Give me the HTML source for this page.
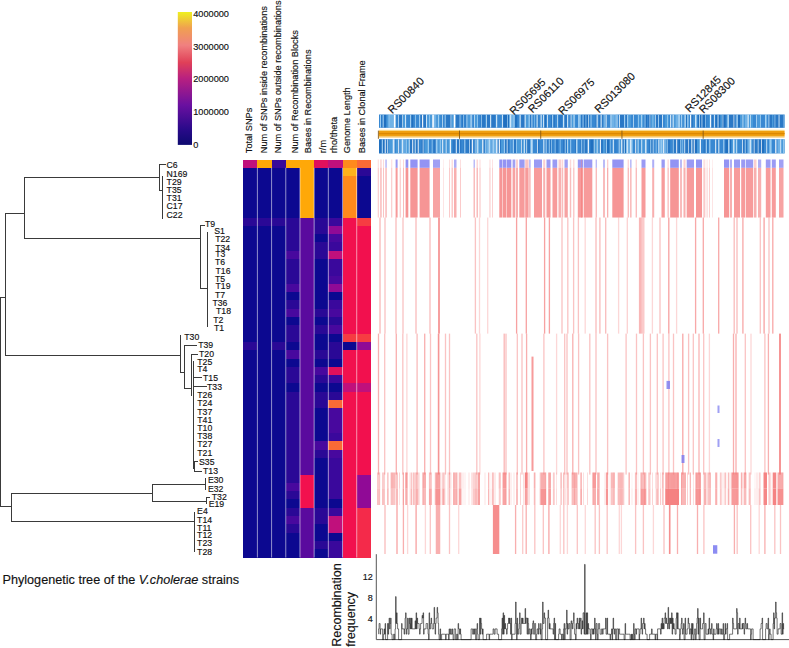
<!DOCTYPE html>
<html><head><meta charset="utf-8"><style>
html,body{margin:0;padding:0;background:#fff;width:789px;height:648px;overflow:hidden}
svg text{font-family:"Liberation Sans",sans-serif;stroke:#111;stroke-width:0.15px}
</style></head><body>
<svg width="789" height="648" viewBox="0 0 789 648" style="position:absolute;left:0;top:0">
<rect x="0" y="0" width="789" height="648" fill="#fff"/>
<g shape-rendering="crispEdges">
<rect x="243.20" y="159.50" width="14.49" height="8.59" fill="#c0107c"/>
<rect x="257.39" y="159.50" width="14.49" height="8.59" fill="#ffa808"/>
<rect x="271.58" y="159.50" width="14.49" height="8.59" fill="#380a9a"/>
<rect x="285.77" y="159.50" width="14.49" height="8.59" fill="#ffa808"/>
<rect x="299.96" y="159.50" width="14.49" height="8.59" fill="#ffa808"/>
<rect x="314.14" y="159.50" width="14.49" height="8.59" fill="#e0105c"/>
<rect x="328.33" y="159.50" width="14.49" height="8.59" fill="#c0107c"/>
<rect x="342.52" y="159.50" width="14.49" height="8.59" fill="#ff8a1c"/>
<rect x="356.71" y="159.50" width="14.49" height="8.59" fill="#fa6a36"/>
<rect x="243.20" y="167.79" width="14.49" height="8.59" fill="#0c0890"/>
<rect x="257.39" y="167.79" width="14.49" height="8.59" fill="#0c0890"/>
<rect x="271.58" y="167.79" width="14.49" height="8.59" fill="#0c0890"/>
<rect x="285.77" y="167.79" width="14.49" height="8.59" fill="#0c0890"/>
<rect x="299.96" y="167.79" width="14.49" height="8.59" fill="#ffa808"/>
<rect x="314.14" y="167.79" width="14.49" height="8.59" fill="#0c0890"/>
<rect x="328.33" y="167.79" width="14.49" height="8.59" fill="#0c0890"/>
<rect x="342.52" y="167.79" width="14.49" height="8.59" fill="#ffb21c"/>
<rect x="356.71" y="167.79" width="14.49" height="8.59" fill="#2a0896"/>
<rect x="243.20" y="176.08" width="14.49" height="8.59" fill="#0c0890"/>
<rect x="257.39" y="176.08" width="14.49" height="8.59" fill="#0c0890"/>
<rect x="271.58" y="176.08" width="14.49" height="8.59" fill="#0c0890"/>
<rect x="285.77" y="176.08" width="14.49" height="8.59" fill="#0c0890"/>
<rect x="299.96" y="176.08" width="14.49" height="8.59" fill="#ffa808"/>
<rect x="314.14" y="176.08" width="14.49" height="8.59" fill="#0c0890"/>
<rect x="328.33" y="176.08" width="14.49" height="8.59" fill="#0c0890"/>
<rect x="342.52" y="176.08" width="14.49" height="8.59" fill="#ff8a1c"/>
<rect x="356.71" y="176.08" width="14.49" height="8.59" fill="#0c0890"/>
<rect x="243.20" y="184.38" width="14.49" height="8.59" fill="#0c0890"/>
<rect x="257.39" y="184.38" width="14.49" height="8.59" fill="#0c0890"/>
<rect x="271.58" y="184.38" width="14.49" height="8.59" fill="#0c0890"/>
<rect x="285.77" y="184.38" width="14.49" height="8.59" fill="#0c0890"/>
<rect x="299.96" y="184.38" width="14.49" height="8.59" fill="#ffa808"/>
<rect x="314.14" y="184.38" width="14.49" height="8.59" fill="#0c0890"/>
<rect x="328.33" y="184.38" width="14.49" height="8.59" fill="#0c0890"/>
<rect x="342.52" y="184.38" width="14.49" height="8.59" fill="#ff8a1c"/>
<rect x="356.71" y="184.38" width="14.49" height="8.59" fill="#0c0890"/>
<rect x="243.20" y="192.67" width="14.49" height="8.59" fill="#0c0890"/>
<rect x="257.39" y="192.67" width="14.49" height="8.59" fill="#0c0890"/>
<rect x="271.58" y="192.67" width="14.49" height="8.59" fill="#0c0890"/>
<rect x="285.77" y="192.67" width="14.49" height="8.59" fill="#0c0890"/>
<rect x="299.96" y="192.67" width="14.49" height="8.59" fill="#ffa808"/>
<rect x="314.14" y="192.67" width="14.49" height="8.59" fill="#0c0890"/>
<rect x="328.33" y="192.67" width="14.49" height="8.59" fill="#0c0890"/>
<rect x="342.52" y="192.67" width="14.49" height="8.59" fill="#ff8a1c"/>
<rect x="356.71" y="192.67" width="14.49" height="8.59" fill="#0c0890"/>
<rect x="243.20" y="200.96" width="14.49" height="8.59" fill="#0c0890"/>
<rect x="257.39" y="200.96" width="14.49" height="8.59" fill="#0c0890"/>
<rect x="271.58" y="200.96" width="14.49" height="8.59" fill="#0c0890"/>
<rect x="285.77" y="200.96" width="14.49" height="8.59" fill="#0c0890"/>
<rect x="299.96" y="200.96" width="14.49" height="8.59" fill="#ffa808"/>
<rect x="314.14" y="200.96" width="14.49" height="8.59" fill="#0c0890"/>
<rect x="328.33" y="200.96" width="14.49" height="8.59" fill="#0c0890"/>
<rect x="342.52" y="200.96" width="14.49" height="8.59" fill="#ff8a1c"/>
<rect x="356.71" y="200.96" width="14.49" height="8.59" fill="#0c0890"/>
<rect x="243.20" y="209.25" width="14.49" height="8.59" fill="#0c0890"/>
<rect x="257.39" y="209.25" width="14.49" height="8.59" fill="#0c0890"/>
<rect x="271.58" y="209.25" width="14.49" height="8.59" fill="#0c0890"/>
<rect x="285.77" y="209.25" width="14.49" height="8.59" fill="#0c0890"/>
<rect x="299.96" y="209.25" width="14.49" height="8.59" fill="#ffa808"/>
<rect x="314.14" y="209.25" width="14.49" height="8.59" fill="#0c0890"/>
<rect x="328.33" y="209.25" width="14.49" height="8.59" fill="#0c0890"/>
<rect x="342.52" y="209.25" width="14.49" height="8.59" fill="#ff8a1c"/>
<rect x="356.71" y="209.25" width="14.49" height="8.59" fill="#0c0890"/>
<rect x="243.20" y="217.54" width="14.49" height="8.59" fill="#2a0896"/>
<rect x="257.39" y="217.54" width="14.49" height="8.59" fill="#2a0896"/>
<rect x="271.58" y="217.54" width="14.49" height="8.59" fill="#2a0896"/>
<rect x="285.77" y="217.54" width="14.49" height="8.59" fill="#2a0896"/>
<rect x="299.96" y="217.54" width="14.49" height="8.59" fill="#5a0a9e"/>
<rect x="314.14" y="217.54" width="14.49" height="8.59" fill="#2a0896"/>
<rect x="328.33" y="217.54" width="14.49" height="8.59" fill="#3a089c"/>
<rect x="342.52" y="217.54" width="14.49" height="8.59" fill="#f2104e"/>
<rect x="356.71" y="217.54" width="14.49" height="8.59" fill="#f63c42"/>
<rect x="243.20" y="225.83" width="14.49" height="8.59" fill="#0c0890"/>
<rect x="257.39" y="225.83" width="14.49" height="8.59" fill="#0c0890"/>
<rect x="271.58" y="225.83" width="14.49" height="8.59" fill="#0c0890"/>
<rect x="285.77" y="225.83" width="14.49" height="8.59" fill="#2a0896"/>
<rect x="299.96" y="225.83" width="14.49" height="8.59" fill="#5a0a9e"/>
<rect x="314.14" y="225.83" width="14.49" height="8.59" fill="#2a0896"/>
<rect x="328.33" y="225.83" width="14.49" height="8.59" fill="#900a96"/>
<rect x="342.52" y="225.83" width="14.49" height="8.59" fill="#f2104e"/>
<rect x="356.71" y="225.83" width="14.49" height="8.59" fill="#f2104e"/>
<rect x="243.20" y="234.12" width="14.49" height="8.59" fill="#0c0890"/>
<rect x="257.39" y="234.12" width="14.49" height="8.59" fill="#0c0890"/>
<rect x="271.58" y="234.12" width="14.49" height="8.59" fill="#0c0890"/>
<rect x="285.77" y="234.12" width="14.49" height="8.59" fill="#2a0896"/>
<rect x="299.96" y="234.12" width="14.49" height="8.59" fill="#5a0a9e"/>
<rect x="314.14" y="234.12" width="14.49" height="8.59" fill="#0c0890"/>
<rect x="328.33" y="234.12" width="14.49" height="8.59" fill="#48089e"/>
<rect x="342.52" y="234.12" width="14.49" height="8.59" fill="#f2104e"/>
<rect x="356.71" y="234.12" width="14.49" height="8.59" fill="#f2104e"/>
<rect x="243.20" y="242.42" width="14.49" height="8.59" fill="#0c0890"/>
<rect x="257.39" y="242.42" width="14.49" height="8.59" fill="#0c0890"/>
<rect x="271.58" y="242.42" width="14.49" height="8.59" fill="#0c0890"/>
<rect x="285.77" y="242.42" width="14.49" height="8.59" fill="#2a0896"/>
<rect x="299.96" y="242.42" width="14.49" height="8.59" fill="#5a0a9e"/>
<rect x="314.14" y="242.42" width="14.49" height="8.59" fill="#2a0896"/>
<rect x="328.33" y="242.42" width="14.49" height="8.59" fill="#3a089c"/>
<rect x="342.52" y="242.42" width="14.49" height="8.59" fill="#f2104e"/>
<rect x="356.71" y="242.42" width="14.49" height="8.59" fill="#f2104e"/>
<rect x="243.20" y="250.71" width="14.49" height="8.59" fill="#0c0890"/>
<rect x="257.39" y="250.71" width="14.49" height="8.59" fill="#0c0890"/>
<rect x="271.58" y="250.71" width="14.49" height="8.59" fill="#0c0890"/>
<rect x="285.77" y="250.71" width="14.49" height="8.59" fill="#48089e"/>
<rect x="299.96" y="250.71" width="14.49" height="8.59" fill="#5a0a9e"/>
<rect x="314.14" y="250.71" width="14.49" height="8.59" fill="#2a0896"/>
<rect x="328.33" y="250.71" width="14.49" height="8.59" fill="#c0107c"/>
<rect x="342.52" y="250.71" width="14.49" height="8.59" fill="#f2104e"/>
<rect x="356.71" y="250.71" width="14.49" height="8.59" fill="#f2104e"/>
<rect x="243.20" y="259.00" width="14.49" height="8.59" fill="#0c0890"/>
<rect x="257.39" y="259.00" width="14.49" height="8.59" fill="#0c0890"/>
<rect x="271.58" y="259.00" width="14.49" height="8.59" fill="#0c0890"/>
<rect x="285.77" y="259.00" width="14.49" height="8.59" fill="#2a0896"/>
<rect x="299.96" y="259.00" width="14.49" height="8.59" fill="#5a0a9e"/>
<rect x="314.14" y="259.00" width="14.49" height="8.59" fill="#0c0890"/>
<rect x="328.33" y="259.00" width="14.49" height="8.59" fill="#3a089c"/>
<rect x="342.52" y="259.00" width="14.49" height="8.59" fill="#f2104e"/>
<rect x="356.71" y="259.00" width="14.49" height="8.59" fill="#f2104e"/>
<rect x="243.20" y="267.29" width="14.49" height="8.59" fill="#0c0890"/>
<rect x="257.39" y="267.29" width="14.49" height="8.59" fill="#0c0890"/>
<rect x="271.58" y="267.29" width="14.49" height="8.59" fill="#0c0890"/>
<rect x="285.77" y="267.29" width="14.49" height="8.59" fill="#2a0896"/>
<rect x="299.96" y="267.29" width="14.49" height="8.59" fill="#5a0a9e"/>
<rect x="314.14" y="267.29" width="14.49" height="8.59" fill="#0c0890"/>
<rect x="328.33" y="267.29" width="14.49" height="8.59" fill="#3a089c"/>
<rect x="342.52" y="267.29" width="14.49" height="8.59" fill="#f2104e"/>
<rect x="356.71" y="267.29" width="14.49" height="8.59" fill="#f2104e"/>
<rect x="243.20" y="275.58" width="14.49" height="8.59" fill="#0c0890"/>
<rect x="257.39" y="275.58" width="14.49" height="8.59" fill="#0c0890"/>
<rect x="271.58" y="275.58" width="14.49" height="8.59" fill="#0c0890"/>
<rect x="285.77" y="275.58" width="14.49" height="8.59" fill="#2a0896"/>
<rect x="299.96" y="275.58" width="14.49" height="8.59" fill="#5a0a9e"/>
<rect x="314.14" y="275.58" width="14.49" height="8.59" fill="#0c0890"/>
<rect x="328.33" y="275.58" width="14.49" height="8.59" fill="#48089e"/>
<rect x="342.52" y="275.58" width="14.49" height="8.59" fill="#f2104e"/>
<rect x="356.71" y="275.58" width="14.49" height="8.59" fill="#f2104e"/>
<rect x="243.20" y="283.88" width="14.49" height="8.59" fill="#0c0890"/>
<rect x="257.39" y="283.88" width="14.49" height="8.59" fill="#0c0890"/>
<rect x="271.58" y="283.88" width="14.49" height="8.59" fill="#0c0890"/>
<rect x="285.77" y="283.88" width="14.49" height="8.59" fill="#48089e"/>
<rect x="299.96" y="283.88" width="14.49" height="8.59" fill="#5a0a9e"/>
<rect x="314.14" y="283.88" width="14.49" height="8.59" fill="#0c0890"/>
<rect x="328.33" y="283.88" width="14.49" height="8.59" fill="#900a96"/>
<rect x="342.52" y="283.88" width="14.49" height="8.59" fill="#f2104e"/>
<rect x="356.71" y="283.88" width="14.49" height="8.59" fill="#f2104e"/>
<rect x="243.20" y="292.17" width="14.49" height="8.59" fill="#0c0890"/>
<rect x="257.39" y="292.17" width="14.49" height="8.59" fill="#0c0890"/>
<rect x="271.58" y="292.17" width="14.49" height="8.59" fill="#0c0890"/>
<rect x="285.77" y="292.17" width="14.49" height="8.59" fill="#0c0890"/>
<rect x="299.96" y="292.17" width="14.49" height="8.59" fill="#5a0a9e"/>
<rect x="314.14" y="292.17" width="14.49" height="8.59" fill="#0c0890"/>
<rect x="328.33" y="292.17" width="14.49" height="8.59" fill="#0c0890"/>
<rect x="342.52" y="292.17" width="14.49" height="8.59" fill="#f2104e"/>
<rect x="356.71" y="292.17" width="14.49" height="8.59" fill="#f2104e"/>
<rect x="243.20" y="300.46" width="14.49" height="8.59" fill="#0c0890"/>
<rect x="257.39" y="300.46" width="14.49" height="8.59" fill="#0c0890"/>
<rect x="271.58" y="300.46" width="14.49" height="8.59" fill="#0c0890"/>
<rect x="285.77" y="300.46" width="14.49" height="8.59" fill="#2a0896"/>
<rect x="299.96" y="300.46" width="14.49" height="8.59" fill="#5a0a9e"/>
<rect x="314.14" y="300.46" width="14.49" height="8.59" fill="#0c0890"/>
<rect x="328.33" y="300.46" width="14.49" height="8.59" fill="#3a089c"/>
<rect x="342.52" y="300.46" width="14.49" height="8.59" fill="#f2104e"/>
<rect x="356.71" y="300.46" width="14.49" height="8.59" fill="#f2104e"/>
<rect x="243.20" y="308.75" width="14.49" height="8.59" fill="#0c0890"/>
<rect x="257.39" y="308.75" width="14.49" height="8.59" fill="#0c0890"/>
<rect x="271.58" y="308.75" width="14.49" height="8.59" fill="#0c0890"/>
<rect x="285.77" y="308.75" width="14.49" height="8.59" fill="#48089e"/>
<rect x="299.96" y="308.75" width="14.49" height="8.59" fill="#5a0a9e"/>
<rect x="314.14" y="308.75" width="14.49" height="8.59" fill="#2a0896"/>
<rect x="328.33" y="308.75" width="14.49" height="8.59" fill="#48089e"/>
<rect x="342.52" y="308.75" width="14.49" height="8.59" fill="#f2104e"/>
<rect x="356.71" y="308.75" width="14.49" height="8.59" fill="#f2104e"/>
<rect x="243.20" y="317.04" width="14.49" height="8.59" fill="#0c0890"/>
<rect x="257.39" y="317.04" width="14.49" height="8.59" fill="#0c0890"/>
<rect x="271.58" y="317.04" width="14.49" height="8.59" fill="#0c0890"/>
<rect x="285.77" y="317.04" width="14.49" height="8.59" fill="#0c0890"/>
<rect x="299.96" y="317.04" width="14.49" height="8.59" fill="#5a0a9e"/>
<rect x="314.14" y="317.04" width="14.49" height="8.59" fill="#0c0890"/>
<rect x="328.33" y="317.04" width="14.49" height="8.59" fill="#2a0896"/>
<rect x="342.52" y="317.04" width="14.49" height="8.59" fill="#f2104e"/>
<rect x="356.71" y="317.04" width="14.49" height="8.59" fill="#f2104e"/>
<rect x="243.20" y="325.33" width="14.49" height="8.59" fill="#0c0890"/>
<rect x="257.39" y="325.33" width="14.49" height="8.59" fill="#0c0890"/>
<rect x="271.58" y="325.33" width="14.49" height="8.59" fill="#0c0890"/>
<rect x="285.77" y="325.33" width="14.49" height="8.59" fill="#2a0896"/>
<rect x="299.96" y="325.33" width="14.49" height="8.59" fill="#5a0a9e"/>
<rect x="314.14" y="325.33" width="14.49" height="8.59" fill="#2a0896"/>
<rect x="328.33" y="325.33" width="14.49" height="8.59" fill="#48089e"/>
<rect x="342.52" y="325.33" width="14.49" height="8.59" fill="#f2104e"/>
<rect x="356.71" y="325.33" width="14.49" height="8.59" fill="#f2104e"/>
<rect x="243.20" y="333.62" width="14.49" height="8.59" fill="#0c0890"/>
<rect x="257.39" y="333.62" width="14.49" height="8.59" fill="#0c0890"/>
<rect x="271.58" y="333.62" width="14.49" height="8.59" fill="#0c0890"/>
<rect x="285.77" y="333.62" width="14.49" height="8.59" fill="#2a0896"/>
<rect x="299.96" y="333.62" width="14.49" height="8.59" fill="#5a0a9e"/>
<rect x="314.14" y="333.62" width="14.49" height="8.59" fill="#0c0890"/>
<rect x="328.33" y="333.62" width="14.49" height="8.59" fill="#0c0890"/>
<rect x="342.52" y="333.62" width="14.49" height="8.59" fill="#f63c42"/>
<rect x="356.71" y="333.62" width="14.49" height="8.59" fill="#f63c42"/>
<rect x="243.20" y="341.92" width="14.49" height="8.59" fill="#2a0896"/>
<rect x="257.39" y="341.92" width="14.49" height="8.59" fill="#0c0890"/>
<rect x="271.58" y="341.92" width="14.49" height="8.59" fill="#2a0896"/>
<rect x="285.77" y="341.92" width="14.49" height="8.59" fill="#0c0890"/>
<rect x="299.96" y="341.92" width="14.49" height="8.59" fill="#5a0a9e"/>
<rect x="314.14" y="341.92" width="14.49" height="8.59" fill="#0c0890"/>
<rect x="328.33" y="341.92" width="14.49" height="8.59" fill="#2a0896"/>
<rect x="342.52" y="341.92" width="14.49" height="8.59" fill="#0c0890"/>
<rect x="356.71" y="341.92" width="14.49" height="8.59" fill="#900a96"/>
<rect x="243.20" y="350.21" width="14.49" height="8.59" fill="#0c0890"/>
<rect x="257.39" y="350.21" width="14.49" height="8.59" fill="#0c0890"/>
<rect x="271.58" y="350.21" width="14.49" height="8.59" fill="#0c0890"/>
<rect x="285.77" y="350.21" width="14.49" height="8.59" fill="#48089e"/>
<rect x="299.96" y="350.21" width="14.49" height="8.59" fill="#5a0a9e"/>
<rect x="314.14" y="350.21" width="14.49" height="8.59" fill="#2a0896"/>
<rect x="328.33" y="350.21" width="14.49" height="8.59" fill="#2a0896"/>
<rect x="342.52" y="350.21" width="14.49" height="8.59" fill="#f2104e"/>
<rect x="356.71" y="350.21" width="14.49" height="8.59" fill="#f2104e"/>
<rect x="243.20" y="358.50" width="14.49" height="8.59" fill="#0c0890"/>
<rect x="257.39" y="358.50" width="14.49" height="8.59" fill="#0c0890"/>
<rect x="271.58" y="358.50" width="14.49" height="8.59" fill="#0c0890"/>
<rect x="285.77" y="358.50" width="14.49" height="8.59" fill="#0c0890"/>
<rect x="299.96" y="358.50" width="14.49" height="8.59" fill="#5a0a9e"/>
<rect x="314.14" y="358.50" width="14.49" height="8.59" fill="#0c0890"/>
<rect x="328.33" y="358.50" width="14.49" height="8.59" fill="#0c0890"/>
<rect x="342.52" y="358.50" width="14.49" height="8.59" fill="#f2104e"/>
<rect x="356.71" y="358.50" width="14.49" height="8.59" fill="#f2104e"/>
<rect x="243.20" y="366.79" width="14.49" height="8.59" fill="#0c0890"/>
<rect x="257.39" y="366.79" width="14.49" height="8.59" fill="#0c0890"/>
<rect x="271.58" y="366.79" width="14.49" height="8.59" fill="#0c0890"/>
<rect x="285.77" y="366.79" width="14.49" height="8.59" fill="#2a0896"/>
<rect x="299.96" y="366.79" width="14.49" height="8.59" fill="#5a0a9e"/>
<rect x="314.14" y="366.79" width="14.49" height="8.59" fill="#48089e"/>
<rect x="328.33" y="366.79" width="14.49" height="8.59" fill="#e0105c"/>
<rect x="342.52" y="366.79" width="14.49" height="8.59" fill="#f2104e"/>
<rect x="356.71" y="366.79" width="14.49" height="8.59" fill="#f2104e"/>
<rect x="243.20" y="375.08" width="14.49" height="8.59" fill="#0c0890"/>
<rect x="257.39" y="375.08" width="14.49" height="8.59" fill="#0c0890"/>
<rect x="271.58" y="375.08" width="14.49" height="8.59" fill="#0c0890"/>
<rect x="285.77" y="375.08" width="14.49" height="8.59" fill="#2a0896"/>
<rect x="299.96" y="375.08" width="14.49" height="8.59" fill="#5a0a9e"/>
<rect x="314.14" y="375.08" width="14.49" height="8.59" fill="#2a0896"/>
<rect x="328.33" y="375.08" width="14.49" height="8.59" fill="#3a089c"/>
<rect x="342.52" y="375.08" width="14.49" height="8.59" fill="#f2104e"/>
<rect x="356.71" y="375.08" width="14.49" height="8.59" fill="#f2104e"/>
<rect x="243.20" y="383.38" width="14.49" height="8.59" fill="#0c0890"/>
<rect x="257.39" y="383.38" width="14.49" height="8.59" fill="#0c0890"/>
<rect x="271.58" y="383.38" width="14.49" height="8.59" fill="#0c0890"/>
<rect x="285.77" y="383.38" width="14.49" height="8.59" fill="#0c0890"/>
<rect x="299.96" y="383.38" width="14.49" height="8.59" fill="#5a0a9e"/>
<rect x="314.14" y="383.38" width="14.49" height="8.59" fill="#0c0890"/>
<rect x="328.33" y="383.38" width="14.49" height="8.59" fill="#0c0890"/>
<rect x="342.52" y="383.38" width="14.49" height="8.59" fill="#c0107c"/>
<rect x="356.71" y="383.38" width="14.49" height="8.59" fill="#c0107c"/>
<rect x="243.20" y="391.67" width="14.49" height="8.59" fill="#0c0890"/>
<rect x="257.39" y="391.67" width="14.49" height="8.59" fill="#0c0890"/>
<rect x="271.58" y="391.67" width="14.49" height="8.59" fill="#0c0890"/>
<rect x="285.77" y="391.67" width="14.49" height="8.59" fill="#2a0896"/>
<rect x="299.96" y="391.67" width="14.49" height="8.59" fill="#5a0a9e"/>
<rect x="314.14" y="391.67" width="14.49" height="8.59" fill="#2a0896"/>
<rect x="328.33" y="391.67" width="14.49" height="8.59" fill="#2a0896"/>
<rect x="342.52" y="391.67" width="14.49" height="8.59" fill="#f2104e"/>
<rect x="356.71" y="391.67" width="14.49" height="8.59" fill="#f2104e"/>
<rect x="243.20" y="399.96" width="14.49" height="8.59" fill="#0c0890"/>
<rect x="257.39" y="399.96" width="14.49" height="8.59" fill="#0c0890"/>
<rect x="271.58" y="399.96" width="14.49" height="8.59" fill="#0c0890"/>
<rect x="285.77" y="399.96" width="14.49" height="8.59" fill="#2a0896"/>
<rect x="299.96" y="399.96" width="14.49" height="8.59" fill="#5a0a9e"/>
<rect x="314.14" y="399.96" width="14.49" height="8.59" fill="#2a0896"/>
<rect x="328.33" y="399.96" width="14.49" height="8.59" fill="#fa6a36"/>
<rect x="342.52" y="399.96" width="14.49" height="8.59" fill="#f2104e"/>
<rect x="356.71" y="399.96" width="14.49" height="8.59" fill="#f2104e"/>
<rect x="243.20" y="408.25" width="14.49" height="8.59" fill="#0c0890"/>
<rect x="257.39" y="408.25" width="14.49" height="8.59" fill="#0c0890"/>
<rect x="271.58" y="408.25" width="14.49" height="8.59" fill="#0c0890"/>
<rect x="285.77" y="408.25" width="14.49" height="8.59" fill="#2a0896"/>
<rect x="299.96" y="408.25" width="14.49" height="8.59" fill="#5a0a9e"/>
<rect x="314.14" y="408.25" width="14.49" height="8.59" fill="#0c0890"/>
<rect x="328.33" y="408.25" width="14.49" height="8.59" fill="#48089e"/>
<rect x="342.52" y="408.25" width="14.49" height="8.59" fill="#f2104e"/>
<rect x="356.71" y="408.25" width="14.49" height="8.59" fill="#f2104e"/>
<rect x="243.20" y="416.54" width="14.49" height="8.59" fill="#0c0890"/>
<rect x="257.39" y="416.54" width="14.49" height="8.59" fill="#0c0890"/>
<rect x="271.58" y="416.54" width="14.49" height="8.59" fill="#0c0890"/>
<rect x="285.77" y="416.54" width="14.49" height="8.59" fill="#2a0896"/>
<rect x="299.96" y="416.54" width="14.49" height="8.59" fill="#5a0a9e"/>
<rect x="314.14" y="416.54" width="14.49" height="8.59" fill="#0c0890"/>
<rect x="328.33" y="416.54" width="14.49" height="8.59" fill="#48089e"/>
<rect x="342.52" y="416.54" width="14.49" height="8.59" fill="#f2104e"/>
<rect x="356.71" y="416.54" width="14.49" height="8.59" fill="#f2104e"/>
<rect x="243.20" y="424.83" width="14.49" height="8.59" fill="#0c0890"/>
<rect x="257.39" y="424.83" width="14.49" height="8.59" fill="#0c0890"/>
<rect x="271.58" y="424.83" width="14.49" height="8.59" fill="#0c0890"/>
<rect x="285.77" y="424.83" width="14.49" height="8.59" fill="#2a0896"/>
<rect x="299.96" y="424.83" width="14.49" height="8.59" fill="#5a0a9e"/>
<rect x="314.14" y="424.83" width="14.49" height="8.59" fill="#0c0890"/>
<rect x="328.33" y="424.83" width="14.49" height="8.59" fill="#48089e"/>
<rect x="342.52" y="424.83" width="14.49" height="8.59" fill="#f2104e"/>
<rect x="356.71" y="424.83" width="14.49" height="8.59" fill="#f2104e"/>
<rect x="243.20" y="433.12" width="14.49" height="8.59" fill="#0c0890"/>
<rect x="257.39" y="433.12" width="14.49" height="8.59" fill="#0c0890"/>
<rect x="271.58" y="433.12" width="14.49" height="8.59" fill="#0c0890"/>
<rect x="285.77" y="433.12" width="14.49" height="8.59" fill="#2a0896"/>
<rect x="299.96" y="433.12" width="14.49" height="8.59" fill="#5a0a9e"/>
<rect x="314.14" y="433.12" width="14.49" height="8.59" fill="#0c0890"/>
<rect x="328.33" y="433.12" width="14.49" height="8.59" fill="#3a089c"/>
<rect x="342.52" y="433.12" width="14.49" height="8.59" fill="#f2104e"/>
<rect x="356.71" y="433.12" width="14.49" height="8.59" fill="#f2104e"/>
<rect x="243.20" y="441.42" width="14.49" height="8.59" fill="#0c0890"/>
<rect x="257.39" y="441.42" width="14.49" height="8.59" fill="#0c0890"/>
<rect x="271.58" y="441.42" width="14.49" height="8.59" fill="#0c0890"/>
<rect x="285.77" y="441.42" width="14.49" height="8.59" fill="#2a0896"/>
<rect x="299.96" y="441.42" width="14.49" height="8.59" fill="#5a0a9e"/>
<rect x="314.14" y="441.42" width="14.49" height="8.59" fill="#48089e"/>
<rect x="328.33" y="441.42" width="14.49" height="8.59" fill="#fa6a36"/>
<rect x="342.52" y="441.42" width="14.49" height="8.59" fill="#f2104e"/>
<rect x="356.71" y="441.42" width="14.49" height="8.59" fill="#f2104e"/>
<rect x="243.20" y="449.71" width="14.49" height="8.59" fill="#0c0890"/>
<rect x="257.39" y="449.71" width="14.49" height="8.59" fill="#0c0890"/>
<rect x="271.58" y="449.71" width="14.49" height="8.59" fill="#0c0890"/>
<rect x="285.77" y="449.71" width="14.49" height="8.59" fill="#2a0896"/>
<rect x="299.96" y="449.71" width="14.49" height="8.59" fill="#5a0a9e"/>
<rect x="314.14" y="449.71" width="14.49" height="8.59" fill="#2a0896"/>
<rect x="328.33" y="449.71" width="14.49" height="8.59" fill="#48089e"/>
<rect x="342.52" y="449.71" width="14.49" height="8.59" fill="#f2104e"/>
<rect x="356.71" y="449.71" width="14.49" height="8.59" fill="#f2104e"/>
<rect x="243.20" y="458.00" width="14.49" height="8.59" fill="#0c0890"/>
<rect x="257.39" y="458.00" width="14.49" height="8.59" fill="#0c0890"/>
<rect x="271.58" y="458.00" width="14.49" height="8.59" fill="#0c0890"/>
<rect x="285.77" y="458.00" width="14.49" height="8.59" fill="#2a0896"/>
<rect x="299.96" y="458.00" width="14.49" height="8.59" fill="#5a0a9e"/>
<rect x="314.14" y="458.00" width="14.49" height="8.59" fill="#0c0890"/>
<rect x="328.33" y="458.00" width="14.49" height="8.59" fill="#3a089c"/>
<rect x="342.52" y="458.00" width="14.49" height="8.59" fill="#f2104e"/>
<rect x="356.71" y="458.00" width="14.49" height="8.59" fill="#f2104e"/>
<rect x="243.20" y="466.29" width="14.49" height="8.59" fill="#0c0890"/>
<rect x="257.39" y="466.29" width="14.49" height="8.59" fill="#0c0890"/>
<rect x="271.58" y="466.29" width="14.49" height="8.59" fill="#0c0890"/>
<rect x="285.77" y="466.29" width="14.49" height="8.59" fill="#2a0896"/>
<rect x="299.96" y="466.29" width="14.49" height="8.59" fill="#5a0a9e"/>
<rect x="314.14" y="466.29" width="14.49" height="8.59" fill="#0c0890"/>
<rect x="328.33" y="466.29" width="14.49" height="8.59" fill="#3a089c"/>
<rect x="342.52" y="466.29" width="14.49" height="8.59" fill="#f2104e"/>
<rect x="356.71" y="466.29" width="14.49" height="8.59" fill="#f2104e"/>
<rect x="243.20" y="474.58" width="14.49" height="8.59" fill="#0c0890"/>
<rect x="257.39" y="474.58" width="14.49" height="8.59" fill="#0c0890"/>
<rect x="271.58" y="474.58" width="14.49" height="8.59" fill="#0c0890"/>
<rect x="285.77" y="474.58" width="14.49" height="8.59" fill="#2a0896"/>
<rect x="299.96" y="474.58" width="14.49" height="8.59" fill="#f2104e"/>
<rect x="314.14" y="474.58" width="14.49" height="8.59" fill="#0c0890"/>
<rect x="328.33" y="474.58" width="14.49" height="8.59" fill="#3a089c"/>
<rect x="342.52" y="474.58" width="14.49" height="8.59" fill="#f2104e"/>
<rect x="356.71" y="474.58" width="14.49" height="8.59" fill="#900a96"/>
<rect x="243.20" y="482.88" width="14.49" height="8.59" fill="#0c0890"/>
<rect x="257.39" y="482.88" width="14.49" height="8.59" fill="#0c0890"/>
<rect x="271.58" y="482.88" width="14.49" height="8.59" fill="#0c0890"/>
<rect x="285.77" y="482.88" width="14.49" height="8.59" fill="#48089e"/>
<rect x="299.96" y="482.88" width="14.49" height="8.59" fill="#f2104e"/>
<rect x="314.14" y="482.88" width="14.49" height="8.59" fill="#0c0890"/>
<rect x="328.33" y="482.88" width="14.49" height="8.59" fill="#3a089c"/>
<rect x="342.52" y="482.88" width="14.49" height="8.59" fill="#f2104e"/>
<rect x="356.71" y="482.88" width="14.49" height="8.59" fill="#900a96"/>
<rect x="243.20" y="491.17" width="14.49" height="8.59" fill="#0c0890"/>
<rect x="257.39" y="491.17" width="14.49" height="8.59" fill="#0c0890"/>
<rect x="271.58" y="491.17" width="14.49" height="8.59" fill="#0c0890"/>
<rect x="285.77" y="491.17" width="14.49" height="8.59" fill="#2a0896"/>
<rect x="299.96" y="491.17" width="14.49" height="8.59" fill="#f2104e"/>
<rect x="314.14" y="491.17" width="14.49" height="8.59" fill="#0c0890"/>
<rect x="328.33" y="491.17" width="14.49" height="8.59" fill="#3a089c"/>
<rect x="342.52" y="491.17" width="14.49" height="8.59" fill="#f2104e"/>
<rect x="356.71" y="491.17" width="14.49" height="8.59" fill="#900a96"/>
<rect x="243.20" y="499.46" width="14.49" height="8.59" fill="#0c0890"/>
<rect x="257.39" y="499.46" width="14.49" height="8.59" fill="#0c0890"/>
<rect x="271.58" y="499.46" width="14.49" height="8.59" fill="#0c0890"/>
<rect x="285.77" y="499.46" width="14.49" height="8.59" fill="#0c0890"/>
<rect x="299.96" y="499.46" width="14.49" height="8.59" fill="#f2104e"/>
<rect x="314.14" y="499.46" width="14.49" height="8.59" fill="#0c0890"/>
<rect x="328.33" y="499.46" width="14.49" height="8.59" fill="#0c0890"/>
<rect x="342.52" y="499.46" width="14.49" height="8.59" fill="#f2104e"/>
<rect x="356.71" y="499.46" width="14.49" height="8.59" fill="#900a96"/>
<rect x="243.20" y="507.75" width="14.49" height="8.59" fill="#0c0890"/>
<rect x="257.39" y="507.75" width="14.49" height="8.59" fill="#0c0890"/>
<rect x="271.58" y="507.75" width="14.49" height="8.59" fill="#0c0890"/>
<rect x="285.77" y="507.75" width="14.49" height="8.59" fill="#2a0896"/>
<rect x="299.96" y="507.75" width="14.49" height="8.59" fill="#5a0a9e"/>
<rect x="314.14" y="507.75" width="14.49" height="8.59" fill="#2a0896"/>
<rect x="328.33" y="507.75" width="14.49" height="8.59" fill="#3a089c"/>
<rect x="342.52" y="507.75" width="14.49" height="8.59" fill="#f2104e"/>
<rect x="356.71" y="507.75" width="14.49" height="8.59" fill="#f42a4a"/>
<rect x="243.20" y="516.04" width="14.49" height="8.59" fill="#0c0890"/>
<rect x="257.39" y="516.04" width="14.49" height="8.59" fill="#0c0890"/>
<rect x="271.58" y="516.04" width="14.49" height="8.59" fill="#0c0890"/>
<rect x="285.77" y="516.04" width="14.49" height="8.59" fill="#48089e"/>
<rect x="299.96" y="516.04" width="14.49" height="8.59" fill="#5a0a9e"/>
<rect x="314.14" y="516.04" width="14.49" height="8.59" fill="#2a0896"/>
<rect x="328.33" y="516.04" width="14.49" height="8.59" fill="#c0107c"/>
<rect x="342.52" y="516.04" width="14.49" height="8.59" fill="#f2104e"/>
<rect x="356.71" y="516.04" width="14.49" height="8.59" fill="#f42a4a"/>
<rect x="243.20" y="524.33" width="14.49" height="8.59" fill="#0c0890"/>
<rect x="257.39" y="524.33" width="14.49" height="8.59" fill="#0c0890"/>
<rect x="271.58" y="524.33" width="14.49" height="8.59" fill="#0c0890"/>
<rect x="285.77" y="524.33" width="14.49" height="8.59" fill="#2a0896"/>
<rect x="299.96" y="524.33" width="14.49" height="8.59" fill="#5a0a9e"/>
<rect x="314.14" y="524.33" width="14.49" height="8.59" fill="#0c0890"/>
<rect x="328.33" y="524.33" width="14.49" height="8.59" fill="#c0107c"/>
<rect x="342.52" y="524.33" width="14.49" height="8.59" fill="#f2104e"/>
<rect x="356.71" y="524.33" width="14.49" height="8.59" fill="#f42a4a"/>
<rect x="243.20" y="532.62" width="14.49" height="8.59" fill="#0c0890"/>
<rect x="257.39" y="532.62" width="14.49" height="8.59" fill="#0c0890"/>
<rect x="271.58" y="532.62" width="14.49" height="8.59" fill="#0c0890"/>
<rect x="285.77" y="532.62" width="14.49" height="8.59" fill="#0c0890"/>
<rect x="299.96" y="532.62" width="14.49" height="8.59" fill="#5a0a9e"/>
<rect x="314.14" y="532.62" width="14.49" height="8.59" fill="#0c0890"/>
<rect x="328.33" y="532.62" width="14.49" height="8.59" fill="#0c0890"/>
<rect x="342.52" y="532.62" width="14.49" height="8.59" fill="#f2104e"/>
<rect x="356.71" y="532.62" width="14.49" height="8.59" fill="#f42a4a"/>
<rect x="243.20" y="540.92" width="14.49" height="8.59" fill="#0c0890"/>
<rect x="257.39" y="540.92" width="14.49" height="8.59" fill="#0c0890"/>
<rect x="271.58" y="540.92" width="14.49" height="8.59" fill="#0c0890"/>
<rect x="285.77" y="540.92" width="14.49" height="8.59" fill="#0c0890"/>
<rect x="299.96" y="540.92" width="14.49" height="8.59" fill="#5a0a9e"/>
<rect x="314.14" y="540.92" width="14.49" height="8.59" fill="#2a0896"/>
<rect x="328.33" y="540.92" width="14.49" height="8.59" fill="#3a089c"/>
<rect x="342.52" y="540.92" width="14.49" height="8.59" fill="#f2104e"/>
<rect x="356.71" y="540.92" width="14.49" height="8.59" fill="#f42a4a"/>
<rect x="243.20" y="549.21" width="14.49" height="8.59" fill="#0c0890"/>
<rect x="257.39" y="549.21" width="14.49" height="8.59" fill="#0c0890"/>
<rect x="271.58" y="549.21" width="14.49" height="8.59" fill="#0c0890"/>
<rect x="285.77" y="549.21" width="14.49" height="8.59" fill="#0c0890"/>
<rect x="299.96" y="549.21" width="14.49" height="8.59" fill="#5a0a9e"/>
<rect x="314.14" y="549.21" width="14.49" height="8.59" fill="#0c0890"/>
<rect x="328.33" y="549.21" width="14.49" height="8.59" fill="#3a089c"/>
<rect x="342.52" y="549.21" width="14.49" height="8.59" fill="#f2104e"/>
<rect x="356.71" y="549.21" width="14.49" height="8.59" fill="#f42a4a"/>
</g>
<rect x="256.89" y="167.79" width="1" height="389.71" fill="#fff" opacity="0.55"/>
<rect x="271.08" y="167.79" width="1" height="389.71" fill="#fff" opacity="0.55"/>
<rect x="285.27" y="167.79" width="1" height="389.71" fill="#fff" opacity="0.55"/>
<rect x="299.46" y="167.79" width="1" height="389.71" fill="#fff" opacity="0.55"/>
<rect x="313.64" y="167.79" width="1" height="389.71" fill="#fff" opacity="0.55"/>
<rect x="327.83" y="167.79" width="1" height="389.71" fill="#fff" opacity="0.55"/>
<rect x="342.02" y="167.79" width="1" height="389.71" fill="#fff" opacity="0.55"/>
<rect x="356.21" y="167.79" width="1" height="389.71" fill="#fff" opacity="0.55"/>
<defs><linearGradient id="cb" x1="0" y1="1" x2="0" y2="0"><stop offset="0" stop-color="#0d0a70"/><stop offset="0.12" stop-color="#2a0a8a"/><stop offset="0.3" stop-color="#6a10a0"/><stop offset="0.5" stop-color="#b82080"/><stop offset="0.62" stop-color="#e04058"/><stop offset="0.75" stop-color="#f08080"/><stop offset="0.88" stop-color="#f0a050"/><stop offset="1" stop-color="#eef020"/></linearGradient></defs>
<rect x="177.8" y="12" width="14.2" height="132.9" fill="url(#cb)"/>
<text x="193.2" y="16.5" font-size="9.2" fill="#111">4000000</text>
<text x="193.2" y="49.5" font-size="9.2" fill="#111">3000000</text>
<text x="193.2" y="82.4" font-size="9.2" fill="#111">2000000</text>
<text x="193.2" y="115.4" font-size="9.2" fill="#111">1000000</text>
<text x="193.2" y="148.4" font-size="9.2" fill="#111">0</text>
<text transform="translate(251.80,153.2) rotate(-90)" font-size="9.2" fill="#111">Total SNPs</text>
<text transform="translate(266.80,153.2) rotate(-90)" font-size="9.2" fill="#111">Num of SNPs inside recombinations</text>
<text transform="translate(280.80,153.2) rotate(-90)" font-size="9.2" fill="#111">Num of SNPs outside recombinations</text>
<text transform="translate(297.50,153.2) rotate(-90)" font-size="9.2" fill="#111">Num of Recombination Blocks</text>
<text transform="translate(311.20,153.2) rotate(-90)" font-size="9.2" fill="#111">Bases in Recombinations</text>
<text transform="translate(325.50,153.2) rotate(-90)" font-size="9.2" fill="#111">r/m</text>
<text transform="translate(337.30,153.2) rotate(-90)" font-size="9.2" fill="#111">rho/theta</text>
<text transform="translate(350.30,153.2) rotate(-90)" font-size="9.2" fill="#111">Genome Length</text>
<text transform="translate(364.90,153.2) rotate(-90)" font-size="9.2" fill="#111">Bases in Clonal Frame</text>
<line x1="0.5" y1="297.0" x2="0.5" y2="507.0" stroke="#3a3a3a" stroke-width="1" fill="none"/>
<line x1="0.0" y1="297.5" x2="6.0" y2="297.5" stroke="#3a3a3a" stroke-width="1" fill="none"/>
<line x1="0.0" y1="506.5" x2="12.0" y2="506.5" stroke="#3a3a3a" stroke-width="1" fill="none"/>
<line x1="5.5" y1="213.0" x2="5.5" y2="356.0" stroke="#3a3a3a" stroke-width="1" fill="none"/>
<line x1="5.0" y1="213.5" x2="25.0" y2="213.5" stroke="#3a3a3a" stroke-width="1" fill="none"/>
<line x1="5.0" y1="355.5" x2="181.0" y2="355.5" stroke="#3a3a3a" stroke-width="1" fill="none"/>
<line x1="24.5" y1="177.0" x2="24.5" y2="239.0" stroke="#3a3a3a" stroke-width="1" fill="none"/>
<line x1="24.0" y1="177.5" x2="160.0" y2="177.5" stroke="#3a3a3a" stroke-width="1" fill="none"/>
<line x1="24.0" y1="238.5" x2="201.0" y2="238.5" stroke="#3a3a3a" stroke-width="1" fill="none"/>
<line x1="159.5" y1="164.0" x2="159.5" y2="191.0" stroke="#3a3a3a" stroke-width="1" fill="none"/>
<line x1="159.0" y1="164.5" x2="166.0" y2="164.5" stroke="#3a3a3a" stroke-width="1" fill="none"/>
<line x1="159.0" y1="190.5" x2="163.0" y2="190.5" stroke="#3a3a3a" stroke-width="1" fill="none"/>
<line x1="162.5" y1="176.0" x2="162.5" y2="219.0" stroke="#3a3a3a" stroke-width="1" fill="none"/>
<line x1="200.5" y1="225.0" x2="200.5" y2="289.0" stroke="#3a3a3a" stroke-width="1" fill="none"/>
<line x1="200.0" y1="225.5" x2="205.0" y2="225.5" stroke="#3a3a3a" stroke-width="1" fill="none"/>
<line x1="200.0" y1="288.5" x2="208.0" y2="288.5" stroke="#3a3a3a" stroke-width="1" fill="none"/>
<line x1="207.5" y1="232.0" x2="207.5" y2="327.0" stroke="#3a3a3a" stroke-width="1" fill="none"/>
<line x1="180.5" y1="335.0" x2="180.5" y2="373.0" stroke="#3a3a3a" stroke-width="1" fill="none"/>
<line x1="180.0" y1="372.5" x2="185.0" y2="372.5" stroke="#3a3a3a" stroke-width="1" fill="none"/>
<line x1="184.5" y1="345.0" x2="184.5" y2="389.0" stroke="#3a3a3a" stroke-width="1" fill="none"/>
<line x1="184.0" y1="345.5" x2="197.0" y2="345.5" stroke="#3a3a3a" stroke-width="1" fill="none"/>
<line x1="184.0" y1="388.5" x2="192.0" y2="388.5" stroke="#3a3a3a" stroke-width="1" fill="none"/>
<line x1="191.5" y1="354.0" x2="191.5" y2="396.0" stroke="#3a3a3a" stroke-width="1" fill="none"/>
<line x1="191.0" y1="354.5" x2="198.0" y2="354.5" stroke="#3a3a3a" stroke-width="1" fill="none"/>
<line x1="193.5" y1="361.0" x2="193.5" y2="469.0" stroke="#3a3a3a" stroke-width="1" fill="none"/>
<line x1="193.0" y1="377.5" x2="202.0" y2="377.5" stroke="#3a3a3a" stroke-width="1" fill="none"/>
<line x1="193.0" y1="386.5" x2="207.0" y2="386.5" stroke="#3a3a3a" stroke-width="1" fill="none"/>
<line x1="194.5" y1="461.0" x2="194.5" y2="472.0" stroke="#3a3a3a" stroke-width="1" fill="none"/>
<line x1="194.0" y1="461.5" x2="198.0" y2="461.5" stroke="#3a3a3a" stroke-width="1" fill="none"/>
<line x1="194.0" y1="471.5" x2="202.0" y2="471.5" stroke="#3a3a3a" stroke-width="1" fill="none"/>
<line x1="11.5" y1="493.0" x2="11.5" y2="522.0" stroke="#3a3a3a" stroke-width="1" fill="none"/>
<line x1="11.0" y1="493.5" x2="153.0" y2="493.5" stroke="#3a3a3a" stroke-width="1" fill="none"/>
<line x1="11.0" y1="521.5" x2="195.0" y2="521.5" stroke="#3a3a3a" stroke-width="1" fill="none"/>
<line x1="152.5" y1="484.0" x2="152.5" y2="502.0" stroke="#3a3a3a" stroke-width="1" fill="none"/>
<line x1="152.0" y1="484.5" x2="206.0" y2="484.5" stroke="#3a3a3a" stroke-width="1" fill="none"/>
<line x1="152.0" y1="501.5" x2="207.0" y2="501.5" stroke="#3a3a3a" stroke-width="1" fill="none"/>
<line x1="205.5" y1="478.0" x2="205.5" y2="490.0" stroke="#3a3a3a" stroke-width="1" fill="none"/>
<line x1="206.5" y1="497.0" x2="206.5" y2="504.0" stroke="#3a3a3a" stroke-width="1" fill="none"/>
<line x1="206.0" y1="497.5" x2="210.0" y2="497.5" stroke="#3a3a3a" stroke-width="1" fill="none"/>
<line x1="194.5" y1="512.0" x2="194.5" y2="552.0" stroke="#3a3a3a" stroke-width="1" fill="none"/>
<text x="166.6" y="167.7" font-size="8.7" fill="#111">C6</text>
<text x="166.6" y="176.5" font-size="8.7" fill="#111">N169</text>
<text x="166.6" y="184.7" font-size="8.7" fill="#111">T29</text>
<text x="166.6" y="192.6" font-size="8.7" fill="#111">T35</text>
<text x="166.6" y="200.6" font-size="8.7" fill="#111">T31</text>
<text x="166.6" y="208.8" font-size="8.7" fill="#111">C17</text>
<text x="166.6" y="217.5" font-size="8.7" fill="#111">C22</text>
<text x="205" y="227.4" font-size="8.7" fill="#111">T9</text>
<text x="214.3" y="234.4" font-size="8.7" fill="#111">S1</text>
<text x="215.2" y="242.1" font-size="8.7" fill="#111">T22</text>
<text x="215.2" y="250.5" font-size="8.7" fill="#111">T34</text>
<text x="215.2" y="257.4" font-size="8.7" fill="#111">T3</text>
<text x="215" y="265.3" font-size="8.7" fill="#111">T6</text>
<text x="215.5" y="273.6" font-size="8.7" fill="#111">T16</text>
<text x="215" y="282.0" font-size="8.7" fill="#111">T5</text>
<text x="215.5" y="289.4" font-size="8.7" fill="#111">T19</text>
<text x="215" y="298.1" font-size="8.7" fill="#111">T7</text>
<text x="212.4" y="306.1" font-size="8.7" fill="#111">T36</text>
<text x="216" y="313.5" font-size="8.7" fill="#111">T18</text>
<text x="213.3" y="322.7" font-size="8.7" fill="#111">T2</text>
<text x="214.0" y="330.7" font-size="8.7" fill="#111">T1</text>
<text x="184.3" y="339.7" font-size="8.7" fill="#111">T30</text>
<text x="198.2" y="348.4" font-size="8.7" fill="#111">T39</text>
<text x="199" y="356.7" font-size="8.7" fill="#111">T20</text>
<text x="197.3" y="364.7" font-size="8.7" fill="#111">T25</text>
<text x="197.3" y="372.1" font-size="8.7" fill="#111">T4</text>
<text x="203" y="381.1" font-size="8.7" fill="#111">T15</text>
<text x="207" y="389.6" font-size="8.7" fill="#111">T33</text>
<text x="197.3" y="397.6" font-size="8.7" fill="#111">T26</text>
<text x="197.3" y="405.9" font-size="8.7" fill="#111">T24</text>
<text x="197.3" y="414.7" font-size="8.7" fill="#111">T37</text>
<text x="197.3" y="422.7" font-size="8.7" fill="#111">T41</text>
<text x="197.3" y="430.5" font-size="8.7" fill="#111">T10</text>
<text x="197.3" y="438.6" font-size="8.7" fill="#111">T38</text>
<text x="197.3" y="446.9" font-size="8.7" fill="#111">T27</text>
<text x="197.3" y="455.5" font-size="8.7" fill="#111">T21</text>
<text x="199" y="465.1" font-size="8.7" fill="#111">S35</text>
<text x="203" y="474.3" font-size="8.7" fill="#111">T13</text>
<text x="207.9" y="482.8" font-size="8.7" fill="#111">E30</text>
<text x="207.9" y="491.6" font-size="8.7" fill="#111">E32</text>
<text x="211.8" y="499.7" font-size="8.7" fill="#111">T32</text>
<text x="208.7" y="506.7" font-size="8.7" fill="#111">E19</text>
<text x="197.1" y="514.4" font-size="8.7" fill="#111">E4</text>
<text x="197.1" y="522.9" font-size="8.7" fill="#111">T14</text>
<text x="197.1" y="530.6" font-size="8.7" fill="#111">T11</text>
<text x="197.1" y="538.3" font-size="8.7" fill="#111">T12</text>
<text x="197.1" y="546.1" font-size="8.7" fill="#111">T23</text>
<text x="197.1" y="554.5" font-size="8.7" fill="#111">T28</text>
<text x="2.5" y="583.7" font-size="12.65" fill="#111">Phylogenetic tree of the <tspan font-style="italic">V.cholerae</tspan> strains</text>
<rect x="379.0" y="114.7" width="405.6" height="12.899999999999991" fill="#3888d2"/>
<rect x="379.00" y="114.7" width="2.50" height="12.899999999999991" fill="#3888d2"/>
<rect x="381.50" y="114.7" width="5.00" height="12.899999999999991" fill="#2070c0"/>
<rect x="386.50" y="114.7" width="2.50" height="12.899999999999991" fill="#4a9ada"/>
<rect x="389.00" y="114.7" width="5.00" height="12.899999999999991" fill="#70b2e6"/>
<rect x="394.00" y="114.7" width="1.50" height="12.899999999999991" fill="#3888d2"/>
<rect x="395.50" y="114.7" width="2.50" height="12.899999999999991" fill="#3888d2"/>
<rect x="398.00" y="114.7" width="5.00" height="12.899999999999991" fill="#2a78c6"/>
<rect x="403.00" y="114.7" width="2.50" height="12.899999999999991" fill="#4a9ada"/>
<rect x="405.50" y="114.7" width="1.00" height="12.899999999999991" fill="#70b2e6"/>
<rect x="406.50" y="114.7" width="4.00" height="12.899999999999991" fill="#3888d2"/>
<rect x="410.50" y="114.7" width="3.00" height="12.899999999999991" fill="#2070c0"/>
<rect x="413.50" y="114.7" width="2.50" height="12.899999999999991" fill="#3888d2"/>
<rect x="416.00" y="114.7" width="3.00" height="12.899999999999991" fill="#3888d2"/>
<rect x="419.00" y="114.7" width="3.00" height="12.899999999999991" fill="#2a78c6"/>
<rect x="422.00" y="114.7" width="3.00" height="12.899999999999991" fill="#2a78c6"/>
<rect x="425.00" y="114.7" width="1.00" height="12.899999999999991" fill="#2a78c6"/>
<rect x="426.00" y="114.7" width="1.50" height="12.899999999999991" fill="#70b2e6"/>
<rect x="427.50" y="114.7" width="5.00" height="12.899999999999991" fill="#4a9ada"/>
<rect x="432.50" y="114.7" width="2.50" height="12.899999999999991" fill="#70b2e6"/>
<rect x="435.00" y="114.7" width="1.50" height="12.899999999999991" fill="#70b2e6"/>
<rect x="436.50" y="114.7" width="4.00" height="12.899999999999991" fill="#4a9ada"/>
<rect x="440.50" y="114.7" width="1.00" height="12.899999999999991" fill="#3888d2"/>
<rect x="441.50" y="114.7" width="2.50" height="12.899999999999991" fill="#3888d2"/>
<rect x="444.00" y="114.7" width="2.50" height="12.899999999999991" fill="#2070c0"/>
<rect x="446.50" y="114.7" width="5.00" height="12.899999999999991" fill="#2a78c6"/>
<rect x="451.50" y="114.7" width="2.00" height="12.899999999999991" fill="#4a9ada"/>
<rect x="453.50" y="114.7" width="1.50" height="12.899999999999991" fill="#70b2e6"/>
<rect x="455.00" y="114.7" width="1.00" height="12.899999999999991" fill="#2a78c6"/>
<rect x="456.00" y="114.7" width="5.00" height="12.899999999999991" fill="#2a78c6"/>
<rect x="461.00" y="114.7" width="1.00" height="12.899999999999991" fill="#3888d2"/>
<rect x="462.00" y="114.7" width="2.50" height="12.899999999999991" fill="#2a78c6"/>
<rect x="464.50" y="114.7" width="1.00" height="12.899999999999991" fill="#3888d2"/>
<rect x="465.50" y="114.7" width="1.00" height="12.899999999999991" fill="#2a78c6"/>
<rect x="466.50" y="114.7" width="1.00" height="12.899999999999991" fill="#4a9ada"/>
<rect x="467.50" y="114.7" width="4.00" height="12.899999999999991" fill="#4a9ada"/>
<rect x="471.50" y="114.7" width="1.00" height="12.899999999999991" fill="#70b2e6"/>
<rect x="472.50" y="114.7" width="1.50" height="12.899999999999991" fill="#3888d2"/>
<rect x="474.00" y="114.7" width="2.00" height="12.899999999999991" fill="#4a9ada"/>
<rect x="476.00" y="114.7" width="2.00" height="12.899999999999991" fill="#4a9ada"/>
<rect x="478.00" y="114.7" width="2.50" height="12.899999999999991" fill="#3888d2"/>
<rect x="480.50" y="114.7" width="1.00" height="12.899999999999991" fill="#2a78c6"/>
<rect x="481.50" y="114.7" width="4.00" height="12.899999999999991" fill="#2a78c6"/>
<rect x="485.50" y="114.7" width="1.00" height="12.899999999999991" fill="#4a9ada"/>
<rect x="486.50" y="114.7" width="2.50" height="12.899999999999991" fill="#2a78c6"/>
<rect x="489.00" y="114.7" width="3.00" height="12.899999999999991" fill="#2a78c6"/>
<rect x="492.00" y="114.7" width="3.00" height="12.899999999999991" fill="#2a78c6"/>
<rect x="495.00" y="114.7" width="4.00" height="12.899999999999991" fill="#3888d2"/>
<rect x="499.00" y="114.7" width="2.50" height="12.899999999999991" fill="#3888d2"/>
<rect x="501.50" y="114.7" width="1.00" height="12.899999999999991" fill="#4a9ada"/>
<rect x="502.50" y="114.7" width="1.50" height="12.899999999999991" fill="#2a78c6"/>
<rect x="504.00" y="114.7" width="5.00" height="12.899999999999991" fill="#2070c0"/>
<rect x="509.00" y="114.7" width="5.00" height="12.899999999999991" fill="#70b2e6"/>
<rect x="514.00" y="114.7" width="1.00" height="12.899999999999991" fill="#2a78c6"/>
<rect x="515.00" y="114.7" width="2.50" height="12.899999999999991" fill="#2070c0"/>
<rect x="517.50" y="114.7" width="3.00" height="12.899999999999991" fill="#3888d2"/>
<rect x="520.50" y="114.7" width="1.00" height="12.899999999999991" fill="#2a78c6"/>
<rect x="521.50" y="114.7" width="1.50" height="12.899999999999991" fill="#2a78c6"/>
<rect x="523.00" y="114.7" width="2.00" height="12.899999999999991" fill="#2a78c6"/>
<rect x="525.00" y="114.7" width="3.00" height="12.899999999999991" fill="#4a9ada"/>
<rect x="528.00" y="114.7" width="2.00" height="12.899999999999991" fill="#4a9ada"/>
<rect x="530.00" y="114.7" width="1.00" height="12.899999999999991" fill="#2a78c6"/>
<rect x="531.00" y="114.7" width="3.00" height="12.899999999999991" fill="#3888d2"/>
<rect x="534.00" y="114.7" width="1.00" height="12.899999999999991" fill="#70b2e6"/>
<rect x="535.00" y="114.7" width="2.00" height="12.899999999999991" fill="#3888d2"/>
<rect x="537.00" y="114.7" width="1.50" height="12.899999999999991" fill="#2070c0"/>
<rect x="538.50" y="114.7" width="2.50" height="12.899999999999991" fill="#3888d2"/>
<rect x="541.00" y="114.7" width="1.50" height="12.899999999999991" fill="#3888d2"/>
<rect x="542.50" y="114.7" width="1.50" height="12.899999999999991" fill="#3888d2"/>
<rect x="544.00" y="114.7" width="2.00" height="12.899999999999991" fill="#2070c0"/>
<rect x="546.00" y="114.7" width="5.00" height="12.899999999999991" fill="#3888d2"/>
<rect x="551.00" y="114.7" width="4.00" height="12.899999999999991" fill="#2a78c6"/>
<rect x="555.00" y="114.7" width="4.00" height="12.899999999999991" fill="#3888d2"/>
<rect x="559.00" y="114.7" width="3.00" height="12.899999999999991" fill="#2a78c6"/>
<rect x="562.00" y="114.7" width="2.50" height="12.899999999999991" fill="#3888d2"/>
<rect x="564.50" y="114.7" width="3.00" height="12.899999999999991" fill="#2a78c6"/>
<rect x="567.50" y="114.7" width="1.00" height="12.899999999999991" fill="#2a78c6"/>
<rect x="568.50" y="114.7" width="1.00" height="12.899999999999991" fill="#70b2e6"/>
<rect x="569.50" y="114.7" width="2.00" height="12.899999999999991" fill="#2a78c6"/>
<rect x="571.50" y="114.7" width="4.00" height="12.899999999999991" fill="#4a9ada"/>
<rect x="575.50" y="114.7" width="2.50" height="12.899999999999991" fill="#3888d2"/>
<rect x="578.00" y="114.7" width="3.00" height="12.899999999999991" fill="#70b2e6"/>
<rect x="581.00" y="114.7" width="3.00" height="12.899999999999991" fill="#2a78c6"/>
<rect x="584.00" y="114.7" width="4.00" height="12.899999999999991" fill="#2070c0"/>
<rect x="588.00" y="114.7" width="1.50" height="12.899999999999991" fill="#2a78c6"/>
<rect x="589.50" y="114.7" width="3.00" height="12.899999999999991" fill="#3888d2"/>
<rect x="592.50" y="114.7" width="3.00" height="12.899999999999991" fill="#3888d2"/>
<rect x="595.50" y="114.7" width="2.00" height="12.899999999999991" fill="#2a78c6"/>
<rect x="597.50" y="114.7" width="1.50" height="12.899999999999991" fill="#3888d2"/>
<rect x="599.00" y="114.7" width="1.00" height="12.899999999999991" fill="#2a78c6"/>
<rect x="600.00" y="114.7" width="2.50" height="12.899999999999991" fill="#2a78c6"/>
<rect x="602.50" y="114.7" width="1.00" height="12.899999999999991" fill="#2a78c6"/>
<rect x="603.50" y="114.7" width="2.00" height="12.899999999999991" fill="#70b2e6"/>
<rect x="605.50" y="114.7" width="1.50" height="12.899999999999991" fill="#2a78c6"/>
<rect x="607.00" y="114.7" width="1.50" height="12.899999999999991" fill="#3888d2"/>
<rect x="608.50" y="114.7" width="2.00" height="12.899999999999991" fill="#3888d2"/>
<rect x="610.50" y="114.7" width="4.00" height="12.899999999999991" fill="#70b2e6"/>
<rect x="614.50" y="114.7" width="1.50" height="12.899999999999991" fill="#70b2e6"/>
<rect x="616.00" y="114.7" width="1.00" height="12.899999999999991" fill="#4a9ada"/>
<rect x="617.00" y="114.7" width="2.00" height="12.899999999999991" fill="#3888d2"/>
<rect x="619.00" y="114.7" width="1.00" height="12.899999999999991" fill="#2a78c6"/>
<rect x="620.00" y="114.7" width="4.00" height="12.899999999999991" fill="#2a78c6"/>
<rect x="624.00" y="114.7" width="1.00" height="12.899999999999991" fill="#3888d2"/>
<rect x="625.00" y="114.7" width="2.00" height="12.899999999999991" fill="#2a78c6"/>
<rect x="627.00" y="114.7" width="1.00" height="12.899999999999991" fill="#2a78c6"/>
<rect x="628.00" y="114.7" width="3.00" height="12.899999999999991" fill="#4a9ada"/>
<rect x="631.00" y="114.7" width="1.00" height="12.899999999999991" fill="#3888d2"/>
<rect x="632.00" y="114.7" width="4.00" height="12.899999999999991" fill="#3888d2"/>
<rect x="636.00" y="114.7" width="1.50" height="12.899999999999991" fill="#3888d2"/>
<rect x="637.50" y="114.7" width="2.00" height="12.899999999999991" fill="#4a9ada"/>
<rect x="639.50" y="114.7" width="4.00" height="12.899999999999991" fill="#4a9ada"/>
<rect x="643.50" y="114.7" width="1.00" height="12.899999999999991" fill="#3888d2"/>
<rect x="644.50" y="114.7" width="2.50" height="12.899999999999991" fill="#2070c0"/>
<rect x="647.00" y="114.7" width="1.00" height="12.899999999999991" fill="#3888d2"/>
<rect x="648.00" y="114.7" width="3.00" height="12.899999999999991" fill="#2a78c6"/>
<rect x="651.00" y="114.7" width="4.00" height="12.899999999999991" fill="#4a9ada"/>
<rect x="655.00" y="114.7" width="3.00" height="12.899999999999991" fill="#2a78c6"/>
<rect x="658.00" y="114.7" width="1.00" height="12.899999999999991" fill="#2a78c6"/>
<rect x="659.00" y="114.7" width="4.00" height="12.899999999999991" fill="#2a78c6"/>
<rect x="663.00" y="114.7" width="2.00" height="12.899999999999991" fill="#3888d2"/>
<rect x="665.00" y="114.7" width="4.00" height="12.899999999999991" fill="#4a9ada"/>
<rect x="669.00" y="114.7" width="4.00" height="12.899999999999991" fill="#3888d2"/>
<rect x="673.00" y="114.7" width="2.50" height="12.899999999999991" fill="#4a9ada"/>
<rect x="675.50" y="114.7" width="5.00" height="12.899999999999991" fill="#70b2e6"/>
<rect x="680.50" y="114.7" width="3.00" height="12.899999999999991" fill="#3888d2"/>
<rect x="683.50" y="114.7" width="1.00" height="12.899999999999991" fill="#4a9ada"/>
<rect x="684.50" y="114.7" width="1.00" height="12.899999999999991" fill="#4a9ada"/>
<rect x="685.50" y="114.7" width="1.50" height="12.899999999999991" fill="#2070c0"/>
<rect x="687.00" y="114.7" width="1.00" height="12.899999999999991" fill="#70b2e6"/>
<rect x="688.00" y="114.7" width="3.00" height="12.899999999999991" fill="#3888d2"/>
<rect x="691.00" y="114.7" width="2.50" height="12.899999999999991" fill="#2a78c6"/>
<rect x="693.50" y="114.7" width="1.00" height="12.899999999999991" fill="#4a9ada"/>
<rect x="694.50" y="114.7" width="1.50" height="12.899999999999991" fill="#3888d2"/>
<rect x="696.00" y="114.7" width="1.50" height="12.899999999999991" fill="#70b2e6"/>
<rect x="697.50" y="114.7" width="5.00" height="12.899999999999991" fill="#2070c0"/>
<rect x="702.50" y="114.7" width="4.00" height="12.899999999999991" fill="#2070c0"/>
<rect x="706.50" y="114.7" width="2.50" height="12.899999999999991" fill="#3888d2"/>
<rect x="709.00" y="114.7" width="2.00" height="12.899999999999991" fill="#4a9ada"/>
<rect x="711.00" y="114.7" width="2.00" height="12.899999999999991" fill="#2a78c6"/>
<rect x="713.00" y="114.7" width="2.50" height="12.899999999999991" fill="#3888d2"/>
<rect x="715.50" y="114.7" width="5.00" height="12.899999999999991" fill="#2070c0"/>
<rect x="720.50" y="114.7" width="1.50" height="12.899999999999991" fill="#4a9ada"/>
<rect x="722.00" y="114.7" width="3.00" height="12.899999999999991" fill="#2070c0"/>
<rect x="725.00" y="114.7" width="1.50" height="12.899999999999991" fill="#2a78c6"/>
<rect x="726.50" y="114.7" width="2.50" height="12.899999999999991" fill="#4a9ada"/>
<rect x="729.00" y="114.7" width="5.00" height="12.899999999999991" fill="#2a78c6"/>
<rect x="734.00" y="114.7" width="1.00" height="12.899999999999991" fill="#2070c0"/>
<rect x="735.00" y="114.7" width="2.00" height="12.899999999999991" fill="#3888d2"/>
<rect x="737.00" y="114.7" width="1.00" height="12.899999999999991" fill="#4a9ada"/>
<rect x="738.00" y="114.7" width="2.00" height="12.899999999999991" fill="#2070c0"/>
<rect x="740.00" y="114.7" width="5.00" height="12.899999999999991" fill="#4a9ada"/>
<rect x="745.00" y="114.7" width="4.00" height="12.899999999999991" fill="#70b2e6"/>
<rect x="749.00" y="114.7" width="4.00" height="12.899999999999991" fill="#4a9ada"/>
<rect x="753.00" y="114.7" width="5.00" height="12.899999999999991" fill="#3888d2"/>
<rect x="758.00" y="114.7" width="3.00" height="12.899999999999991" fill="#4a9ada"/>
<rect x="761.00" y="114.7" width="1.00" height="12.899999999999991" fill="#3888d2"/>
<rect x="762.00" y="114.7" width="2.00" height="12.899999999999991" fill="#3888d2"/>
<rect x="764.00" y="114.7" width="1.00" height="12.899999999999991" fill="#3888d2"/>
<rect x="765.00" y="114.7" width="2.00" height="12.899999999999991" fill="#70b2e6"/>
<rect x="767.00" y="114.7" width="2.00" height="12.899999999999991" fill="#3888d2"/>
<rect x="769.00" y="114.7" width="3.00" height="12.899999999999991" fill="#2a78c6"/>
<rect x="772.00" y="114.7" width="1.50" height="12.899999999999991" fill="#4a9ada"/>
<rect x="773.50" y="114.7" width="1.50" height="12.899999999999991" fill="#2a78c6"/>
<rect x="775.00" y="114.7" width="5.00" height="12.899999999999991" fill="#2a78c6"/>
<rect x="780.00" y="114.7" width="4.60" height="12.899999999999991" fill="#2a78c6"/>
<rect x="380.09" y="114.7" width="0.9" height="12.899999999999991" fill="#a8d4f4"/>
<rect x="382.59" y="114.7" width="1.1" height="12.899999999999991" fill="#a8d4f4"/>
<rect x="388.59" y="114.7" width="0.7" height="12.899999999999991" fill="#a8d4f4"/>
<rect x="394.59" y="114.7" width="0.9" height="12.899999999999991" fill="#d8ecfa"/>
<rect x="398.09" y="114.7" width="0.7" height="12.899999999999991" fill="#d8ecfa"/>
<rect x="402.09" y="114.7" width="0.7" height="12.899999999999991" fill="#d8ecfa"/>
<rect x="405.09" y="114.7" width="0.9" height="12.899999999999991" fill="#d8ecfa"/>
<rect x="410.09" y="114.7" width="1.1" height="12.899999999999991" fill="#a8d4f4"/>
<rect x="415.09" y="114.7" width="0.7" height="12.899999999999991" fill="#a8d4f4"/>
<rect x="419.09" y="114.7" width="1.1" height="12.899999999999991" fill="#a8d4f4"/>
<rect x="422.09" y="114.7" width="1.1" height="12.899999999999991" fill="#ffffff"/>
<rect x="426.09" y="114.7" width="0.9" height="12.899999999999991" fill="#d8ecfa"/>
<rect x="429.09" y="114.7" width="0.7" height="12.899999999999991" fill="#a8d4f4"/>
<rect x="433.09" y="114.7" width="1.1" height="12.899999999999991" fill="#a8d4f4"/>
<rect x="438.09" y="114.7" width="0.9" height="12.899999999999991" fill="#a8d4f4"/>
<rect x="442.09" y="114.7" width="0.7" height="12.899999999999991" fill="#d8ecfa"/>
<rect x="444.59" y="114.7" width="1.1" height="12.899999999999991" fill="#a8d4f4"/>
<rect x="450.59" y="114.7" width="0.7" height="12.899999999999991" fill="#d8ecfa"/>
<rect x="454.59" y="114.7" width="0.9" height="12.899999999999991" fill="#a8d4f4"/>
<rect x="459.59" y="114.7" width="0.9" height="12.899999999999991" fill="#a8d4f4"/>
<rect x="463.09" y="114.7" width="0.7" height="12.899999999999991" fill="#a8d4f4"/>
<rect x="466.59" y="114.7" width="0.7" height="12.899999999999991" fill="#d8ecfa"/>
<rect x="470.59" y="114.7" width="0.9" height="12.899999999999991" fill="#d8ecfa"/>
<rect x="474.09" y="114.7" width="0.7" height="12.899999999999991" fill="#d8ecfa"/>
<rect x="477.09" y="114.7" width="0.7" height="12.899999999999991" fill="#a8d4f4"/>
<rect x="481.09" y="114.7" width="0.7" height="12.899999999999991" fill="#a8d4f4"/>
<rect x="486.09" y="114.7" width="0.7" height="12.899999999999991" fill="#d8ecfa"/>
<rect x="490.09" y="114.7" width="1.1" height="12.899999999999991" fill="#d8ecfa"/>
<rect x="496.09" y="114.7" width="1.1" height="12.899999999999991" fill="#d8ecfa"/>
<rect x="502.09" y="114.7" width="0.9" height="12.899999999999991" fill="#d8ecfa"/>
<rect x="507.09" y="114.7" width="0.7" height="12.899999999999991" fill="#a8d4f4"/>
<rect x="510.09" y="114.7" width="1.1" height="12.899999999999991" fill="#d8ecfa"/>
<rect x="513.59" y="114.7" width="1.1" height="12.899999999999991" fill="#a8d4f4"/>
<rect x="519.59" y="114.7" width="1.1" height="12.899999999999991" fill="#d8ecfa"/>
<rect x="524.59" y="114.7" width="1.1" height="12.899999999999991" fill="#d8ecfa"/>
<rect x="528.59" y="114.7" width="1.1" height="12.899999999999991" fill="#a8d4f4"/>
<rect x="531.59" y="114.7" width="0.7" height="12.899999999999991" fill="#d8ecfa"/>
<rect x="536.59" y="114.7" width="1.1" height="12.899999999999991" fill="#d8ecfa"/>
<rect x="540.59" y="114.7" width="1.1" height="12.899999999999991" fill="#d8ecfa"/>
<rect x="543.09" y="114.7" width="1.1" height="12.899999999999991" fill="#d8ecfa"/>
<rect x="547.09" y="114.7" width="0.7" height="12.899999999999991" fill="#ffffff"/>
<rect x="552.09" y="114.7" width="1.1" height="12.899999999999991" fill="#a8d4f4"/>
<rect x="557.09" y="114.7" width="0.7" height="12.899999999999991" fill="#d8ecfa"/>
<rect x="563.09" y="114.7" width="1.1" height="12.899999999999991" fill="#d8ecfa"/>
<rect x="567.09" y="114.7" width="0.9" height="12.899999999999991" fill="#d8ecfa"/>
<rect x="570.59" y="114.7" width="0.9" height="12.899999999999991" fill="#d8ecfa"/>
<rect x="573.59" y="114.7" width="0.9" height="12.899999999999991" fill="#d8ecfa"/>
<rect x="578.59" y="114.7" width="0.7" height="12.899999999999991" fill="#d8ecfa"/>
<rect x="582.59" y="114.7" width="0.9" height="12.899999999999991" fill="#a8d4f4"/>
<rect x="585.59" y="114.7" width="0.7" height="12.899999999999991" fill="#a8d4f4"/>
<rect x="588.09" y="114.7" width="0.7" height="12.899999999999991" fill="#d8ecfa"/>
<rect x="590.59" y="114.7" width="0.9" height="12.899999999999991" fill="#a8d4f4"/>
<rect x="596.59" y="114.7" width="1.1" height="12.899999999999991" fill="#d8ecfa"/>
<rect x="600.59" y="114.7" width="1.1" height="12.899999999999991" fill="#d8ecfa"/>
<rect x="605.59" y="114.7" width="1.1" height="12.899999999999991" fill="#d8ecfa"/>
<rect x="610.59" y="114.7" width="0.7" height="12.899999999999991" fill="#d8ecfa"/>
<rect x="616.59" y="114.7" width="0.9" height="12.899999999999991" fill="#d8ecfa"/>
<rect x="619.09" y="114.7" width="0.9" height="12.899999999999991" fill="#d8ecfa"/>
<rect x="624.09" y="114.7" width="1.1" height="12.899999999999991" fill="#a8d4f4"/>
<rect x="627.09" y="114.7" width="1.1" height="12.899999999999991" fill="#a8d4f4"/>
<rect x="633.09" y="114.7" width="0.7" height="12.899999999999991" fill="#d8ecfa"/>
<rect x="638.09" y="114.7" width="0.7" height="12.899999999999991" fill="#a8d4f4"/>
<rect x="641.09" y="114.7" width="1.1" height="12.899999999999991" fill="#a8d4f4"/>
<rect x="644.59" y="114.7" width="0.9" height="12.899999999999991" fill="#a8d4f4"/>
<rect x="649.59" y="114.7" width="0.7" height="12.899999999999991" fill="#d8ecfa"/>
<rect x="652.59" y="114.7" width="0.7" height="12.899999999999991" fill="#a8d4f4"/>
<rect x="655.09" y="114.7" width="0.7" height="12.899999999999991" fill="#d8ecfa"/>
<rect x="658.09" y="114.7" width="0.9" height="12.899999999999991" fill="#a8d4f4"/>
<rect x="662.09" y="114.7" width="0.9" height="12.899999999999991" fill="#d8ecfa"/>
<rect x="667.09" y="114.7" width="0.7" height="12.899999999999991" fill="#a8d4f4"/>
<rect x="670.09" y="114.7" width="1.1" height="12.899999999999991" fill="#d8ecfa"/>
<rect x="672.59" y="114.7" width="1.1" height="12.899999999999991" fill="#d8ecfa"/>
<rect x="678.59" y="114.7" width="0.9" height="12.899999999999991" fill="#d8ecfa"/>
<rect x="681.09" y="114.7" width="1.1" height="12.899999999999991" fill="#a8d4f4"/>
<rect x="684.59" y="114.7" width="1.1" height="12.899999999999991" fill="#d8ecfa"/>
<rect x="687.59" y="114.7" width="0.9" height="12.899999999999991" fill="#a8d4f4"/>
<rect x="690.09" y="114.7" width="1.1" height="12.899999999999991" fill="#ffffff"/>
<rect x="695.09" y="114.7" width="1.1" height="12.899999999999991" fill="#d8ecfa"/>
<rect x="699.09" y="114.7" width="0.7" height="12.899999999999991" fill="#d8ecfa"/>
<rect x="701.59" y="114.7" width="0.7" height="12.899999999999991" fill="#d8ecfa"/>
<rect x="705.09" y="114.7" width="0.7" height="12.899999999999991" fill="#a8d4f4"/>
<rect x="710.09" y="114.7" width="1.1" height="12.899999999999991" fill="#ffffff"/>
<rect x="714.09" y="114.7" width="0.7" height="12.899999999999991" fill="#ffffff"/>
<rect x="717.59" y="114.7" width="0.9" height="12.899999999999991" fill="#d8ecfa"/>
<rect x="722.59" y="114.7" width="0.7" height="12.899999999999991" fill="#d8ecfa"/>
<rect x="727.59" y="114.7" width="1.1" height="12.899999999999991" fill="#d8ecfa"/>
<rect x="733.59" y="114.7" width="0.7" height="12.899999999999991" fill="#ffffff"/>
<rect x="736.59" y="114.7" width="0.9" height="12.899999999999991" fill="#d8ecfa"/>
<rect x="742.59" y="114.7" width="0.7" height="12.899999999999991" fill="#d8ecfa"/>
<rect x="747.59" y="114.7" width="1.1" height="12.899999999999991" fill="#d8ecfa"/>
<rect x="750.09" y="114.7" width="0.7" height="12.899999999999991" fill="#d8ecfa"/>
<rect x="756.09" y="114.7" width="1.1" height="12.899999999999991" fill="#a8d4f4"/>
<rect x="760.09" y="114.7" width="0.7" height="12.899999999999991" fill="#a8d4f4"/>
<rect x="765.09" y="114.7" width="0.9" height="12.899999999999991" fill="#a8d4f4"/>
<rect x="768.59" y="114.7" width="0.7" height="12.899999999999991" fill="#d8ecfa"/>
<rect x="774.59" y="114.7" width="0.7" height="12.899999999999991" fill="#a8d4f4"/>
<rect x="778.59" y="114.7" width="0.9" height="12.899999999999991" fill="#d8ecfa"/>
<rect x="783.59" y="114.7" width="0.9" height="12.899999999999991" fill="#a8d4f4"/>
<rect x="393.90" y="114.7" width="1.4" height="12.899999999999991" fill="#fff"/>
<rect x="432.30" y="114.7" width="1.4" height="12.899999999999991" fill="#fff"/>
<rect x="453.80" y="114.7" width="1.4" height="12.899999999999991" fill="#fff"/>
<rect x="379.0" y="139.4" width="405.6" height="13.900000000000006" fill="#3888d2"/>
<rect x="379.00" y="139.4" width="5.00" height="13.900000000000006" fill="#2070c0"/>
<rect x="384.00" y="139.4" width="5.00" height="13.900000000000006" fill="#2a78c6"/>
<rect x="389.00" y="139.4" width="3.00" height="13.900000000000006" fill="#4a9ada"/>
<rect x="392.00" y="139.4" width="2.50" height="13.900000000000006" fill="#70b2e6"/>
<rect x="394.50" y="139.4" width="1.50" height="13.900000000000006" fill="#3888d2"/>
<rect x="396.00" y="139.4" width="2.00" height="13.900000000000006" fill="#4a9ada"/>
<rect x="398.00" y="139.4" width="1.50" height="13.900000000000006" fill="#3888d2"/>
<rect x="399.50" y="139.4" width="1.00" height="13.900000000000006" fill="#2a78c6"/>
<rect x="400.50" y="139.4" width="4.00" height="13.900000000000006" fill="#70b2e6"/>
<rect x="404.50" y="139.4" width="1.00" height="13.900000000000006" fill="#70b2e6"/>
<rect x="405.50" y="139.4" width="4.00" height="13.900000000000006" fill="#4a9ada"/>
<rect x="409.50" y="139.4" width="5.00" height="13.900000000000006" fill="#2a78c6"/>
<rect x="414.50" y="139.4" width="5.00" height="13.900000000000006" fill="#2a78c6"/>
<rect x="419.50" y="139.4" width="2.00" height="13.900000000000006" fill="#3888d2"/>
<rect x="421.50" y="139.4" width="3.00" height="13.900000000000006" fill="#2a78c6"/>
<rect x="424.50" y="139.4" width="4.00" height="13.900000000000006" fill="#4a9ada"/>
<rect x="428.50" y="139.4" width="5.00" height="13.900000000000006" fill="#3888d2"/>
<rect x="433.50" y="139.4" width="3.00" height="13.900000000000006" fill="#2a78c6"/>
<rect x="436.50" y="139.4" width="2.00" height="13.900000000000006" fill="#70b2e6"/>
<rect x="438.50" y="139.4" width="5.00" height="13.900000000000006" fill="#4a9ada"/>
<rect x="443.50" y="139.4" width="4.00" height="13.900000000000006" fill="#4a9ada"/>
<rect x="447.50" y="139.4" width="5.00" height="13.900000000000006" fill="#4a9ada"/>
<rect x="452.50" y="139.4" width="4.00" height="13.900000000000006" fill="#2a78c6"/>
<rect x="456.50" y="139.4" width="5.00" height="13.900000000000006" fill="#2a78c6"/>
<rect x="461.50" y="139.4" width="2.00" height="13.900000000000006" fill="#3888d2"/>
<rect x="463.50" y="139.4" width="3.00" height="13.900000000000006" fill="#2a78c6"/>
<rect x="466.50" y="139.4" width="1.00" height="13.900000000000006" fill="#2a78c6"/>
<rect x="467.50" y="139.4" width="2.50" height="13.900000000000006" fill="#2a78c6"/>
<rect x="470.00" y="139.4" width="2.00" height="13.900000000000006" fill="#2070c0"/>
<rect x="472.00" y="139.4" width="2.00" height="13.900000000000006" fill="#3888d2"/>
<rect x="474.00" y="139.4" width="2.00" height="13.900000000000006" fill="#2a78c6"/>
<rect x="476.00" y="139.4" width="2.00" height="13.900000000000006" fill="#70b2e6"/>
<rect x="478.00" y="139.4" width="5.00" height="13.900000000000006" fill="#4a9ada"/>
<rect x="483.00" y="139.4" width="1.50" height="13.900000000000006" fill="#2a78c6"/>
<rect x="484.50" y="139.4" width="1.00" height="13.900000000000006" fill="#3888d2"/>
<rect x="485.50" y="139.4" width="1.00" height="13.900000000000006" fill="#3888d2"/>
<rect x="486.50" y="139.4" width="5.00" height="13.900000000000006" fill="#70b2e6"/>
<rect x="491.50" y="139.4" width="2.00" height="13.900000000000006" fill="#70b2e6"/>
<rect x="493.50" y="139.4" width="4.00" height="13.900000000000006" fill="#70b2e6"/>
<rect x="497.50" y="139.4" width="2.50" height="13.900000000000006" fill="#2a78c6"/>
<rect x="500.00" y="139.4" width="1.00" height="13.900000000000006" fill="#2a78c6"/>
<rect x="501.00" y="139.4" width="2.50" height="13.900000000000006" fill="#4a9ada"/>
<rect x="503.50" y="139.4" width="1.50" height="13.900000000000006" fill="#3888d2"/>
<rect x="505.00" y="139.4" width="4.00" height="13.900000000000006" fill="#2a78c6"/>
<rect x="509.00" y="139.4" width="1.50" height="13.900000000000006" fill="#3888d2"/>
<rect x="510.50" y="139.4" width="1.00" height="13.900000000000006" fill="#70b2e6"/>
<rect x="511.50" y="139.4" width="2.50" height="13.900000000000006" fill="#3888d2"/>
<rect x="514.00" y="139.4" width="2.00" height="13.900000000000006" fill="#2a78c6"/>
<rect x="516.00" y="139.4" width="5.00" height="13.900000000000006" fill="#4a9ada"/>
<rect x="521.00" y="139.4" width="1.50" height="13.900000000000006" fill="#2a78c6"/>
<rect x="522.50" y="139.4" width="2.00" height="13.900000000000006" fill="#4a9ada"/>
<rect x="524.50" y="139.4" width="1.50" height="13.900000000000006" fill="#3888d2"/>
<rect x="526.00" y="139.4" width="2.50" height="13.900000000000006" fill="#2070c0"/>
<rect x="528.50" y="139.4" width="1.50" height="13.900000000000006" fill="#2a78c6"/>
<rect x="530.00" y="139.4" width="3.00" height="13.900000000000006" fill="#70b2e6"/>
<rect x="533.00" y="139.4" width="1.50" height="13.900000000000006" fill="#3888d2"/>
<rect x="534.50" y="139.4" width="3.00" height="13.900000000000006" fill="#3888d2"/>
<rect x="537.50" y="139.4" width="2.00" height="13.900000000000006" fill="#2a78c6"/>
<rect x="539.50" y="139.4" width="1.50" height="13.900000000000006" fill="#3888d2"/>
<rect x="541.00" y="139.4" width="2.50" height="13.900000000000006" fill="#3888d2"/>
<rect x="543.50" y="139.4" width="4.00" height="13.900000000000006" fill="#3888d2"/>
<rect x="547.50" y="139.4" width="5.00" height="13.900000000000006" fill="#2a78c6"/>
<rect x="552.50" y="139.4" width="3.00" height="13.900000000000006" fill="#3888d2"/>
<rect x="555.50" y="139.4" width="2.50" height="13.900000000000006" fill="#2a78c6"/>
<rect x="558.00" y="139.4" width="5.00" height="13.900000000000006" fill="#3888d2"/>
<rect x="563.00" y="139.4" width="4.00" height="13.900000000000006" fill="#2a78c6"/>
<rect x="567.00" y="139.4" width="2.00" height="13.900000000000006" fill="#4a9ada"/>
<rect x="569.00" y="139.4" width="2.00" height="13.900000000000006" fill="#3888d2"/>
<rect x="571.00" y="139.4" width="3.00" height="13.900000000000006" fill="#3888d2"/>
<rect x="574.00" y="139.4" width="1.00" height="13.900000000000006" fill="#3888d2"/>
<rect x="575.00" y="139.4" width="1.00" height="13.900000000000006" fill="#2a78c6"/>
<rect x="576.00" y="139.4" width="1.50" height="13.900000000000006" fill="#4a9ada"/>
<rect x="577.50" y="139.4" width="3.00" height="13.900000000000006" fill="#3888d2"/>
<rect x="580.50" y="139.4" width="2.50" height="13.900000000000006" fill="#2a78c6"/>
<rect x="583.00" y="139.4" width="4.00" height="13.900000000000006" fill="#2a78c6"/>
<rect x="587.00" y="139.4" width="3.00" height="13.900000000000006" fill="#3888d2"/>
<rect x="590.00" y="139.4" width="1.00" height="13.900000000000006" fill="#2a78c6"/>
<rect x="591.00" y="139.4" width="3.00" height="13.900000000000006" fill="#2070c0"/>
<rect x="594.00" y="139.4" width="5.00" height="13.900000000000006" fill="#4a9ada"/>
<rect x="599.00" y="139.4" width="4.00" height="13.900000000000006" fill="#2a78c6"/>
<rect x="603.00" y="139.4" width="2.00" height="13.900000000000006" fill="#4a9ada"/>
<rect x="605.00" y="139.4" width="5.00" height="13.900000000000006" fill="#2070c0"/>
<rect x="610.00" y="139.4" width="4.00" height="13.900000000000006" fill="#3888d2"/>
<rect x="614.00" y="139.4" width="1.50" height="13.900000000000006" fill="#3888d2"/>
<rect x="615.50" y="139.4" width="1.00" height="13.900000000000006" fill="#2a78c6"/>
<rect x="616.50" y="139.4" width="2.50" height="13.900000000000006" fill="#3888d2"/>
<rect x="619.00" y="139.4" width="1.00" height="13.900000000000006" fill="#4a9ada"/>
<rect x="620.00" y="139.4" width="2.00" height="13.900000000000006" fill="#4a9ada"/>
<rect x="622.00" y="139.4" width="4.00" height="13.900000000000006" fill="#2070c0"/>
<rect x="626.00" y="139.4" width="4.00" height="13.900000000000006" fill="#70b2e6"/>
<rect x="630.00" y="139.4" width="3.00" height="13.900000000000006" fill="#70b2e6"/>
<rect x="633.00" y="139.4" width="2.00" height="13.900000000000006" fill="#3888d2"/>
<rect x="635.00" y="139.4" width="1.00" height="13.900000000000006" fill="#2a78c6"/>
<rect x="636.00" y="139.4" width="1.00" height="13.900000000000006" fill="#3888d2"/>
<rect x="637.00" y="139.4" width="2.50" height="13.900000000000006" fill="#4a9ada"/>
<rect x="639.50" y="139.4" width="1.00" height="13.900000000000006" fill="#3888d2"/>
<rect x="640.50" y="139.4" width="3.00" height="13.900000000000006" fill="#4a9ada"/>
<rect x="643.50" y="139.4" width="4.00" height="13.900000000000006" fill="#4a9ada"/>
<rect x="647.50" y="139.4" width="2.00" height="13.900000000000006" fill="#3888d2"/>
<rect x="649.50" y="139.4" width="2.00" height="13.900000000000006" fill="#2070c0"/>
<rect x="651.50" y="139.4" width="2.00" height="13.900000000000006" fill="#2a78c6"/>
<rect x="653.50" y="139.4" width="1.00" height="13.900000000000006" fill="#4a9ada"/>
<rect x="654.50" y="139.4" width="5.00" height="13.900000000000006" fill="#3888d2"/>
<rect x="659.50" y="139.4" width="5.00" height="13.900000000000006" fill="#70b2e6"/>
<rect x="664.50" y="139.4" width="2.00" height="13.900000000000006" fill="#70b2e6"/>
<rect x="666.50" y="139.4" width="4.00" height="13.900000000000006" fill="#2a78c6"/>
<rect x="670.50" y="139.4" width="1.50" height="13.900000000000006" fill="#3888d2"/>
<rect x="672.00" y="139.4" width="5.00" height="13.900000000000006" fill="#2a78c6"/>
<rect x="677.00" y="139.4" width="2.00" height="13.900000000000006" fill="#2a78c6"/>
<rect x="679.00" y="139.4" width="2.50" height="13.900000000000006" fill="#2070c0"/>
<rect x="681.50" y="139.4" width="2.00" height="13.900000000000006" fill="#70b2e6"/>
<rect x="683.50" y="139.4" width="2.50" height="13.900000000000006" fill="#2a78c6"/>
<rect x="686.00" y="139.4" width="1.00" height="13.900000000000006" fill="#2a78c6"/>
<rect x="687.00" y="139.4" width="5.00" height="13.900000000000006" fill="#2a78c6"/>
<rect x="692.00" y="139.4" width="5.00" height="13.900000000000006" fill="#2070c0"/>
<rect x="697.00" y="139.4" width="4.00" height="13.900000000000006" fill="#4a9ada"/>
<rect x="701.00" y="139.4" width="2.50" height="13.900000000000006" fill="#3888d2"/>
<rect x="703.50" y="139.4" width="2.00" height="13.900000000000006" fill="#2a78c6"/>
<rect x="705.50" y="139.4" width="3.00" height="13.900000000000006" fill="#2a78c6"/>
<rect x="708.50" y="139.4" width="5.00" height="13.900000000000006" fill="#3888d2"/>
<rect x="713.50" y="139.4" width="1.50" height="13.900000000000006" fill="#3888d2"/>
<rect x="715.00" y="139.4" width="2.50" height="13.900000000000006" fill="#3888d2"/>
<rect x="717.50" y="139.4" width="2.00" height="13.900000000000006" fill="#2a78c6"/>
<rect x="719.50" y="139.4" width="1.00" height="13.900000000000006" fill="#3888d2"/>
<rect x="720.50" y="139.4" width="4.00" height="13.900000000000006" fill="#3888d2"/>
<rect x="724.50" y="139.4" width="1.50" height="13.900000000000006" fill="#2a78c6"/>
<rect x="726.00" y="139.4" width="1.00" height="13.900000000000006" fill="#2070c0"/>
<rect x="727.00" y="139.4" width="1.50" height="13.900000000000006" fill="#2070c0"/>
<rect x="728.50" y="139.4" width="1.50" height="13.900000000000006" fill="#3888d2"/>
<rect x="730.00" y="139.4" width="1.50" height="13.900000000000006" fill="#2070c0"/>
<rect x="731.50" y="139.4" width="2.00" height="13.900000000000006" fill="#4a9ada"/>
<rect x="733.50" y="139.4" width="4.00" height="13.900000000000006" fill="#4a9ada"/>
<rect x="737.50" y="139.4" width="5.00" height="13.900000000000006" fill="#3888d2"/>
<rect x="742.50" y="139.4" width="5.00" height="13.900000000000006" fill="#2a78c6"/>
<rect x="747.50" y="139.4" width="5.00" height="13.900000000000006" fill="#70b2e6"/>
<rect x="752.50" y="139.4" width="2.00" height="13.900000000000006" fill="#2a78c6"/>
<rect x="754.50" y="139.4" width="2.00" height="13.900000000000006" fill="#2a78c6"/>
<rect x="756.50" y="139.4" width="5.00" height="13.900000000000006" fill="#2a78c6"/>
<rect x="761.50" y="139.4" width="2.50" height="13.900000000000006" fill="#2070c0"/>
<rect x="764.00" y="139.4" width="5.00" height="13.900000000000006" fill="#3888d2"/>
<rect x="769.00" y="139.4" width="3.00" height="13.900000000000006" fill="#70b2e6"/>
<rect x="772.00" y="139.4" width="2.50" height="13.900000000000006" fill="#3888d2"/>
<rect x="774.50" y="139.4" width="3.00" height="13.900000000000006" fill="#3888d2"/>
<rect x="777.50" y="139.4" width="4.00" height="13.900000000000006" fill="#70b2e6"/>
<rect x="781.50" y="139.4" width="3.10" height="13.900000000000006" fill="#4a9ada"/>
<rect x="381.77" y="139.4" width="1.1" height="13.900000000000006" fill="#a8d4f4"/>
<rect x="384.77" y="139.4" width="0.9" height="13.900000000000006" fill="#ffffff"/>
<rect x="387.27" y="139.4" width="0.9" height="13.900000000000006" fill="#d8ecfa"/>
<rect x="393.27" y="139.4" width="1.1" height="13.900000000000006" fill="#ffffff"/>
<rect x="398.27" y="139.4" width="0.9" height="13.900000000000006" fill="#ffffff"/>
<rect x="402.27" y="139.4" width="0.7" height="13.900000000000006" fill="#ffffff"/>
<rect x="405.77" y="139.4" width="0.9" height="13.900000000000006" fill="#a8d4f4"/>
<rect x="408.77" y="139.4" width="0.9" height="13.900000000000006" fill="#d8ecfa"/>
<rect x="412.27" y="139.4" width="0.9" height="13.900000000000006" fill="#ffffff"/>
<rect x="414.77" y="139.4" width="0.9" height="13.900000000000006" fill="#d8ecfa"/>
<rect x="417.77" y="139.4" width="0.9" height="13.900000000000006" fill="#ffffff"/>
<rect x="422.77" y="139.4" width="0.7" height="13.900000000000006" fill="#d8ecfa"/>
<rect x="427.77" y="139.4" width="1.1" height="13.900000000000006" fill="#a8d4f4"/>
<rect x="431.77" y="139.4" width="0.7" height="13.900000000000006" fill="#a8d4f4"/>
<rect x="435.77" y="139.4" width="1.1" height="13.900000000000006" fill="#a8d4f4"/>
<rect x="439.77" y="139.4" width="0.9" height="13.900000000000006" fill="#a8d4f4"/>
<rect x="442.27" y="139.4" width="0.9" height="13.900000000000006" fill="#ffffff"/>
<rect x="445.77" y="139.4" width="0.7" height="13.900000000000006" fill="#ffffff"/>
<rect x="449.77" y="139.4" width="1.1" height="13.900000000000006" fill="#ffffff"/>
<rect x="455.77" y="139.4" width="1.1" height="13.900000000000006" fill="#d8ecfa"/>
<rect x="459.27" y="139.4" width="0.7" height="13.900000000000006" fill="#d8ecfa"/>
<rect x="464.27" y="139.4" width="1.1" height="13.900000000000006" fill="#a8d4f4"/>
<rect x="469.27" y="139.4" width="0.7" height="13.900000000000006" fill="#d8ecfa"/>
<rect x="471.77" y="139.4" width="1.1" height="13.900000000000006" fill="#ffffff"/>
<rect x="474.77" y="139.4" width="0.9" height="13.900000000000006" fill="#a8d4f4"/>
<rect x="477.27" y="139.4" width="1.1" height="13.900000000000006" fill="#d8ecfa"/>
<rect x="482.27" y="139.4" width="1.1" height="13.900000000000006" fill="#ffffff"/>
<rect x="485.27" y="139.4" width="0.9" height="13.900000000000006" fill="#a8d4f4"/>
<rect x="488.77" y="139.4" width="0.9" height="13.900000000000006" fill="#d8ecfa"/>
<rect x="492.77" y="139.4" width="1.1" height="13.900000000000006" fill="#a8d4f4"/>
<rect x="496.27" y="139.4" width="1.1" height="13.900000000000006" fill="#ffffff"/>
<rect x="498.77" y="139.4" width="1.1" height="13.900000000000006" fill="#ffffff"/>
<rect x="503.77" y="139.4" width="1.1" height="13.900000000000006" fill="#a8d4f4"/>
<rect x="506.77" y="139.4" width="0.7" height="13.900000000000006" fill="#ffffff"/>
<rect x="512.77" y="139.4" width="1.1" height="13.900000000000006" fill="#a8d4f4"/>
<rect x="516.27" y="139.4" width="0.7" height="13.900000000000006" fill="#a8d4f4"/>
<rect x="521.27" y="139.4" width="0.7" height="13.900000000000006" fill="#ffffff"/>
<rect x="523.77" y="139.4" width="1.1" height="13.900000000000006" fill="#d8ecfa"/>
<rect x="526.27" y="139.4" width="0.9" height="13.900000000000006" fill="#d8ecfa"/>
<rect x="531.27" y="139.4" width="1.1" height="13.900000000000006" fill="#d8ecfa"/>
<rect x="537.27" y="139.4" width="0.7" height="13.900000000000006" fill="#ffffff"/>
<rect x="543.27" y="139.4" width="1.1" height="13.900000000000006" fill="#d8ecfa"/>
<rect x="545.77" y="139.4" width="0.7" height="13.900000000000006" fill="#d8ecfa"/>
<rect x="548.77" y="139.4" width="0.9" height="13.900000000000006" fill="#a8d4f4"/>
<rect x="551.27" y="139.4" width="0.7" height="13.900000000000006" fill="#a8d4f4"/>
<rect x="554.77" y="139.4" width="0.7" height="13.900000000000006" fill="#a8d4f4"/>
<rect x="559.77" y="139.4" width="0.7" height="13.900000000000006" fill="#a8d4f4"/>
<rect x="564.77" y="139.4" width="0.9" height="13.900000000000006" fill="#a8d4f4"/>
<rect x="567.27" y="139.4" width="0.7" height="13.900000000000006" fill="#d8ecfa"/>
<rect x="570.27" y="139.4" width="0.9" height="13.900000000000006" fill="#a8d4f4"/>
<rect x="576.27" y="139.4" width="1.1" height="13.900000000000006" fill="#d8ecfa"/>
<rect x="581.27" y="139.4" width="0.9" height="13.900000000000006" fill="#a8d4f4"/>
<rect x="583.77" y="139.4" width="0.7" height="13.900000000000006" fill="#a8d4f4"/>
<rect x="587.77" y="139.4" width="1.1" height="13.900000000000006" fill="#ffffff"/>
<rect x="593.77" y="139.4" width="0.7" height="13.900000000000006" fill="#d8ecfa"/>
<rect x="596.77" y="139.4" width="0.7" height="13.900000000000006" fill="#ffffff"/>
<rect x="599.77" y="139.4" width="1.1" height="13.900000000000006" fill="#ffffff"/>
<rect x="605.77" y="139.4" width="1.1" height="13.900000000000006" fill="#a8d4f4"/>
<rect x="609.77" y="139.4" width="0.7" height="13.900000000000006" fill="#a8d4f4"/>
<rect x="612.77" y="139.4" width="1.1" height="13.900000000000006" fill="#d8ecfa"/>
<rect x="618.77" y="139.4" width="0.7" height="13.900000000000006" fill="#d8ecfa"/>
<rect x="621.27" y="139.4" width="1.1" height="13.900000000000006" fill="#ffffff"/>
<rect x="623.77" y="139.4" width="1.1" height="13.900000000000006" fill="#a8d4f4"/>
<rect x="626.77" y="139.4" width="0.9" height="13.900000000000006" fill="#ffffff"/>
<rect x="630.27" y="139.4" width="1.1" height="13.900000000000006" fill="#ffffff"/>
<rect x="635.27" y="139.4" width="0.9" height="13.900000000000006" fill="#ffffff"/>
<rect x="637.77" y="139.4" width="0.7" height="13.900000000000006" fill="#d8ecfa"/>
<rect x="641.27" y="139.4" width="0.9" height="13.900000000000006" fill="#d8ecfa"/>
<rect x="645.27" y="139.4" width="1.1" height="13.900000000000006" fill="#ffffff"/>
<rect x="650.27" y="139.4" width="0.9" height="13.900000000000006" fill="#a8d4f4"/>
<rect x="652.77" y="139.4" width="0.7" height="13.900000000000006" fill="#d8ecfa"/>
<rect x="655.77" y="139.4" width="0.7" height="13.900000000000006" fill="#a8d4f4"/>
<rect x="658.27" y="139.4" width="1.1" height="13.900000000000006" fill="#d8ecfa"/>
<rect x="660.77" y="139.4" width="0.9" height="13.900000000000006" fill="#a8d4f4"/>
<rect x="663.27" y="139.4" width="0.9" height="13.900000000000006" fill="#ffffff"/>
<rect x="666.77" y="139.4" width="0.9" height="13.900000000000006" fill="#a8d4f4"/>
<rect x="672.77" y="139.4" width="0.9" height="13.900000000000006" fill="#a8d4f4"/>
<rect x="676.27" y="139.4" width="0.9" height="13.900000000000006" fill="#ffffff"/>
<rect x="680.27" y="139.4" width="0.7" height="13.900000000000006" fill="#a8d4f4"/>
<rect x="684.27" y="139.4" width="0.9" height="13.900000000000006" fill="#d8ecfa"/>
<rect x="688.27" y="139.4" width="0.7" height="13.900000000000006" fill="#d8ecfa"/>
<rect x="691.27" y="139.4" width="1.1" height="13.900000000000006" fill="#d8ecfa"/>
<rect x="693.77" y="139.4" width="0.9" height="13.900000000000006" fill="#ffffff"/>
<rect x="699.77" y="139.4" width="1.1" height="13.900000000000006" fill="#ffffff"/>
<rect x="705.77" y="139.4" width="1.1" height="13.900000000000006" fill="#a8d4f4"/>
<rect x="709.27" y="139.4" width="1.1" height="13.900000000000006" fill="#a8d4f4"/>
<rect x="715.27" y="139.4" width="0.9" height="13.900000000000006" fill="#ffffff"/>
<rect x="718.27" y="139.4" width="1.1" height="13.900000000000006" fill="#d8ecfa"/>
<rect x="723.27" y="139.4" width="1.1" height="13.900000000000006" fill="#a8d4f4"/>
<rect x="728.27" y="139.4" width="1.1" height="13.900000000000006" fill="#d8ecfa"/>
<rect x="733.27" y="139.4" width="1.1" height="13.900000000000006" fill="#ffffff"/>
<rect x="736.27" y="139.4" width="0.9" height="13.900000000000006" fill="#d8ecfa"/>
<rect x="742.27" y="139.4" width="0.7" height="13.900000000000006" fill="#ffffff"/>
<rect x="744.77" y="139.4" width="0.9" height="13.900000000000006" fill="#a8d4f4"/>
<rect x="749.77" y="139.4" width="0.9" height="13.900000000000006" fill="#ffffff"/>
<rect x="753.77" y="139.4" width="0.7" height="13.900000000000006" fill="#ffffff"/>
<rect x="757.77" y="139.4" width="0.7" height="13.900000000000006" fill="#d8ecfa"/>
<rect x="761.27" y="139.4" width="0.7" height="13.900000000000006" fill="#ffffff"/>
<rect x="766.27" y="139.4" width="0.9" height="13.900000000000006" fill="#d8ecfa"/>
<rect x="770.27" y="139.4" width="0.7" height="13.900000000000006" fill="#a8d4f4"/>
<rect x="775.27" y="139.4" width="1.1" height="13.900000000000006" fill="#ffffff"/>
<rect x="780.27" y="139.4" width="0.9" height="13.900000000000006" fill="#d8ecfa"/>
<rect x="783.27" y="139.4" width="1.1" height="13.900000000000006" fill="#a8d4f4"/>
<rect x="379.0" y="129.8" width="405.6" height="1.2" fill="#f8d888"/>
<rect x="379.0" y="131.0" width="405.6" height="5.6" fill="#f0a010"/>
<rect x="379.0" y="132.9" width="405.6" height="1.4" fill="#dc8800"/>
<rect x="379.0" y="136.6" width="405.6" height="1.0" fill="#f8c868"/>
<rect x="377.9" y="130.6" width="0.9" height="8.2" fill="#8a5a10"/>
<rect x="459.1" y="130.6" width="0.9" height="8.2" fill="#8a5a10"/>
<rect x="540.3" y="130.6" width="0.9" height="8.2" fill="#8a5a10"/>
<rect x="621.5" y="130.6" width="0.9" height="8.2" fill="#8a5a10"/>
<rect x="702.7" y="130.6" width="0.9" height="8.2" fill="#8a5a10"/>
<text transform="translate(392.3,114.2) rotate(-45)" font-size="11" fill="#111">RS00840</text>
<text transform="translate(514.0,115.4) rotate(-45)" font-size="11" fill="#111">RS05695</text>
<text transform="translate(532.5999999999999,113.6) rotate(-45)" font-size="11" fill="#111">RS06110</text>
<text transform="translate(562.8,115.4) rotate(-45)" font-size="11" fill="#111">RS06975</text>
<text transform="translate(599.0999999999999,113.6) rotate(-45)" font-size="11" fill="#111">RS013080</text>
<text transform="translate(689.5,112.9) rotate(-45)" font-size="11" fill="#111">RS12845</text>
<text transform="translate(703.4,114.0) rotate(-45)" font-size="11" fill="#111">RS08300</text>
<rect x="377.70" y="167.79" width="1.30" height="49.75" fill="#f47a7a" opacity="0.35"/>
<rect x="377.70" y="159.50" width="1.30" height="8.29" fill="#f47a7a" opacity="0.21"/>
<rect x="380.30" y="167.79" width="1.30" height="49.75" fill="#f47a7a" opacity="0.6"/>
<rect x="380.30" y="159.50" width="1.30" height="8.29" fill="#f47a7a" opacity="0.36"/>
<rect x="383.00" y="167.79" width="1.00" height="49.75" fill="#f47a7a" opacity="0.45"/>
<rect x="383.00" y="159.50" width="1.00" height="8.29" fill="#f47a7a" opacity="0.27"/>
<rect x="385.40" y="167.79" width="1.30" height="49.75" fill="#f47a7a" opacity="0.6"/>
<rect x="385.40" y="159.50" width="1.30" height="8.29" fill="#7878f0" opacity="0.6"/>
<rect x="391.00" y="167.79" width="1.30" height="49.75" fill="#f47a7a" opacity="0.35"/>
<rect x="391.00" y="159.50" width="1.30" height="8.29" fill="#f47a7a" opacity="0.21"/>
<rect x="395.60" y="167.79" width="2.00" height="49.75" fill="#f47a7a" opacity="0.75"/>
<rect x="395.60" y="159.50" width="2.00" height="8.29" fill="#7878f0" opacity="0.75"/>
<rect x="399.60" y="167.79" width="1.40" height="49.75" fill="#f47a7a" opacity="0.35"/>
<rect x="399.60" y="159.50" width="1.40" height="8.29" fill="#f47a7a" opacity="0.21"/>
<rect x="403.00" y="167.79" width="1.00" height="49.75" fill="#f47a7a" opacity="0.5"/>
<rect x="403.00" y="159.50" width="1.00" height="8.29" fill="#f47a7a" opacity="0.3"/>
<rect x="405.60" y="167.79" width="2.70" height="49.75" fill="#f47a7a" opacity="0.8"/>
<rect x="405.60" y="159.50" width="2.70" height="8.29" fill="#7878f0" opacity="0.8"/>
<rect x="410.30" y="167.79" width="7.30" height="49.75" fill="#f47a7a" opacity="0.8"/>
<rect x="410.30" y="159.50" width="7.30" height="8.29" fill="#7878f0" opacity="0.8"/>
<rect x="419.60" y="167.79" width="10.00" height="49.75" fill="#f47a7a" opacity="0.8"/>
<rect x="419.60" y="159.50" width="10.00" height="8.29" fill="#7878f0" opacity="0.8"/>
<rect x="433.00" y="167.79" width="7.00" height="49.75" fill="#f47a7a" opacity="0.7"/>
<rect x="433.00" y="159.50" width="7.00" height="8.29" fill="#7878f0" opacity="0.7"/>
<rect x="443.00" y="167.79" width="1.00" height="49.75" fill="#f47a7a" opacity="0.2"/>
<rect x="443.00" y="159.50" width="1.00" height="8.29" fill="#f47a7a" opacity="0.12"/>
<rect x="449.00" y="167.79" width="1.00" height="49.75" fill="#f47a7a" opacity="0.4"/>
<rect x="449.00" y="159.50" width="1.00" height="8.29" fill="#f47a7a" opacity="0.24"/>
<rect x="451.50" y="167.79" width="1.50" height="49.75" fill="#f47a7a" opacity="0.4"/>
<rect x="451.50" y="159.50" width="1.50" height="8.29" fill="#f47a7a" opacity="0.24"/>
<rect x="454.00" y="167.79" width="2.50" height="49.75" fill="#f47a7a" opacity="0.6"/>
<rect x="454.00" y="159.50" width="2.50" height="8.29" fill="#7878f0" opacity="0.6"/>
<rect x="460.00" y="167.79" width="1.00" height="49.75" fill="#f47a7a" opacity="0.4"/>
<rect x="460.00" y="159.50" width="1.00" height="8.29" fill="#f47a7a" opacity="0.24"/>
<rect x="473.50" y="167.79" width="1.50" height="49.75" fill="#f47a7a" opacity="0.5"/>
<rect x="473.50" y="159.50" width="1.50" height="8.29" fill="#7878f0" opacity="0.5"/>
<rect x="476.50" y="167.79" width="1.50" height="49.75" fill="#f47a7a" opacity="0.5"/>
<rect x="476.50" y="159.50" width="1.50" height="8.29" fill="#f47a7a" opacity="0.3"/>
<rect x="479.30" y="167.79" width="1.40" height="49.75" fill="#f47a7a" opacity="0.35"/>
<rect x="479.30" y="159.50" width="1.40" height="8.29" fill="#f47a7a" opacity="0.21"/>
<rect x="489.30" y="167.79" width="1.30" height="49.75" fill="#f47a7a" opacity="0.35"/>
<rect x="489.30" y="159.50" width="1.30" height="8.29" fill="#f47a7a" opacity="0.21"/>
<rect x="492.00" y="167.79" width="1.00" height="49.75" fill="#f47a7a" opacity="0.35"/>
<rect x="492.00" y="159.50" width="1.00" height="8.29" fill="#f47a7a" opacity="0.21"/>
<rect x="499.30" y="167.79" width="2.70" height="49.75" fill="#f47a7a" opacity="0.8"/>
<rect x="499.30" y="159.50" width="2.70" height="8.29" fill="#7878f0" opacity="0.8"/>
<rect x="502.50" y="167.79" width="3.50" height="49.75" fill="#f47a7a" opacity="0.8"/>
<rect x="502.50" y="159.50" width="3.50" height="8.29" fill="#7878f0" opacity="0.8"/>
<rect x="506.50" y="167.79" width="4.80" height="49.75" fill="#f47a7a" opacity="0.8"/>
<rect x="506.50" y="159.50" width="4.80" height="8.29" fill="#7878f0" opacity="0.8"/>
<rect x="512.60" y="167.79" width="2.70" height="49.75" fill="#f47a7a" opacity="0.7"/>
<rect x="512.60" y="159.50" width="2.70" height="8.29" fill="#7878f0" opacity="0.7"/>
<rect x="516.00" y="167.79" width="2.00" height="49.75" fill="#f47a7a" opacity="0.6"/>
<rect x="516.00" y="159.50" width="2.00" height="8.29" fill="#f47a7a" opacity="0.36"/>
<rect x="519.30" y="167.79" width="5.30" height="49.75" fill="#f47a7a" opacity="0.75"/>
<rect x="519.30" y="159.50" width="5.30" height="8.29" fill="#7878f0" opacity="0.75"/>
<rect x="525.20" y="167.79" width="3.40" height="49.75" fill="#f47a7a" opacity="0.75"/>
<rect x="525.20" y="159.50" width="3.40" height="8.29" fill="#f47a7a" opacity="0.44999999999999996"/>
<rect x="529.20" y="167.79" width="1.40" height="49.75" fill="#f47a7a" opacity="0.6"/>
<rect x="529.20" y="159.50" width="1.40" height="8.29" fill="#7878f0" opacity="0.6"/>
<rect x="534.00" y="167.79" width="8.00" height="49.75" fill="#f47a7a" opacity="0.75"/>
<rect x="534.00" y="159.50" width="8.00" height="8.29" fill="#7878f0" opacity="0.75"/>
<rect x="543.20" y="167.79" width="2.00" height="49.75" fill="#f47a7a" opacity="0.6"/>
<rect x="543.20" y="159.50" width="2.00" height="8.29" fill="#f47a7a" opacity="0.36"/>
<rect x="546.50" y="167.79" width="4.00" height="49.75" fill="#f47a7a" opacity="0.75"/>
<rect x="546.50" y="159.50" width="4.00" height="8.29" fill="#7878f0" opacity="0.75"/>
<rect x="552.50" y="167.79" width="4.70" height="49.75" fill="#f47a7a" opacity="0.75"/>
<rect x="552.50" y="159.50" width="4.70" height="8.29" fill="#7878f0" opacity="0.75"/>
<rect x="558.50" y="167.79" width="2.70" height="49.75" fill="#f47a7a" opacity="0.6"/>
<rect x="558.50" y="159.50" width="2.70" height="8.29" fill="#f47a7a" opacity="0.36"/>
<rect x="561.80" y="167.79" width="1.40" height="49.75" fill="#f47a7a" opacity="0.5"/>
<rect x="561.80" y="159.50" width="1.40" height="8.29" fill="#f47a7a" opacity="0.3"/>
<rect x="564.50" y="167.79" width="3.30" height="49.75" fill="#f47a7a" opacity="0.7"/>
<rect x="564.50" y="159.50" width="3.30" height="8.29" fill="#7878f0" opacity="0.7"/>
<rect x="569.80" y="167.79" width="1.40" height="49.75" fill="#f47a7a" opacity="0.5"/>
<rect x="569.80" y="159.50" width="1.40" height="8.29" fill="#f47a7a" opacity="0.3"/>
<rect x="573.00" y="167.79" width="1.50" height="49.75" fill="#f47a7a" opacity="0.4"/>
<rect x="573.00" y="159.50" width="1.50" height="8.29" fill="#f47a7a" opacity="0.24"/>
<rect x="577.80" y="167.79" width="5.20" height="49.75" fill="#f47a7a" opacity="0.75"/>
<rect x="577.80" y="159.50" width="5.20" height="8.29" fill="#7878f0" opacity="0.75"/>
<rect x="581.00" y="167.79" width="1.00" height="49.75" fill="#f47a7a" opacity="0.6"/>
<rect x="581.00" y="159.50" width="1.00" height="8.29" fill="#f47a7a" opacity="0.36"/>
<rect x="583.70" y="167.79" width="8.60" height="49.75" fill="#f47a7a" opacity="0.75"/>
<rect x="583.70" y="159.50" width="8.60" height="8.29" fill="#7878f0" opacity="0.75"/>
<rect x="595.60" y="167.79" width="1.40" height="49.75" fill="#f47a7a" opacity="0.5"/>
<rect x="595.60" y="159.50" width="1.40" height="8.29" fill="#7878f0" opacity="0.5"/>
<rect x="603.00" y="167.79" width="2.00" height="49.75" fill="#f47a7a" opacity="0.5"/>
<rect x="603.00" y="159.50" width="2.00" height="8.29" fill="#7878f0" opacity="0.5"/>
<rect x="607.00" y="167.79" width="1.30" height="49.75" fill="#f47a7a" opacity="0.6"/>
<rect x="607.00" y="159.50" width="1.30" height="8.29" fill="#f47a7a" opacity="0.36"/>
<rect x="612.30" y="167.79" width="11.30" height="49.75" fill="#f47a7a" opacity="0.8"/>
<rect x="612.30" y="159.50" width="11.30" height="8.29" fill="#7878f0" opacity="0.8"/>
<rect x="627.60" y="167.79" width="1.40" height="49.75" fill="#f47a7a" opacity="0.5"/>
<rect x="627.60" y="159.50" width="1.40" height="8.29" fill="#f47a7a" opacity="0.3"/>
<rect x="630.00" y="167.79" width="1.60" height="49.75" fill="#f47a7a" opacity="0.5"/>
<rect x="630.00" y="159.50" width="1.60" height="8.29" fill="#7878f0" opacity="0.5"/>
<rect x="635.60" y="167.79" width="1.40" height="49.75" fill="#f47a7a" opacity="0.5"/>
<rect x="635.60" y="159.50" width="1.40" height="8.29" fill="#f47a7a" opacity="0.3"/>
<rect x="641.50" y="167.79" width="4.00" height="49.75" fill="#f47a7a" opacity="0.75"/>
<rect x="641.50" y="159.50" width="4.00" height="8.29" fill="#7878f0" opacity="0.75"/>
<rect x="652.20" y="167.79" width="2.00" height="49.75" fill="#f47a7a" opacity="0.6"/>
<rect x="652.20" y="159.50" width="2.00" height="8.29" fill="#7878f0" opacity="0.6"/>
<rect x="661.50" y="167.79" width="3.30" height="49.75" fill="#f47a7a" opacity="0.75"/>
<rect x="661.50" y="159.50" width="3.30" height="8.29" fill="#7878f0" opacity="0.75"/>
<rect x="667.50" y="167.79" width="1.30" height="49.75" fill="#f47a7a" opacity="0.5"/>
<rect x="667.50" y="159.50" width="1.30" height="8.29" fill="#f47a7a" opacity="0.3"/>
<rect x="670.20" y="167.79" width="8.60" height="49.75" fill="#f47a7a" opacity="0.8"/>
<rect x="670.20" y="159.50" width="8.60" height="8.29" fill="#7878f0" opacity="0.8"/>
<rect x="680.00" y="167.79" width="2.00" height="49.75" fill="#f47a7a" opacity="0.5"/>
<rect x="680.00" y="159.50" width="2.00" height="8.29" fill="#7878f0" opacity="0.5"/>
<rect x="683.50" y="167.79" width="2.00" height="49.75" fill="#f47a7a" opacity="0.6"/>
<rect x="683.50" y="159.50" width="2.00" height="8.29" fill="#f47a7a" opacity="0.36"/>
<rect x="686.70" y="167.79" width="7.30" height="49.75" fill="#f47a7a" opacity="0.75"/>
<rect x="686.70" y="159.50" width="7.30" height="8.29" fill="#7878f0" opacity="0.75"/>
<rect x="696.00" y="167.79" width="6.00" height="49.75" fill="#f47a7a" opacity="0.8"/>
<rect x="696.00" y="159.50" width="6.00" height="8.29" fill="#7878f0" opacity="0.8"/>
<rect x="703.30" y="167.79" width="2.00" height="49.75" fill="#f47a7a" opacity="0.4"/>
<rect x="703.30" y="159.50" width="2.00" height="8.29" fill="#f47a7a" opacity="0.24"/>
<rect x="706.60" y="167.79" width="1.00" height="49.75" fill="#f47a7a" opacity="0.35"/>
<rect x="706.60" y="159.50" width="1.00" height="8.29" fill="#f47a7a" opacity="0.21"/>
<rect x="709.00" y="167.79" width="1.00" height="49.75" fill="#f47a7a" opacity="0.35"/>
<rect x="709.00" y="159.50" width="1.00" height="8.29" fill="#f47a7a" opacity="0.21"/>
<rect x="712.00" y="167.79" width="1.00" height="49.75" fill="#f47a7a" opacity="0.2"/>
<rect x="712.00" y="159.50" width="1.00" height="8.29" fill="#f47a7a" opacity="0.12"/>
<rect x="724.00" y="167.79" width="5.20" height="49.75" fill="#f47a7a" opacity="0.8"/>
<rect x="724.00" y="159.50" width="5.20" height="8.29" fill="#7878f0" opacity="0.8"/>
<rect x="730.00" y="167.79" width="2.00" height="49.75" fill="#f47a7a" opacity="0.6"/>
<rect x="730.00" y="159.50" width="2.00" height="8.29" fill="#7878f0" opacity="0.6"/>
<rect x="734.00" y="167.79" width="6.00" height="49.75" fill="#f47a7a" opacity="0.75"/>
<rect x="734.00" y="159.50" width="6.00" height="8.29" fill="#7878f0" opacity="0.75"/>
<rect x="741.20" y="167.79" width="4.00" height="49.75" fill="#f47a7a" opacity="0.75"/>
<rect x="741.20" y="159.50" width="4.00" height="8.29" fill="#7878f0" opacity="0.75"/>
<rect x="745.90" y="167.79" width="7.30" height="49.75" fill="#f47a7a" opacity="0.75"/>
<rect x="745.90" y="159.50" width="7.30" height="8.29" fill="#7878f0" opacity="0.75"/>
<rect x="754.00" y="167.79" width="2.50" height="49.75" fill="#f47a7a" opacity="0.6"/>
<rect x="754.00" y="159.50" width="2.50" height="8.29" fill="#f47a7a" opacity="0.36"/>
<rect x="758.00" y="167.79" width="3.20" height="49.75" fill="#f47a7a" opacity="0.6"/>
<rect x="758.00" y="159.50" width="3.20" height="8.29" fill="#7878f0" opacity="0.6"/>
<rect x="765.80" y="167.79" width="4.70" height="49.75" fill="#f47a7a" opacity="0.75"/>
<rect x="765.80" y="159.50" width="4.70" height="8.29" fill="#7878f0" opacity="0.75"/>
<rect x="771.80" y="167.79" width="4.00" height="49.75" fill="#f47a7a" opacity="0.75"/>
<rect x="771.80" y="159.50" width="4.00" height="8.29" fill="#7878f0" opacity="0.75"/>
<rect x="779.00" y="167.79" width="4.50" height="49.75" fill="#f47a7a" opacity="0.7"/>
<rect x="779.00" y="159.50" width="4.50" height="8.29" fill="#7878f0" opacity="0.7"/>
<rect x="379.35" y="217.54" width="1.30" height="116.08" fill="#f47a7a" opacity="0.55"/>
<rect x="384.35" y="217.54" width="1.30" height="116.08" fill="#f47a7a" opacity="0.44999999999999996"/>
<rect x="395.35" y="217.54" width="1.30" height="116.08" fill="#f47a7a" opacity="0.5"/>
<rect x="402.35" y="217.54" width="1.30" height="116.08" fill="#f47a7a" opacity="0.44999999999999996"/>
<rect x="415.35" y="217.54" width="1.30" height="116.08" fill="#f47a7a" opacity="0.5"/>
<rect x="429.35" y="217.54" width="1.30" height="116.08" fill="#f47a7a" opacity="0.5"/>
<rect x="438.10" y="217.54" width="1.80" height="116.08" fill="#f47a7a" opacity="0.7999999999999999"/>
<rect x="474.75" y="217.54" width="1.30" height="116.08" fill="#f47a7a" opacity="0.44999999999999996"/>
<rect x="478.85" y="217.54" width="1.30" height="116.08" fill="#f47a7a" opacity="0.30000000000000004"/>
<rect x="487.05" y="217.54" width="1.30" height="116.08" fill="#f47a7a" opacity="0.30000000000000004"/>
<rect x="515.95" y="217.54" width="1.30" height="116.08" fill="#f47a7a" opacity="0.7"/>
<rect x="525.65" y="217.54" width="1.30" height="116.08" fill="#f47a7a" opacity="0.7"/>
<rect x="543.95" y="217.54" width="1.30" height="116.08" fill="#f47a7a" opacity="0.7"/>
<rect x="548.75" y="217.54" width="1.30" height="116.08" fill="#f47a7a" opacity="0.7"/>
<rect x="561.35" y="217.54" width="1.30" height="116.08" fill="#f47a7a" opacity="0.44999999999999996"/>
<rect x="567.15" y="217.54" width="1.30" height="116.08" fill="#f47a7a" opacity="0.44999999999999996"/>
<rect x="572.95" y="217.54" width="1.30" height="116.08" fill="#f47a7a" opacity="0.44999999999999996"/>
<rect x="577.75" y="217.54" width="1.30" height="116.08" fill="#f47a7a" opacity="0.44999999999999996"/>
<rect x="584.55" y="217.54" width="1.30" height="116.08" fill="#f47a7a" opacity="0.30000000000000004"/>
<rect x="595.35" y="217.54" width="1.30" height="116.08" fill="#f47a7a" opacity="0.5"/>
<rect x="599.25" y="217.54" width="1.30" height="116.08" fill="#f47a7a" opacity="0.5"/>
<rect x="605.05" y="217.54" width="1.30" height="116.08" fill="#f47a7a" opacity="0.5"/>
<rect x="617.95" y="217.54" width="1.30" height="116.08" fill="#f47a7a" opacity="0.30000000000000004"/>
<rect x="626.65" y="217.54" width="1.30" height="116.08" fill="#f47a7a" opacity="0.35"/>
<rect x="638.90" y="217.54" width="2.40" height="116.08" fill="#f47a7a" opacity="0.55"/>
<rect x="641.10" y="217.54" width="3.40" height="116.08" fill="#f47a7a" opacity="0.4"/>
<rect x="651.75" y="217.54" width="1.30" height="116.08" fill="#f47a7a" opacity="0.30000000000000004"/>
<rect x="659.35" y="217.54" width="1.30" height="116.08" fill="#f47a7a" opacity="0.44999999999999996"/>
<rect x="668.15" y="217.54" width="1.30" height="116.08" fill="#f47a7a" opacity="0.7"/>
<rect x="675.95" y="217.54" width="1.30" height="116.08" fill="#f47a7a" opacity="0.30000000000000004"/>
<rect x="694.95" y="217.54" width="1.30" height="116.08" fill="#f47a7a" opacity="0.65"/>
<rect x="702.65" y="217.54" width="1.30" height="116.08" fill="#f47a7a" opacity="0.65"/>
<rect x="718.05" y="217.54" width="1.30" height="116.08" fill="#f47a7a" opacity="0.65"/>
<rect x="733.55" y="217.54" width="1.30" height="116.08" fill="#f47a7a" opacity="0.5"/>
<rect x="736.35" y="217.54" width="1.30" height="116.08" fill="#f47a7a" opacity="0.5"/>
<rect x="742.25" y="217.54" width="1.30" height="116.08" fill="#f47a7a" opacity="0.65"/>
<rect x="759.65" y="217.54" width="1.30" height="116.08" fill="#f47a7a" opacity="0.44999999999999996"/>
<rect x="763.45" y="217.54" width="1.30" height="116.08" fill="#f47a7a" opacity="0.7"/>
<rect x="768.35" y="217.54" width="1.30" height="116.08" fill="#f47a7a" opacity="0.44999999999999996"/>
<rect x="772.15" y="217.54" width="1.30" height="116.08" fill="#f47a7a" opacity="0.65"/>
<rect x="377.85" y="333.62" width="1.30" height="140.96" fill="#f47a7a" opacity="0.6"/>
<rect x="384.05" y="333.62" width="1.30" height="140.96" fill="#f47a7a" opacity="0.44999999999999996"/>
<rect x="395.65" y="333.62" width="1.30" height="140.96" fill="#f47a7a" opacity="0.6"/>
<rect x="402.15" y="333.62" width="1.30" height="140.96" fill="#f47a7a" opacity="0.44999999999999996"/>
<rect x="406.25" y="333.62" width="1.30" height="140.96" fill="#f47a7a" opacity="0.30000000000000004"/>
<rect x="416.45" y="333.62" width="1.30" height="140.96" fill="#f47a7a" opacity="0.5"/>
<rect x="424.05" y="333.62" width="1.30" height="140.96" fill="#f47a7a" opacity="0.6"/>
<rect x="429.85" y="333.62" width="1.30" height="140.96" fill="#f47a7a" opacity="0.44999999999999996"/>
<rect x="437.80" y="333.62" width="1.60" height="140.96" fill="#f47a7a" opacity="0.7999999999999999"/>
<rect x="444.85" y="333.62" width="1.30" height="140.96" fill="#f47a7a" opacity="0.44999999999999996"/>
<rect x="448.85" y="333.62" width="1.30" height="140.96" fill="#f47a7a" opacity="0.44999999999999996"/>
<rect x="476.15" y="333.62" width="1.30" height="140.96" fill="#f47a7a" opacity="0.44999999999999996"/>
<rect x="479.25" y="333.62" width="1.30" height="140.96" fill="#f47a7a" opacity="0.30000000000000004"/>
<rect x="503.55" y="333.62" width="1.30" height="140.96" fill="#f47a7a" opacity="0.55"/>
<rect x="505.35" y="333.62" width="1.30" height="140.96" fill="#f47a7a" opacity="0.44999999999999996"/>
<rect x="516.65" y="333.62" width="1.30" height="140.96" fill="#f47a7a" opacity="0.44999999999999996"/>
<rect x="521.35" y="333.62" width="1.30" height="140.96" fill="#f47a7a" opacity="0.44999999999999996"/>
<rect x="525.95" y="333.62" width="1.30" height="140.96" fill="#f47a7a" opacity="0.6"/>
<rect x="543.25" y="333.62" width="1.30" height="140.96" fill="#f47a7a" opacity="0.44999999999999996"/>
<rect x="555.95" y="333.62" width="1.30" height="140.96" fill="#f47a7a" opacity="0.30000000000000004"/>
<rect x="564.05" y="333.62" width="1.30" height="140.96" fill="#f47a7a" opacity="0.44999999999999996"/>
<rect x="566.35" y="333.62" width="1.30" height="140.96" fill="#f47a7a" opacity="0.44999999999999996"/>
<rect x="572.15" y="333.62" width="1.30" height="140.96" fill="#f47a7a" opacity="0.6"/>
<rect x="577.95" y="333.62" width="1.30" height="140.96" fill="#f47a7a" opacity="0.44999999999999996"/>
<rect x="589.15" y="333.62" width="1.30" height="140.96" fill="#f47a7a" opacity="0.44999999999999996"/>
<rect x="595.35" y="333.62" width="1.30" height="140.96" fill="#f47a7a" opacity="0.44999999999999996"/>
<rect x="606.95" y="333.62" width="1.30" height="140.96" fill="#f47a7a" opacity="0.44999999999999996"/>
<rect x="625.45" y="333.62" width="1.30" height="140.96" fill="#f47a7a" opacity="0.44999999999999996"/>
<rect x="635.85" y="333.62" width="1.30" height="140.96" fill="#f47a7a" opacity="0.44999999999999996"/>
<rect x="642.75" y="333.62" width="1.30" height="140.96" fill="#f47a7a" opacity="0.44999999999999996"/>
<rect x="649.75" y="333.62" width="1.30" height="140.96" fill="#f47a7a" opacity="0.44999999999999996"/>
<rect x="656.65" y="333.62" width="1.30" height="140.96" fill="#f47a7a" opacity="0.44999999999999996"/>
<rect x="662.45" y="333.62" width="1.30" height="140.96" fill="#f47a7a" opacity="0.44999999999999996"/>
<rect x="668.25" y="333.62" width="1.30" height="140.96" fill="#f47a7a" opacity="0.44999999999999996"/>
<rect x="672.85" y="333.62" width="1.30" height="140.96" fill="#f47a7a" opacity="0.44999999999999996"/>
<rect x="682.15" y="333.62" width="1.30" height="140.96" fill="#f47a7a" opacity="0.65"/>
<rect x="687.95" y="333.62" width="1.30" height="140.96" fill="#f47a7a" opacity="0.44999999999999996"/>
<rect x="692.65" y="333.62" width="1.30" height="140.96" fill="#f47a7a" opacity="0.44999999999999996"/>
<rect x="698.35" y="333.62" width="1.30" height="140.96" fill="#f47a7a" opacity="0.55"/>
<rect x="703.05" y="333.62" width="1.30" height="140.96" fill="#f47a7a" opacity="0.44999999999999996"/>
<rect x="708.75" y="333.62" width="1.30" height="140.96" fill="#f47a7a" opacity="0.30000000000000004"/>
<rect x="732.85" y="333.62" width="1.30" height="140.96" fill="#f47a7a" opacity="0.6"/>
<rect x="735.35" y="333.62" width="1.30" height="140.96" fill="#f47a7a" opacity="0.6"/>
<rect x="744.65" y="333.62" width="1.30" height="140.96" fill="#f47a7a" opacity="0.44999999999999996"/>
<rect x="750.35" y="333.62" width="1.30" height="140.96" fill="#f47a7a" opacity="0.30000000000000004"/>
<rect x="764.25" y="333.62" width="1.30" height="140.96" fill="#f47a7a" opacity="0.44999999999999996"/>
<rect x="767.75" y="333.62" width="1.30" height="140.96" fill="#f47a7a" opacity="0.6"/>
<rect x="779.00" y="333.62" width="2.00" height="140.96" fill="#f47a7a" opacity="0.7999999999999999"/>
<rect x="531.50" y="356.60" width="2.00" height="114.40" fill="#f47a7a" opacity="0.75"/>
<rect x="666.50" y="380.90" width="3.50" height="8.10" fill="#7878f0" opacity="0.8"/>
<rect x="681.50" y="455.00" width="3.00" height="8.00" fill="#7878f0" opacity="0.8"/>
<rect x="717.50" y="405.50" width="2.00" height="7.50" fill="#7878f0" opacity="0.7"/>
<rect x="717.50" y="439.00" width="2.00" height="8.00" fill="#7878f0" opacity="0.7"/>
<rect x="379.50" y="472.50" width="1.00" height="16.00" fill="#f47a7a" opacity="0.14053672239920714"/>
<rect x="379.50" y="488.50" width="1.00" height="16.50" fill="#f47a7a" opacity="0.13691322937178774"/>
<rect x="382.50" y="472.50" width="1.00" height="16.00" fill="#f47a7a" opacity="0.08575728159828959"/>
<rect x="382.50" y="488.50" width="1.00" height="16.50" fill="#f47a7a" opacity="0.1631837157163397"/>
<rect x="387.50" y="472.50" width="1.00" height="16.00" fill="#f47a7a" opacity="0.2582241861915907"/>
<rect x="387.50" y="488.50" width="1.00" height="16.50" fill="#f47a7a" opacity="0.3469333191150882"/>
<rect x="391.50" y="472.50" width="1.00" height="16.00" fill="#f47a7a" opacity="0.17877971467821147"/>
<rect x="391.50" y="488.50" width="1.00" height="16.50" fill="#f47a7a" opacity="0.1610217216001109"/>
<rect x="395.00" y="472.50" width="1.00" height="16.00" fill="#f47a7a" opacity="0.3676212300789937"/>
<rect x="395.00" y="488.50" width="1.00" height="16.50" fill="#f47a7a" opacity="0.20714281730105266"/>
<rect x="399.00" y="472.50" width="1.00" height="16.00" fill="#f47a7a" opacity="0.3208709900459088"/>
<rect x="399.00" y="488.50" width="1.00" height="16.50" fill="#f47a7a" opacity="0.20967084717458445"/>
<rect x="405.00" y="472.50" width="1.00" height="16.00" fill="#f47a7a" opacity="0.27049553295624895"/>
<rect x="405.00" y="488.50" width="1.00" height="16.50" fill="#f47a7a" opacity="0.2114599968046912"/>
<rect x="409.00" y="472.50" width="1.00" height="16.00" fill="#f47a7a" opacity="0.12284703908740523"/>
<rect x="409.00" y="488.50" width="1.00" height="16.50" fill="#f47a7a" opacity="0.10906165566733024"/>
<rect x="412.50" y="472.50" width="1.00" height="16.00" fill="#f47a7a" opacity="0.3223819463169454"/>
<rect x="412.50" y="488.50" width="1.00" height="16.50" fill="#f47a7a" opacity="0.3022980147989903"/>
<rect x="415.50" y="472.50" width="1.00" height="16.00" fill="#f47a7a" opacity="0.33221695559348235"/>
<rect x="415.50" y="488.50" width="1.00" height="16.50" fill="#f47a7a" opacity="0.2037891099598244"/>
<rect x="418.50" y="472.50" width="1.00" height="16.00" fill="#f47a7a" opacity="0.36350919443566276"/>
<rect x="418.50" y="488.50" width="1.00" height="16.50" fill="#f47a7a" opacity="0.3722877728292935"/>
<rect x="422.50" y="472.50" width="1.00" height="16.00" fill="#f47a7a" opacity="0.3305123687929036"/>
<rect x="422.50" y="488.50" width="1.00" height="16.50" fill="#f47a7a" opacity="0.322500278942187"/>
<rect x="428.50" y="472.50" width="1.00" height="16.00" fill="#f47a7a" opacity="0.09433869039080246"/>
<rect x="428.50" y="488.50" width="1.00" height="16.50" fill="#f47a7a" opacity="0.10222106029603074"/>
<rect x="434.50" y="472.50" width="1.00" height="16.00" fill="#f47a7a" opacity="0.17429368838550258"/>
<rect x="434.50" y="488.50" width="1.00" height="16.50" fill="#f47a7a" opacity="0.2592635907498871"/>
<rect x="436.50" y="472.50" width="1.00" height="16.00" fill="#f47a7a" opacity="0.15193909477399867"/>
<rect x="436.50" y="488.50" width="1.00" height="16.50" fill="#f47a7a" opacity="0.12303702322365483"/>
<rect x="439.50" y="472.50" width="1.00" height="16.00" fill="#f47a7a" opacity="0.15880520655494032"/>
<rect x="439.50" y="488.50" width="1.00" height="16.50" fill="#f47a7a" opacity="0.2715775606840568"/>
<rect x="441.50" y="472.50" width="1.00" height="16.00" fill="#f47a7a" opacity="0.22837507943250243"/>
<rect x="441.50" y="488.50" width="1.00" height="16.50" fill="#f47a7a" opacity="0.2502932633822654"/>
<rect x="444.50" y="472.50" width="1.00" height="16.00" fill="#f47a7a" opacity="0.21265283794800843"/>
<rect x="444.50" y="488.50" width="1.00" height="16.50" fill="#f47a7a" opacity="0.24925501019237975"/>
<rect x="447.50" y="472.50" width="1.00" height="16.00" fill="#f47a7a" opacity="0.3115178882881604"/>
<rect x="447.50" y="488.50" width="1.00" height="16.50" fill="#f47a7a" opacity="0.32556566479211246"/>
<rect x="450.50" y="472.50" width="1.00" height="16.00" fill="#f47a7a" opacity="0.2148005976097188"/>
<rect x="450.50" y="488.50" width="1.00" height="16.50" fill="#f47a7a" opacity="0.14998075407592446"/>
<rect x="453.50" y="472.50" width="1.00" height="16.00" fill="#f47a7a" opacity="0.24316033075001753"/>
<rect x="453.50" y="488.50" width="1.00" height="16.50" fill="#f47a7a" opacity="0.15570638103114826"/>
<rect x="456.50" y="472.50" width="1.00" height="16.00" fill="#f47a7a" opacity="0.2435787567084217"/>
<rect x="456.50" y="488.50" width="1.00" height="16.50" fill="#f47a7a" opacity="0.29002560457303944"/>
<rect x="459.50" y="472.50" width="1.00" height="16.00" fill="#f47a7a" opacity="0.18680548854873943"/>
<rect x="459.50" y="488.50" width="1.00" height="16.50" fill="#f47a7a" opacity="0.3642789040888368"/>
<rect x="462.50" y="472.50" width="1.00" height="16.00" fill="#f47a7a" opacity="0.24868542967552512"/>
<rect x="462.50" y="488.50" width="1.00" height="16.50" fill="#f47a7a" opacity="0.14046905375544952"/>
<rect x="464.50" y="472.50" width="1.00" height="16.00" fill="#f47a7a" opacity="0.15840013952128604"/>
<rect x="464.50" y="488.50" width="1.00" height="16.50" fill="#f47a7a" opacity="0.15204179233753665"/>
<rect x="468.50" y="472.50" width="1.00" height="16.00" fill="#f47a7a" opacity="0.24027963932583069"/>
<rect x="468.50" y="488.50" width="1.00" height="16.50" fill="#f47a7a" opacity="0.19362945899230155"/>
<rect x="471.50" y="472.50" width="1.00" height="16.00" fill="#f47a7a" opacity="0.3991465391458209"/>
<rect x="471.50" y="488.50" width="1.00" height="16.50" fill="#f47a7a" opacity="0.34722359770514377"/>
<rect x="475.50" y="472.50" width="1.00" height="16.00" fill="#f47a7a" opacity="0.20339555412505245"/>
<rect x="475.50" y="488.50" width="1.00" height="16.50" fill="#f47a7a" opacity="0.35165290755013484"/>
<rect x="478.50" y="472.50" width="1.00" height="16.00" fill="#f47a7a" opacity="0.2023066115909437"/>
<rect x="478.50" y="488.50" width="1.00" height="16.50" fill="#f47a7a" opacity="0.32416191172404335"/>
<rect x="484.50" y="472.50" width="1.00" height="16.00" fill="#f47a7a" opacity="0.21357667464966454"/>
<rect x="484.50" y="488.50" width="1.00" height="16.50" fill="#f47a7a" opacity="0.2055122119819096"/>
<rect x="490.50" y="472.50" width="1.00" height="16.00" fill="#f47a7a" opacity="0.13078812519916866"/>
<rect x="490.50" y="488.50" width="1.00" height="16.50" fill="#f47a7a" opacity="0.19539311639276905"/>
<rect x="492.50" y="472.50" width="1.00" height="16.00" fill="#f47a7a" opacity="0.2702979969224501"/>
<rect x="492.50" y="488.50" width="1.00" height="16.50" fill="#f47a7a" opacity="0.39601431912296226"/>
<rect x="494.50" y="472.50" width="1.00" height="16.00" fill="#f47a7a" opacity="0.2889429151054395"/>
<rect x="494.50" y="488.50" width="1.00" height="16.50" fill="#f47a7a" opacity="0.2827928396832872"/>
<rect x="498.50" y="472.50" width="1.00" height="16.00" fill="#f47a7a" opacity="0.30181895548231147"/>
<rect x="498.50" y="488.50" width="1.00" height="16.50" fill="#f47a7a" opacity="0.17117923995942388"/>
<rect x="502.00" y="472.50" width="1.00" height="16.00" fill="#f47a7a" opacity="0.21983718212264283"/>
<rect x="502.00" y="488.50" width="1.00" height="16.50" fill="#f47a7a" opacity="0.21174864904323967"/>
<rect x="505.50" y="472.50" width="1.00" height="16.00" fill="#f47a7a" opacity="0.2160021473717067"/>
<rect x="505.50" y="488.50" width="1.00" height="16.50" fill="#f47a7a" opacity="0.24655526097101696"/>
<rect x="510.50" y="472.50" width="1.00" height="16.00" fill="#f47a7a" opacity="0.23291424353718504"/>
<rect x="510.50" y="488.50" width="1.00" height="16.50" fill="#f47a7a" opacity="0.21974289843636513"/>
<rect x="513.50" y="472.50" width="1.00" height="16.00" fill="#f47a7a" opacity="0.20614889334560843"/>
<rect x="513.50" y="488.50" width="1.00" height="16.50" fill="#f47a7a" opacity="0.21050081869997794"/>
<rect x="516.50" y="472.50" width="1.00" height="16.00" fill="#f47a7a" opacity="0.33613822915199837"/>
<rect x="516.50" y="488.50" width="1.00" height="16.50" fill="#f47a7a" opacity="0.3677744630304708"/>
<rect x="520.00" y="472.50" width="1.00" height="16.00" fill="#f47a7a" opacity="0.2967482166865315"/>
<rect x="520.00" y="488.50" width="1.00" height="16.50" fill="#f47a7a" opacity="0.3234855544930127"/>
<rect x="523.00" y="472.50" width="1.00" height="16.00" fill="#f47a7a" opacity="0.2544089595693889"/>
<rect x="523.00" y="488.50" width="1.00" height="16.50" fill="#f47a7a" opacity="0.21929637578180453"/>
<rect x="525.00" y="472.50" width="1.00" height="16.00" fill="#f47a7a" opacity="0.1349568180893908"/>
<rect x="525.00" y="488.50" width="1.00" height="16.50" fill="#f47a7a" opacity="0.07306898830000931"/>
<rect x="528.50" y="472.50" width="1.00" height="16.00" fill="#f47a7a" opacity="0.4341448561648612"/>
<rect x="528.50" y="488.50" width="1.00" height="16.50" fill="#f47a7a" opacity="0.4374360626862196"/>
<rect x="533.50" y="472.50" width="1.00" height="16.00" fill="#f47a7a" opacity="0.25703318612182163"/>
<rect x="533.50" y="488.50" width="1.00" height="16.50" fill="#f47a7a" opacity="0.1996168846871703"/>
<rect x="539.50" y="472.50" width="1.00" height="16.00" fill="#f47a7a" opacity="0.263238092245967"/>
<rect x="539.50" y="488.50" width="1.00" height="16.50" fill="#f47a7a" opacity="0.2995049326285797"/>
<rect x="545.50" y="472.50" width="1.00" height="16.00" fill="#f47a7a" opacity="0.2639611550845582"/>
<rect x="545.50" y="488.50" width="1.00" height="16.50" fill="#f47a7a" opacity="0.29196975377898615"/>
<rect x="549.00" y="472.50" width="1.00" height="16.00" fill="#f47a7a" opacity="0.08577184798569777"/>
<rect x="549.00" y="488.50" width="1.00" height="16.50" fill="#f47a7a" opacity="0.09700235773647314"/>
<rect x="552.50" y="472.50" width="1.00" height="16.00" fill="#f47a7a" opacity="0.0722033833897682"/>
<rect x="552.50" y="488.50" width="1.00" height="16.50" fill="#f47a7a" opacity="0.07509953748022945"/>
<rect x="556.00" y="472.50" width="1.00" height="16.00" fill="#f47a7a" opacity="0.19381182345254153"/>
<rect x="556.00" y="488.50" width="1.00" height="16.50" fill="#f47a7a" opacity="0.25792523945991824"/>
<rect x="561.00" y="472.50" width="1.00" height="16.00" fill="#f47a7a" opacity="0.16526179563361582"/>
<rect x="561.00" y="488.50" width="1.00" height="16.50" fill="#f47a7a" opacity="0.1463158240370426"/>
<rect x="565.00" y="472.50" width="1.00" height="16.00" fill="#f47a7a" opacity="0.13498621378579545"/>
<rect x="565.00" y="488.50" width="1.00" height="16.50" fill="#f47a7a" opacity="0.18384509397343066"/>
<rect x="568.00" y="472.50" width="1.00" height="16.00" fill="#f47a7a" opacity="0.39318631386377134"/>
<rect x="568.00" y="488.50" width="1.00" height="16.50" fill="#f47a7a" opacity="0.38447072758601714"/>
<rect x="574.00" y="472.50" width="1.00" height="16.00" fill="#f47a7a" opacity="0.23485636716122169"/>
<rect x="574.00" y="488.50" width="1.00" height="16.50" fill="#f47a7a" opacity="0.3555686361075318"/>
<rect x="577.00" y="472.50" width="1.00" height="16.00" fill="#f47a7a" opacity="0.13505825272257752"/>
<rect x="577.00" y="488.50" width="1.00" height="16.50" fill="#f47a7a" opacity="0.17651121781171142"/>
<rect x="583.00" y="472.50" width="1.00" height="16.00" fill="#f47a7a" opacity="0.2415692928208242"/>
<rect x="583.00" y="488.50" width="1.00" height="16.50" fill="#f47a7a" opacity="0.2599212470747985"/>
<rect x="587.00" y="472.50" width="1.00" height="16.00" fill="#f47a7a" opacity="0.25191491715831166"/>
<rect x="587.00" y="488.50" width="1.00" height="16.50" fill="#f47a7a" opacity="0.3103486587863865"/>
<rect x="593.00" y="472.50" width="1.00" height="16.00" fill="#f47a7a" opacity="0.08899685320109008"/>
<rect x="593.00" y="488.50" width="1.00" height="16.50" fill="#f47a7a" opacity="0.1099603970031062"/>
<rect x="597.00" y="472.50" width="1.00" height="16.00" fill="#f47a7a" opacity="0.14224999258275622"/>
<rect x="597.00" y="488.50" width="1.00" height="16.50" fill="#f47a7a" opacity="0.27325824008781935"/>
<rect x="599.00" y="472.50" width="1.00" height="16.00" fill="#f47a7a" opacity="0.2143775520729527"/>
<rect x="599.00" y="488.50" width="1.00" height="16.50" fill="#f47a7a" opacity="0.18848463103450075"/>
<rect x="604.00" y="472.50" width="1.00" height="16.00" fill="#f47a7a" opacity="0.09342642953734824"/>
<rect x="604.00" y="488.50" width="1.00" height="16.50" fill="#f47a7a" opacity="0.13846418863498633"/>
<rect x="607.50" y="472.50" width="1.00" height="16.00" fill="#f47a7a" opacity="0.15351243684177746"/>
<rect x="607.50" y="488.50" width="1.00" height="16.50" fill="#f47a7a" opacity="0.08509742653869837"/>
<rect x="609.50" y="472.50" width="1.00" height="16.00" fill="#f47a7a" opacity="0.11907344752917597"/>
<rect x="609.50" y="488.50" width="1.00" height="16.50" fill="#f47a7a" opacity="0.12367670784572744"/>
<rect x="613.00" y="472.50" width="1.00" height="16.00" fill="#f47a7a" opacity="0.13318791881073447"/>
<rect x="613.00" y="488.50" width="1.00" height="16.50" fill="#f47a7a" opacity="0.16528779898810006"/>
<rect x="617.00" y="472.50" width="1.00" height="16.00" fill="#f47a7a" opacity="0.11246038085177776"/>
<rect x="617.00" y="488.50" width="1.00" height="16.50" fill="#f47a7a" opacity="0.15340675233339818"/>
<rect x="620.50" y="472.50" width="1.00" height="16.00" fill="#f47a7a" opacity="0.14524817476369747"/>
<rect x="620.50" y="488.50" width="1.00" height="16.50" fill="#f47a7a" opacity="0.17378417354129813"/>
<rect x="623.50" y="472.50" width="1.00" height="16.00" fill="#f47a7a" opacity="0.1906420776995214"/>
<rect x="623.50" y="488.50" width="1.00" height="16.50" fill="#f47a7a" opacity="0.23361969630925344"/>
<rect x="628.50" y="472.50" width="1.00" height="16.00" fill="#f47a7a" opacity="0.14460495656248964"/>
<rect x="628.50" y="488.50" width="1.00" height="16.50" fill="#f47a7a" opacity="0.14980743195011842"/>
<rect x="631.50" y="472.50" width="1.00" height="16.00" fill="#f47a7a" opacity="0.08796832428236753"/>
<rect x="631.50" y="488.50" width="1.00" height="16.50" fill="#f47a7a" opacity="0.17113542753301136"/>
<rect x="637.50" y="472.50" width="1.00" height="16.00" fill="#f47a7a" opacity="0.16228455380620155"/>
<rect x="637.50" y="488.50" width="1.00" height="16.50" fill="#f47a7a" opacity="0.23330065902939293"/>
<rect x="640.50" y="472.50" width="1.00" height="16.00" fill="#f47a7a" opacity="0.2897983873714355"/>
<rect x="640.50" y="488.50" width="1.00" height="16.50" fill="#f47a7a" opacity="0.25853632396146825"/>
<rect x="644.00" y="472.50" width="1.00" height="16.00" fill="#f47a7a" opacity="0.3617051361244779"/>
<rect x="644.00" y="488.50" width="1.00" height="16.50" fill="#f47a7a" opacity="0.341772810937134"/>
<rect x="648.00" y="472.50" width="1.00" height="16.00" fill="#f47a7a" opacity="0.10506966244810892"/>
<rect x="648.00" y="488.50" width="1.00" height="16.50" fill="#f47a7a" opacity="0.096132128189707"/>
<rect x="652.00" y="472.50" width="1.00" height="16.00" fill="#f47a7a" opacity="0.24563235448810813"/>
<rect x="652.00" y="488.50" width="1.00" height="16.50" fill="#f47a7a" opacity="0.33318311004798457"/>
<rect x="655.00" y="472.50" width="1.00" height="16.00" fill="#f47a7a" opacity="0.2161169062874107"/>
<rect x="655.00" y="488.50" width="1.00" height="16.50" fill="#f47a7a" opacity="0.11936846176605252"/>
<rect x="658.00" y="472.50" width="1.00" height="16.00" fill="#f47a7a" opacity="0.2719831654818314"/>
<rect x="658.00" y="488.50" width="1.00" height="16.50" fill="#f47a7a" opacity="0.2458367681485322"/>
<rect x="660.00" y="472.50" width="1.00" height="16.00" fill="#f47a7a" opacity="0.20232113126212187"/>
<rect x="660.00" y="488.50" width="1.00" height="16.50" fill="#f47a7a" opacity="0.3898321654486399"/>
<rect x="663.00" y="472.50" width="1.00" height="16.00" fill="#f47a7a" opacity="0.2379750972366053"/>
<rect x="663.00" y="488.50" width="1.00" height="16.50" fill="#f47a7a" opacity="0.22373649070425022"/>
<rect x="665.00" y="472.50" width="1.00" height="16.00" fill="#f47a7a" opacity="0.13134733208753244"/>
<rect x="665.00" y="488.50" width="1.00" height="16.50" fill="#f47a7a" opacity="0.320255907836231"/>
<rect x="668.00" y="472.50" width="1.00" height="16.00" fill="#f47a7a" opacity="0.4060515224926106"/>
<rect x="668.00" y="488.50" width="1.00" height="16.50" fill="#f47a7a" opacity="0.3868341795758876"/>
<rect x="671.50" y="472.50" width="1.00" height="16.00" fill="#f47a7a" opacity="0.16692237810006968"/>
<rect x="671.50" y="488.50" width="1.00" height="16.50" fill="#f47a7a" opacity="0.21310670839768836"/>
<rect x="673.50" y="472.50" width="1.00" height="16.00" fill="#f47a7a" opacity="0.19837726555895124"/>
<rect x="673.50" y="488.50" width="1.00" height="16.50" fill="#f47a7a" opacity="0.15179790361123097"/>
<rect x="677.00" y="472.50" width="1.00" height="16.00" fill="#f47a7a" opacity="0.31209586172810716"/>
<rect x="677.00" y="488.50" width="1.00" height="16.50" fill="#f47a7a" opacity="0.3477136880491481"/>
<rect x="681.00" y="472.50" width="1.00" height="16.00" fill="#f47a7a" opacity="0.3035751829760789"/>
<rect x="681.00" y="488.50" width="1.00" height="16.50" fill="#f47a7a" opacity="0.2882655245878546"/>
<rect x="687.00" y="472.50" width="1.00" height="16.00" fill="#f47a7a" opacity="0.30563433888429503"/>
<rect x="687.00" y="488.50" width="1.00" height="16.50" fill="#f47a7a" opacity="0.3441770662017276"/>
<rect x="693.00" y="472.50" width="1.00" height="16.00" fill="#f47a7a" opacity="0.19278594174030117"/>
<rect x="693.00" y="488.50" width="1.00" height="16.50" fill="#f47a7a" opacity="0.25872252569811416"/>
<rect x="696.00" y="472.50" width="1.00" height="16.00" fill="#f47a7a" opacity="0.1320496577125381"/>
<rect x="696.00" y="488.50" width="1.00" height="16.50" fill="#f47a7a" opacity="0.08701549218343625"/>
<rect x="699.00" y="472.50" width="1.00" height="16.00" fill="#f47a7a" opacity="0.16975447035794142"/>
<rect x="699.00" y="488.50" width="1.00" height="16.50" fill="#f47a7a" opacity="0.25655302458199997"/>
<rect x="703.00" y="472.50" width="1.00" height="16.00" fill="#f47a7a" opacity="0.15183260486728437"/>
<rect x="703.00" y="488.50" width="1.00" height="16.50" fill="#f47a7a" opacity="0.14157721074136148"/>
<rect x="706.00" y="472.50" width="1.00" height="16.00" fill="#f47a7a" opacity="0.21060642939911517"/>
<rect x="706.00" y="488.50" width="1.00" height="16.50" fill="#f47a7a" opacity="0.2422004363367615"/>
<rect x="709.50" y="472.50" width="1.00" height="16.00" fill="#f47a7a" opacity="0.18020065845545605"/>
<rect x="709.50" y="488.50" width="1.00" height="16.50" fill="#f47a7a" opacity="0.10037985448208522"/>
<rect x="715.50" y="472.50" width="1.00" height="16.00" fill="#f47a7a" opacity="0.10468613766501059"/>
<rect x="715.50" y="488.50" width="1.00" height="16.50" fill="#f47a7a" opacity="0.16579767230800257"/>
<rect x="719.50" y="472.50" width="1.00" height="16.00" fill="#f47a7a" opacity="0.13299416626492266"/>
<rect x="719.50" y="488.50" width="1.00" height="16.50" fill="#f47a7a" opacity="0.10592790101072051"/>
<rect x="722.50" y="472.50" width="1.00" height="16.00" fill="#f47a7a" opacity="0.22762858291281912"/>
<rect x="722.50" y="488.50" width="1.00" height="16.50" fill="#f47a7a" opacity="0.1829854987483381"/>
<rect x="725.50" y="472.50" width="1.00" height="16.00" fill="#f47a7a" opacity="0.1662686838201974"/>
<rect x="725.50" y="488.50" width="1.00" height="16.50" fill="#f47a7a" opacity="0.11567758747687584"/>
<rect x="727.50" y="472.50" width="1.00" height="16.00" fill="#f47a7a" opacity="0.14573137608301798"/>
<rect x="727.50" y="488.50" width="1.00" height="16.50" fill="#f47a7a" opacity="0.25132128839692197"/>
<rect x="730.50" y="472.50" width="1.00" height="16.00" fill="#f47a7a" opacity="0.2793275557614944"/>
<rect x="730.50" y="488.50" width="1.00" height="16.50" fill="#f47a7a" opacity="0.14630058694570564"/>
<rect x="736.50" y="472.50" width="1.00" height="16.00" fill="#f47a7a" opacity="0.18279257321950146"/>
<rect x="736.50" y="488.50" width="1.00" height="16.50" fill="#f47a7a" opacity="0.18576816448877245"/>
<rect x="741.50" y="472.50" width="1.00" height="16.00" fill="#f47a7a" opacity="0.39064554373721694"/>
<rect x="741.50" y="488.50" width="1.00" height="16.50" fill="#f47a7a" opacity="0.18591511310974435"/>
<rect x="744.50" y="472.50" width="1.00" height="16.00" fill="#f47a7a" opacity="0.25258691299208197"/>
<rect x="744.50" y="488.50" width="1.00" height="16.50" fill="#f47a7a" opacity="0.20136094562046808"/>
<rect x="749.50" y="472.50" width="1.00" height="16.00" fill="#f47a7a" opacity="0.17271606018813687"/>
<rect x="749.50" y="488.50" width="1.00" height="16.50" fill="#f47a7a" opacity="0.18914099575095733"/>
<rect x="754.50" y="472.50" width="1.00" height="16.00" fill="#f47a7a" opacity="0.12821147768332428"/>
<rect x="754.50" y="488.50" width="1.00" height="16.50" fill="#f47a7a" opacity="0.22339467050899944"/>
<rect x="756.50" y="472.50" width="1.00" height="16.00" fill="#f47a7a" opacity="0.2862160629808387"/>
<rect x="756.50" y="488.50" width="1.00" height="16.50" fill="#f47a7a" opacity="0.2534455462844613"/>
<rect x="758.50" y="472.50" width="1.00" height="16.00" fill="#f47a7a" opacity="0.17660519424625393"/>
<rect x="758.50" y="488.50" width="1.00" height="16.50" fill="#f47a7a" opacity="0.332498897725796"/>
<rect x="764.50" y="472.50" width="1.00" height="16.00" fill="#f47a7a" opacity="0.1718076557903063"/>
<rect x="764.50" y="488.50" width="1.00" height="16.50" fill="#f47a7a" opacity="0.1315197324017168"/>
<rect x="770.50" y="472.50" width="1.00" height="16.00" fill="#f47a7a" opacity="0.12789926279013544"/>
<rect x="770.50" y="488.50" width="1.00" height="16.50" fill="#f47a7a" opacity="0.16539724505780143"/>
<rect x="776.50" y="472.50" width="1.00" height="16.00" fill="#f47a7a" opacity="0.1346934420410085"/>
<rect x="776.50" y="488.50" width="1.00" height="16.50" fill="#f47a7a" opacity="0.16390498814766977"/>
<rect x="778.50" y="472.50" width="1.00" height="16.00" fill="#f47a7a" opacity="0.12358596965658264"/>
<rect x="778.50" y="488.50" width="1.00" height="16.50" fill="#f47a7a" opacity="0.11345300863457024"/>
<rect x="782.50" y="472.50" width="1.00" height="16.00" fill="#f47a7a" opacity="0.15557574965339407"/>
<rect x="782.50" y="488.50" width="1.00" height="16.50" fill="#f47a7a" opacity="0.15045924607327552"/>
<rect x="377.00" y="472.50" width="3.00" height="16.00" fill="#f47a7a" opacity="0.4017050987992575"/>
<rect x="377.00" y="488.50" width="3.00" height="16.50" fill="#f47a7a" opacity="0.46531807259965413"/>
<rect x="382.00" y="472.50" width="3.00" height="16.00" fill="#f47a7a" opacity="0.344307293935193"/>
<rect x="382.00" y="488.50" width="3.00" height="16.50" fill="#f47a7a" opacity="0.4116696266691239"/>
<rect x="387.00" y="472.50" width="1.50" height="16.00" fill="#f47a7a" opacity="0.3083178732658479"/>
<rect x="387.00" y="488.50" width="1.50" height="16.50" fill="#f47a7a" opacity="0.38879863444379803"/>
<rect x="390.60" y="472.50" width="4.40" height="16.00" fill="#f47a7a" opacity="0.5436211900175956"/>
<rect x="390.60" y="488.50" width="4.40" height="16.50" fill="#f47a7a" opacity="0.43176786564748426"/>
<rect x="396.30" y="472.50" width="1.40" height="16.00" fill="#f47a7a" opacity="0.6002970976652369"/>
<rect x="396.30" y="488.50" width="1.40" height="16.50" fill="#f47a7a" opacity="0.7210269769780006"/>
<rect x="402.70" y="472.50" width="1.30" height="16.00" fill="#f47a7a" opacity="0.6007542206666574"/>
<rect x="402.70" y="488.50" width="1.30" height="16.50" fill="#f47a7a" opacity="0.7168063109210525"/>
<rect x="405.50" y="472.50" width="2.10" height="16.00" fill="#f47a7a" opacity="0.7617977438724549"/>
<rect x="405.50" y="488.50" width="2.10" height="16.50" fill="#f47a7a" opacity="0.6298366833793796"/>
<rect x="410.50" y="472.50" width="1.50" height="16.00" fill="#f47a7a" opacity="0.4247498827552035"/>
<rect x="410.50" y="488.50" width="1.50" height="16.50" fill="#f47a7a" opacity="0.5376945169840178"/>
<rect x="413.30" y="472.50" width="1.40" height="16.00" fill="#f47a7a" opacity="0.49353486174227695"/>
<rect x="413.30" y="488.50" width="1.40" height="16.50" fill="#f47a7a" opacity="0.5427754527034746"/>
<rect x="415.40" y="472.50" width="2.90" height="16.00" fill="#f47a7a" opacity="0.4316352762549606"/>
<rect x="415.40" y="488.50" width="2.90" height="16.50" fill="#f47a7a" opacity="0.5616952322783816"/>
<rect x="422.50" y="472.50" width="3.50" height="16.00" fill="#f47a7a" opacity="0.6070998897341794"/>
<rect x="422.50" y="488.50" width="3.50" height="16.50" fill="#f47a7a" opacity="0.5164859947525933"/>
<rect x="429.00" y="472.50" width="2.80" height="16.00" fill="#f47a7a" opacity="0.46586873833914055"/>
<rect x="429.00" y="488.50" width="2.80" height="16.50" fill="#f47a7a" opacity="0.664322290550745"/>
<rect x="435.30" y="472.50" width="5.00" height="16.00" fill="#f47a7a" opacity="0.6878824659200297"/>
<rect x="435.30" y="488.50" width="5.00" height="16.50" fill="#f47a7a" opacity="0.7973825823033661"/>
<rect x="442.40" y="472.50" width="2.10" height="16.00" fill="#f47a7a" opacity="0.43061714736927514"/>
<rect x="442.40" y="488.50" width="2.10" height="16.50" fill="#f47a7a" opacity="0.6521679044442846"/>
<rect x="448.80" y="472.50" width="1.40" height="16.00" fill="#f47a7a" opacity="0.5603369846658158"/>
<rect x="448.80" y="488.50" width="1.40" height="16.50" fill="#f47a7a" opacity="0.5096984296131514"/>
<rect x="453.00" y="472.50" width="4.30" height="16.00" fill="#f47a7a" opacity="0.5155662280044627"/>
<rect x="453.00" y="488.50" width="4.30" height="16.50" fill="#f47a7a" opacity="0.5550583882812421"/>
<rect x="458.70" y="472.50" width="2.80" height="16.00" fill="#f47a7a" opacity="0.4092143717444008"/>
<rect x="458.70" y="488.50" width="2.80" height="16.50" fill="#f47a7a" opacity="0.6223335409457449"/>
<rect x="472.90" y="472.50" width="7.10" height="16.00" fill="#f47a7a" opacity="0.3210863733360592"/>
<rect x="472.90" y="488.50" width="7.10" height="16.50" fill="#f47a7a" opacity="0.40288920722311056"/>
<rect x="478.00" y="472.50" width="2.00" height="16.00" fill="#f47a7a" opacity="0.48754150363460286"/>
<rect x="478.00" y="488.50" width="2.00" height="16.50" fill="#f47a7a" opacity="0.4308137222301472"/>
<rect x="488.00" y="472.50" width="1.30" height="16.00" fill="#f47a7a" opacity="0.4929134347168337"/>
<rect x="488.00" y="488.50" width="1.30" height="16.50" fill="#f47a7a" opacity="0.5423777389918792"/>
<rect x="492.20" y="472.50" width="1.40" height="16.00" fill="#f47a7a" opacity="0.4807895720624336"/>
<rect x="492.20" y="488.50" width="1.40" height="16.50" fill="#f47a7a" opacity="0.45664742948802883"/>
<rect x="499.30" y="472.50" width="1.40" height="16.00" fill="#f47a7a" opacity="0.5258962636509524"/>
<rect x="499.30" y="488.50" width="1.40" height="16.50" fill="#f47a7a" opacity="0.437761814383698"/>
<rect x="502.80" y="472.50" width="3.60" height="16.00" fill="#f47a7a" opacity="0.7689117031585744"/>
<rect x="502.80" y="488.50" width="3.60" height="16.50" fill="#f47a7a" opacity="0.6933426418698602"/>
<rect x="508.50" y="472.50" width="1.50" height="16.00" fill="#f47a7a" opacity="0.44691703695445256"/>
<rect x="508.50" y="488.50" width="1.50" height="16.50" fill="#f47a7a" opacity="0.536874921739186"/>
<rect x="516.30" y="472.50" width="1.40" height="16.00" fill="#f47a7a" opacity="0.43146020597989854"/>
<rect x="516.30" y="488.50" width="1.40" height="16.50" fill="#f47a7a" opacity="0.5194703946235376"/>
<rect x="524.80" y="472.50" width="2.90" height="16.00" fill="#f47a7a" opacity="0.9100571221363948"/>
<rect x="524.80" y="488.50" width="2.90" height="16.50" fill="#f47a7a" opacity="0.7045236719606119"/>
<rect x="534.00" y="472.50" width="1.50" height="16.00" fill="#f47a7a" opacity="0.5250564394589978"/>
<rect x="534.00" y="488.50" width="1.50" height="16.50" fill="#f47a7a" opacity="0.46167876402799707"/>
<rect x="540.40" y="472.50" width="5.60" height="16.00" fill="#f47a7a" opacity="0.6170251046236374"/>
<rect x="540.40" y="488.50" width="5.60" height="16.50" fill="#f47a7a" opacity="0.7989518757220087"/>
<rect x="548.20" y="472.50" width="2.80" height="16.00" fill="#f47a7a" opacity="0.6340481153026958"/>
<rect x="548.20" y="488.50" width="2.80" height="16.50" fill="#f47a7a" opacity="0.6871414889180627"/>
<rect x="553.20" y="472.50" width="1.40" height="16.00" fill="#f47a7a" opacity="0.4526207338029359"/>
<rect x="553.20" y="488.50" width="1.40" height="16.50" fill="#f47a7a" opacity="0.4941635410736953"/>
<rect x="560.30" y="472.50" width="1.40" height="16.00" fill="#f47a7a" opacity="0.45842893240417154"/>
<rect x="560.30" y="488.50" width="1.40" height="16.50" fill="#f47a7a" opacity="0.3727986834695951"/>
<rect x="563.10" y="472.50" width="1.40" height="16.00" fill="#f47a7a" opacity="0.5166384164437795"/>
<rect x="563.10" y="488.50" width="1.40" height="16.50" fill="#f47a7a" opacity="0.4983820704038214"/>
<rect x="566.70" y="472.50" width="1.30" height="16.00" fill="#f47a7a" opacity="0.45574683490054974"/>
<rect x="566.70" y="488.50" width="1.30" height="16.50" fill="#f47a7a" opacity="0.38352644653503176"/>
<rect x="571.60" y="472.50" width="5.70" height="16.00" fill="#f47a7a" opacity="0.6048355897523895"/>
<rect x="571.60" y="488.50" width="5.70" height="16.50" fill="#f47a7a" opacity="0.504065265959706"/>
<rect x="580.20" y="472.50" width="1.40" height="16.00" fill="#f47a7a" opacity="0.47355333602453015"/>
<rect x="580.20" y="488.50" width="1.40" height="16.50" fill="#f47a7a" opacity="0.5587949962857784"/>
<rect x="581.00" y="472.50" width="1.00" height="16.00" fill="#f47a7a" opacity="0.3097260123828533"/>
<rect x="581.00" y="488.50" width="1.00" height="16.50" fill="#f47a7a" opacity="0.4101801404787676"/>
<rect x="592.40" y="472.50" width="3.60" height="16.00" fill="#f47a7a" opacity="0.7515711428495451"/>
<rect x="592.40" y="488.50" width="3.60" height="16.50" fill="#f47a7a" opacity="0.6074577878374787"/>
<rect x="597.30" y="472.50" width="2.10" height="16.00" fill="#f47a7a" opacity="0.6144763817914501"/>
<rect x="597.30" y="488.50" width="2.10" height="16.50" fill="#f47a7a" opacity="0.6392644078592354"/>
<rect x="605.80" y="472.50" width="2.20" height="16.00" fill="#f47a7a" opacity="0.6772153723690835"/>
<rect x="605.80" y="488.50" width="2.20" height="16.50" fill="#f47a7a" opacity="0.7995451104481082"/>
<rect x="610.80" y="472.50" width="4.20" height="16.00" fill="#f47a7a" opacity="0.531274292047758"/>
<rect x="610.80" y="488.50" width="4.20" height="16.50" fill="#f47a7a" opacity="0.4386983812617303"/>
<rect x="617.90" y="472.50" width="5.70" height="16.00" fill="#f47a7a" opacity="0.5083806302915979"/>
<rect x="617.90" y="488.50" width="5.70" height="16.50" fill="#f47a7a" opacity="0.515316257144174"/>
<rect x="628.50" y="472.50" width="1.50" height="16.00" fill="#f47a7a" opacity="0.5015382338162703"/>
<rect x="628.50" y="488.50" width="1.50" height="16.50" fill="#f47a7a" opacity="0.47666476728379553"/>
<rect x="634.90" y="472.50" width="2.10" height="16.00" fill="#f47a7a" opacity="0.47224496734998994"/>
<rect x="634.90" y="488.50" width="2.10" height="16.50" fill="#f47a7a" opacity="0.573437034959905"/>
<rect x="640.60" y="472.50" width="5.70" height="16.00" fill="#f47a7a" opacity="0.5063024948048611"/>
<rect x="640.60" y="488.50" width="5.70" height="16.50" fill="#f47a7a" opacity="0.7367063700406684"/>
<rect x="648.40" y="472.50" width="2.10" height="16.00" fill="#f47a7a" opacity="0.37166133277554875"/>
<rect x="648.40" y="488.50" width="2.10" height="16.50" fill="#f47a7a" opacity="0.42934278839059037"/>
<rect x="656.20" y="472.50" width="2.10" height="16.00" fill="#f47a7a" opacity="0.36472814177740565"/>
<rect x="656.20" y="488.50" width="2.10" height="16.50" fill="#f47a7a" opacity="0.5147411461836281"/>
<rect x="661.90" y="472.50" width="1.40" height="16.00" fill="#f47a7a" opacity="0.5056809360829569"/>
<rect x="661.90" y="488.50" width="1.40" height="16.50" fill="#f47a7a" opacity="0.4251462641747552"/>
<rect x="665.40" y="472.50" width="13.60" height="16.00" fill="#f47a7a" opacity="0.7141839149457339"/>
<rect x="665.40" y="488.50" width="13.60" height="16.50" fill="#f47a7a" opacity="0.9423430887097913"/>
<rect x="681.00" y="472.50" width="5.00" height="16.00" fill="#f47a7a" opacity="0.6018768296256348"/>
<rect x="681.00" y="488.50" width="5.00" height="16.50" fill="#f47a7a" opacity="0.5463327971428265"/>
<rect x="689.70" y="472.50" width="1.30" height="16.00" fill="#f47a7a" opacity="0.539361887368289"/>
<rect x="689.70" y="488.50" width="1.30" height="16.50" fill="#f47a7a" opacity="0.5185311100653544"/>
<rect x="695.40" y="472.50" width="5.60" height="16.00" fill="#f47a7a" opacity="0.6824869761293622"/>
<rect x="695.40" y="488.50" width="5.60" height="16.50" fill="#f47a7a" opacity="0.793658419327031"/>
<rect x="703.90" y="472.50" width="2.10" height="16.00" fill="#f47a7a" opacity="0.5300261482837784"/>
<rect x="703.90" y="488.50" width="2.10" height="16.50" fill="#f47a7a" opacity="0.5977666486537657"/>
<rect x="707.40" y="472.50" width="3.60" height="16.00" fill="#f47a7a" opacity="0.4758755931163329"/>
<rect x="707.40" y="488.50" width="3.60" height="16.50" fill="#f47a7a" opacity="0.44767591385946265"/>
<rect x="715.20" y="472.50" width="2.10" height="16.00" fill="#f47a7a" opacity="0.568735557147251"/>
<rect x="715.20" y="488.50" width="2.10" height="16.50" fill="#f47a7a" opacity="0.5647629009673975"/>
<rect x="720.20" y="472.50" width="1.40" height="16.00" fill="#f47a7a" opacity="0.44049833093576657"/>
<rect x="720.20" y="488.50" width="1.40" height="16.50" fill="#f47a7a" opacity="0.4904575130634829"/>
<rect x="724.40" y="472.50" width="1.50" height="16.00" fill="#f47a7a" opacity="0.4603740395844668"/>
<rect x="724.40" y="488.50" width="1.50" height="16.50" fill="#f47a7a" opacity="0.3927029743851952"/>
<rect x="728.00" y="472.50" width="1.40" height="16.00" fill="#f47a7a" opacity="0.4511570960805166"/>
<rect x="728.00" y="488.50" width="1.40" height="16.50" fill="#f47a7a" opacity="0.5206440023036668"/>
<rect x="731.50" y="472.50" width="7.10" height="16.00" fill="#f47a7a" opacity="0.7823419357845621"/>
<rect x="731.50" y="488.50" width="7.10" height="16.50" fill="#f47a7a" opacity="0.7564938313116123"/>
<rect x="740.80" y="472.50" width="1.40" height="16.00" fill="#f47a7a" opacity="0.4970811044180771"/>
<rect x="740.80" y="488.50" width="1.40" height="16.50" fill="#f47a7a" opacity="0.4519189602474096"/>
<rect x="743.60" y="472.50" width="2.80" height="16.00" fill="#f47a7a" opacity="0.6033578504665734"/>
<rect x="743.60" y="488.50" width="2.80" height="16.50" fill="#f47a7a" opacity="0.457372365966221"/>
<rect x="748.60" y="472.50" width="2.10" height="16.00" fill="#f47a7a" opacity="0.35768462721371375"/>
<rect x="748.60" y="488.50" width="2.10" height="16.50" fill="#f47a7a" opacity="0.462421816879499"/>
<rect x="759.20" y="472.50" width="1.40" height="16.00" fill="#f47a7a" opacity="0.35673181951760297"/>
<rect x="759.20" y="488.50" width="1.40" height="16.50" fill="#f47a7a" opacity="0.4151184642053035"/>
<rect x="763.50" y="472.50" width="3.50" height="16.00" fill="#f47a7a" opacity="0.9174571199195932"/>
<rect x="763.50" y="488.50" width="3.50" height="16.50" fill="#f47a7a" opacity="0.9046308585187285"/>
<rect x="768.40" y="472.50" width="2.10" height="16.00" fill="#f47a7a" opacity="0.3997437846536442"/>
<rect x="768.40" y="488.50" width="2.10" height="16.50" fill="#f47a7a" opacity="0.4006158181010772"/>
<rect x="772.70" y="472.50" width="3.50" height="16.00" fill="#f47a7a" opacity="0.8925582178169932"/>
<rect x="772.70" y="488.50" width="3.50" height="16.50" fill="#f47a7a" opacity="0.9349066152556396"/>
<rect x="777.60" y="472.50" width="5.70" height="16.00" fill="#f47a7a" opacity="0.6324623418959138"/>
<rect x="777.60" y="488.50" width="5.70" height="16.50" fill="#f47a7a" opacity="0.8298028783377668"/>
<rect x="384.35" y="505.00" width="1.30" height="49.00" fill="#f47a7a" opacity="0.5"/>
<rect x="396.35" y="505.00" width="1.30" height="49.00" fill="#f47a7a" opacity="0.7"/>
<rect x="402.75" y="505.00" width="1.30" height="49.00" fill="#f47a7a" opacity="0.6"/>
<rect x="406.95" y="505.00" width="1.30" height="49.00" fill="#f47a7a" opacity="0.30000000000000004"/>
<rect x="415.45" y="505.00" width="1.30" height="49.00" fill="#f47a7a" opacity="0.7"/>
<rect x="424.75" y="505.00" width="1.30" height="49.00" fill="#f47a7a" opacity="0.30000000000000004"/>
<rect x="429.65" y="505.00" width="1.30" height="49.00" fill="#f47a7a" opacity="0.44999999999999996"/>
<rect x="435.75" y="505.00" width="4.50" height="49.00" fill="#f47a7a" opacity="0.6"/>
<rect x="448.85" y="505.00" width="1.30" height="49.00" fill="#f47a7a" opacity="0.44999999999999996"/>
<rect x="458.05" y="505.00" width="1.30" height="49.00" fill="#f47a7a" opacity="0.30000000000000004"/>
<rect x="492.90" y="505.00" width="6.40" height="49.00" fill="#f47a7a" opacity="0.85"/>
<rect x="514.95" y="505.00" width="1.30" height="49.00" fill="#f47a7a" opacity="0.6"/>
<rect x="522.05" y="505.00" width="1.30" height="49.00" fill="#f47a7a" opacity="0.4"/>
<rect x="525.55" y="505.00" width="1.30" height="49.00" fill="#f47a7a" opacity="0.6"/>
<rect x="534.15" y="505.00" width="1.30" height="49.00" fill="#f47a7a" opacity="0.44999999999999996"/>
<rect x="542.65" y="505.00" width="1.30" height="49.00" fill="#f47a7a" opacity="0.44999999999999996"/>
<rect x="548.25" y="505.00" width="1.30" height="49.00" fill="#f47a7a" opacity="0.65"/>
<rect x="559.65" y="505.00" width="1.30" height="49.00" fill="#f47a7a" opacity="0.30000000000000004"/>
<rect x="563.15" y="505.00" width="1.30" height="49.00" fill="#f47a7a" opacity="0.44999999999999996"/>
<rect x="566.75" y="505.00" width="1.30" height="49.00" fill="#f47a7a" opacity="0.30000000000000004"/>
<rect x="576.65" y="505.00" width="1.30" height="49.00" fill="#f47a7a" opacity="0.44999999999999996"/>
<rect x="584.65" y="505.00" width="1.30" height="49.00" fill="#f47a7a" opacity="0.30000000000000004"/>
<rect x="594.55" y="505.00" width="1.30" height="49.00" fill="#f47a7a" opacity="0.44999999999999996"/>
<rect x="598.75" y="505.00" width="1.30" height="49.00" fill="#f47a7a" opacity="0.44999999999999996"/>
<rect x="606.55" y="505.00" width="1.30" height="49.00" fill="#f47a7a" opacity="0.44999999999999996"/>
<rect x="618.65" y="505.00" width="1.30" height="49.00" fill="#f47a7a" opacity="0.30000000000000004"/>
<rect x="620.75" y="505.00" width="1.30" height="49.00" fill="#f47a7a" opacity="0.30000000000000004"/>
<rect x="634.95" y="505.00" width="1.30" height="49.00" fill="#f47a7a" opacity="0.44999999999999996"/>
<rect x="642.75" y="505.00" width="1.30" height="49.00" fill="#f47a7a" opacity="0.44999999999999996"/>
<rect x="652.75" y="505.00" width="1.30" height="49.00" fill="#f47a7a" opacity="0.30000000000000004"/>
<rect x="663.35" y="505.00" width="1.30" height="49.00" fill="#f47a7a" opacity="0.44999999999999996"/>
<rect x="668.90" y="505.00" width="1.60" height="49.00" fill="#f47a7a" opacity="0.85"/>
<rect x="676.85" y="505.00" width="1.30" height="49.00" fill="#f47a7a" opacity="0.6"/>
<rect x="696.85" y="505.00" width="1.30" height="49.00" fill="#f47a7a" opacity="0.6"/>
<rect x="703.25" y="505.00" width="1.30" height="49.00" fill="#f47a7a" opacity="0.44999999999999996"/>
<rect x="733.75" y="505.00" width="1.30" height="49.00" fill="#f47a7a" opacity="0.6"/>
<rect x="736.55" y="505.00" width="1.30" height="49.00" fill="#f47a7a" opacity="0.44999999999999996"/>
<rect x="750.05" y="505.00" width="1.30" height="49.00" fill="#f47a7a" opacity="0.44999999999999996"/>
<rect x="758.55" y="505.00" width="1.30" height="49.00" fill="#f47a7a" opacity="0.30000000000000004"/>
<rect x="764.25" y="505.00" width="1.30" height="49.00" fill="#f47a7a" opacity="0.6"/>
<rect x="774.15" y="505.00" width="1.30" height="49.00" fill="#f47a7a" opacity="0.44999999999999996"/>
<rect x="779.85" y="505.00" width="1.30" height="49.00" fill="#f47a7a" opacity="0.44999999999999996"/>
<rect x="713.00" y="545.20" width="4.30" height="8.50" fill="#7878f0" opacity="0.85"/>
<line x1="376.3" y1="554.2" x2="376.3" y2="639.6" stroke="#555" stroke-width="1"/>
<line x1="376.3" y1="639.6" x2="789" y2="639.6" stroke="#555" stroke-width="1"/>
<text x="372.8" y="580.0" font-size="9" fill="#111" text-anchor="end">12</text>
<text x="372.8" y="601.2" font-size="9" fill="#111" text-anchor="end">8</text>
<text x="372.8" y="621.7" font-size="9" fill="#111" text-anchor="end">4</text>
<text transform="translate(340.9,646.8) rotate(-90)" font-size="12.5" fill="#111">Recombination</text>
<text transform="translate(355,646.8) rotate(-90)" font-size="12.5" fill="#111">frequency</text>
<path d="M378.60,634.2 L378.60,628.9 L379.10,628.9 L379.10,623.5 L379.60,623.5 L379.60,623.5 L380.10,623.5 L380.10,634.2 L380.60,634.2 L380.60,628.9 L382.60,628.9 L382.60,639.6 L383.60,639.6 L383.60,634.2 L384.10,634.2 L384.10,628.9 L384.60,628.9 L384.60,634.2 L385.10,634.2 L385.10,623.5 L385.60,623.5 L385.60,639.6 L386.10,639.6 L386.10,639.6 L387.10,639.6 L387.10,639.6 L387.60,639.6 L387.60,623.5 L388.10,623.5 L388.10,634.2 L388.60,634.2 L388.60,623.5 L389.10,623.5 L389.10,618.1 L389.60,618.1 L389.60,628.9 L390.10,628.9 L390.10,623.5 L390.60,623.5 L390.60,618.1 L391.10,618.1 L391.10,634.2 L392.10,634.2 L392.10,639.6 L392.60,639.6 L392.60,639.6 L393.10,639.6 L393.10,639.6 L393.60,639.6 L393.60,634.2 L394.10,634.2 L394.10,634.2 L394.60,634.2 L394.60,639.6 L395.10,639.6 L395.10,628.9 L395.60,628.9 L395.60,596.6 L396.10,596.6 L396.10,623.5 L396.60,623.5 L396.60,612.8 L397.10,612.8 L397.10,623.5 L397.60,623.5 L397.60,628.9 L398.10,628.9 L398.10,628.9 L398.60,628.9 L398.60,639.6 L399.60,639.6 L399.60,639.6 L401.60,639.6 L401.60,623.5 L402.10,623.5 L402.10,628.9 L404.10,628.9 L404.10,634.2 L404.60,634.2 L404.60,628.9 L405.10,628.9 L405.10,618.1 L405.60,618.1 L405.60,612.8 L406.10,612.8 L406.10,634.2 L406.60,634.2 L406.60,628.9 L407.60,628.9 L407.60,618.1 L408.10,618.1 L408.10,634.2 L409.10,634.2 L409.10,618.1 L409.60,618.1 L409.60,623.5 L410.10,623.5 L410.10,628.9 L410.60,628.9 L410.60,618.1 L411.10,618.1 L411.10,628.9 L411.60,628.9 L411.60,618.1 L412.10,618.1 L412.10,628.9 L415.10,628.9 L415.10,620.8 L415.60,620.8 L415.60,628.9 L416.10,628.9 L416.10,612.8 L416.60,612.8 L416.60,628.9 L417.10,628.9 L417.10,618.1 L417.60,618.1 L417.60,623.5 L418.10,623.5 L418.10,623.5 L418.60,623.5 L418.60,623.5 L419.10,623.5 L419.10,628.9 L419.60,628.9 L419.60,634.2 L420.10,634.2 L420.10,628.9 L420.60,628.9 L420.60,623.5 L421.10,623.5 L421.10,623.5 L421.60,623.5 L421.60,623.5 L422.10,623.5 L422.10,615.4 L422.60,615.4 L422.60,618.1 L423.10,618.1 L423.10,612.8 L423.60,612.8 L423.60,634.2 L424.10,634.2 L424.10,628.9 L426.10,628.9 L426.10,623.5 L426.60,623.5 L426.60,623.5 L427.10,623.5 L427.10,623.5 L427.60,623.5 L427.60,628.9 L428.10,628.9 L428.10,634.2 L428.60,634.2 L428.60,639.6 L429.10,639.6 L429.10,612.8 L429.60,612.8 L429.60,628.9 L430.10,628.9 L430.10,628.9 L430.60,628.9 L430.60,623.5 L431.10,623.5 L431.10,618.1 L431.60,618.1 L431.60,623.5 L432.10,623.5 L432.10,628.9 L432.60,628.9 L432.60,628.9 L433.60,628.9 L433.60,623.5 L434.10,623.5 L434.10,607.4 L434.60,607.4 L434.60,623.5 L435.10,623.5 L435.10,634.2 L435.60,634.2 L435.60,623.5 L436.10,623.5 L436.10,618.1 L436.60,618.1 L436.60,618.1 L437.10,618.1 L437.10,607.4 L437.60,607.4 L437.60,612.8 L438.10,612.8 L438.10,623.5 L438.60,623.5 L438.60,634.2 L439.10,634.2 L439.10,639.6 L440.10,639.6 L440.10,628.9 L440.60,628.9 L440.60,639.6 L441.10,639.6 L441.10,639.6 L441.60,639.6 L441.60,634.2 L444.60,634.2 L444.60,634.2 L445.10,634.2 L445.10,634.2 L445.60,634.2 L445.60,639.6 L446.10,639.6 L446.10,634.2 L446.60,634.2 L446.60,634.2 L447.10,634.2 L447.10,634.2 L447.60,634.2 L447.60,634.2 L448.10,634.2 L448.10,634.2 L448.60,634.2 L448.60,639.6 L449.10,639.6 L449.10,628.9 L449.60,628.9 L449.60,634.2 L450.60,634.2 L450.60,628.9 L451.10,628.9 L451.10,634.2 L451.60,634.2 L451.60,634.2 L452.10,634.2 L452.10,628.9 L452.60,628.9 L452.60,634.2 L453.10,634.2 L453.10,639.6 L454.10,639.6 L454.10,628.9 L454.60,628.9 L454.60,628.9 L455.10,628.9 L455.10,628.9 L455.60,628.9 L455.60,639.6 L456.60,639.6 L456.60,634.2 L457.10,634.2 L457.10,634.2 L457.60,634.2 L457.60,639.6 L458.10,639.6 L458.10,623.5 L458.60,623.5 L458.60,628.9 L459.10,628.9 L459.10,628.9 L459.60,628.9 L459.60,634.2 L460.10,634.2 L460.10,628.9 L460.60,628.9 L460.60,634.2 L461.10,634.2 L461.10,639.6 L461.60,639.6 L461.60,639.6 L462.10,639.6 L462.10,639.6 L462.60,639.6 L462.60,639.6 L463.10,639.6 L463.10,639.6 L463.60,639.6 L463.60,639.6 L464.10,639.6 L464.10,639.6 L464.60,639.6 L464.60,639.6 L465.10,639.6 L465.10,639.6 L465.60,639.6 L465.60,639.6 L466.10,639.6 L466.10,639.6 L466.60,639.6 L466.60,639.6 L467.10,639.6 L467.10,639.6 L467.60,639.6 L467.60,639.6 L468.10,639.6 L468.10,639.6 L468.60,639.6 L468.60,639.6 L469.10,639.6 L469.10,639.6 L469.60,639.6 L469.60,639.6 L470.10,639.6 L470.10,639.6 L470.60,639.6 L470.60,639.6 L471.10,639.6 L471.10,628.9 L471.60,628.9 L471.60,628.9 L472.60,628.9 L472.60,634.2 L473.10,634.2 L473.10,634.2 L473.60,634.2 L473.60,628.9 L474.10,628.9 L474.10,634.2 L474.60,634.2 L474.60,628.9 L475.10,628.9 L475.10,628.9 L475.60,628.9 L475.60,639.6 L476.10,639.6 L476.10,639.6 L476.60,639.6 L476.60,628.9 L477.10,628.9 L477.10,623.5 L477.60,623.5 L477.60,634.2 L478.10,634.2 L478.10,639.6 L479.10,639.6 L479.10,639.6 L479.60,639.6 L479.60,618.1 L480.10,618.1 L480.10,634.2 L480.60,634.2 L480.60,618.1 L481.10,618.1 L481.10,623.5 L481.60,623.5 L481.60,628.9 L482.10,628.9 L482.10,634.2 L482.60,634.2 L482.60,628.9 L483.10,628.9 L483.10,639.6 L483.60,639.6 L483.60,639.6 L484.10,639.6 L484.10,639.6 L484.60,639.6 L484.60,639.6 L485.10,639.6 L485.10,639.6 L485.60,639.6 L485.60,639.6 L486.10,639.6 L486.10,639.6 L486.60,639.6 L486.60,634.2 L487.10,634.2 L487.10,634.2 L487.60,634.2 L487.60,634.2 L488.10,634.2 L488.10,634.2 L488.60,634.2 L488.60,634.2 L489.10,634.2 L489.10,639.6 L489.60,639.6 L489.60,634.2 L491.60,634.2 L491.60,634.2 L492.10,634.2 L492.10,634.2 L492.60,634.2 L492.60,634.2 L493.10,634.2 L493.10,628.9 L494.10,628.9 L494.10,634.2 L494.60,634.2 L494.60,634.2 L495.10,634.2 L495.10,628.9 L497.10,628.9 L497.10,634.2 L497.60,634.2 L497.60,634.2 L498.10,634.2 L498.10,634.2 L498.60,634.2 L498.60,639.6 L501.60,639.6 L501.60,628.9 L502.10,628.9 L502.10,618.1 L502.60,618.1 L502.60,634.2 L503.10,634.2 L503.10,612.8 L503.60,612.8 L503.60,634.2 L504.10,634.2 L504.10,615.4 L504.60,615.4 L504.60,628.9 L505.10,628.9 L505.10,623.5 L505.60,623.5 L505.60,628.9 L506.60,628.9 L506.60,634.2 L507.10,634.2 L507.10,628.9 L507.60,628.9 L507.60,623.5 L508.10,623.5 L508.10,623.5 L508.60,623.5 L508.60,618.1 L509.10,618.1 L509.10,623.5 L509.60,623.5 L509.60,618.1 L510.10,618.1 L510.10,623.5 L510.60,623.5 L510.60,634.2 L511.10,634.2 L511.10,618.1 L511.60,618.1 L511.60,639.6 L512.10,639.6 L512.10,634.2 L515.10,634.2 L515.10,623.5 L515.60,623.5 L515.60,602.0 L516.10,602.0 L516.10,623.5 L516.60,623.5 L516.60,639.6 L517.10,639.6 L517.10,618.1 L517.60,618.1 L517.60,634.2 L518.10,634.2 L518.10,634.2 L518.60,634.2 L518.60,628.9 L519.10,628.9 L519.10,623.5 L519.60,623.5 L519.60,612.8 L520.10,612.8 L520.10,634.2 L520.60,634.2 L520.60,634.2 L521.10,634.2 L521.10,623.5 L521.60,623.5 L521.60,618.1 L522.10,618.1 L522.10,623.5 L522.60,623.5 L522.60,618.1 L523.10,618.1 L523.10,623.5 L523.60,623.5 L523.60,623.5 L524.10,623.5 L524.10,623.5 L524.60,623.5 L524.60,623.5 L525.10,623.5 L525.10,608.5 L525.60,608.5 L525.60,623.5 L526.10,623.5 L526.10,618.1 L526.60,618.1 L526.60,618.1 L527.10,618.1 L527.10,634.2 L527.60,634.2 L527.60,618.1 L528.10,618.1 L528.10,623.5 L528.60,623.5 L528.60,634.2 L529.10,634.2 L529.10,628.9 L529.60,628.9 L529.60,628.9 L530.10,628.9 L530.10,634.2 L530.60,634.2 L530.60,639.6 L531.10,639.6 L531.10,628.9 L531.60,628.9 L531.60,634.2 L532.10,634.2 L532.10,628.9 L532.60,628.9 L532.60,623.5 L533.10,623.5 L533.10,620.8 L533.60,620.8 L533.60,634.2 L534.60,634.2 L534.60,623.5 L535.10,623.5 L535.10,623.5 L535.60,623.5 L535.60,639.6 L536.60,639.6 L536.60,634.2 L537.10,634.2 L537.10,628.9 L537.60,628.9 L537.60,628.9 L538.10,628.9 L538.10,634.2 L538.60,634.2 L538.60,623.5 L539.10,623.5 L539.10,628.9 L539.60,628.9 L539.60,628.9 L540.10,628.9 L540.10,634.2 L540.60,634.2 L540.60,623.5 L541.10,623.5 L541.10,639.6 L542.10,639.6 L542.10,628.9 L542.60,628.9 L542.60,602.0 L543.10,602.0 L543.10,623.5 L543.60,623.5 L543.60,623.5 L544.10,623.5 L544.10,612.8 L544.60,612.8 L544.60,618.1 L545.10,618.1 L545.10,618.1 L545.60,618.1 L545.60,639.6 L547.60,639.6 L547.60,618.1 L548.10,618.1 L548.10,610.1 L548.60,610.1 L548.60,618.1 L549.10,618.1 L549.10,628.9 L549.60,628.9 L549.60,623.5 L550.10,623.5 L550.10,628.9 L552.10,628.9 L552.10,628.9 L552.60,628.9 L552.60,628.9 L553.10,628.9 L553.10,634.2 L553.60,634.2 L553.60,623.5 L554.10,623.5 L554.10,618.1 L554.60,618.1 L554.60,639.6 L555.10,639.6 L555.10,623.5 L555.60,623.5 L555.60,639.6 L556.60,639.6 L556.60,639.6 L558.60,639.6 L558.60,634.2 L559.10,634.2 L559.10,628.9 L559.60,628.9 L559.60,628.9 L560.10,628.9 L560.10,634.2 L560.60,634.2 L560.60,634.2 L561.10,634.2 L561.10,634.2 L561.60,634.2 L561.60,639.6 L562.10,639.6 L562.10,634.2 L563.10,634.2 L563.10,639.6 L563.60,639.6 L563.60,628.9 L564.10,628.9 L564.10,623.5 L564.60,623.5 L564.60,639.6 L565.10,639.6 L565.10,628.9 L565.60,628.9 L565.60,628.9 L566.10,628.9 L566.10,623.5 L566.60,623.5 L566.60,610.1 L567.10,610.1 L567.10,634.2 L567.60,634.2 L567.60,623.5 L568.10,623.5 L568.10,628.9 L568.60,628.9 L568.60,628.9 L569.10,628.9 L569.10,623.5 L569.60,623.5 L569.60,623.5 L570.10,623.5 L570.10,639.6 L570.60,639.6 L570.60,639.6 L571.10,639.6 L571.10,620.8 L571.60,620.8 L571.60,623.5 L572.10,623.5 L572.10,628.9 L572.60,628.9 L572.60,623.5 L573.10,623.5 L573.10,620.8 L573.60,620.8 L573.60,612.8 L574.10,612.8 L574.10,628.9 L574.60,628.9 L574.60,634.2 L575.60,634.2 L575.60,639.6 L576.10,639.6 L576.10,623.5 L576.60,623.5 L576.60,628.9 L577.10,628.9 L577.10,618.1 L577.60,618.1 L577.60,623.5 L578.10,623.5 L578.10,623.5 L578.60,623.5 L578.60,628.9 L579.10,628.9 L579.10,618.1 L579.60,618.1 L579.60,628.9 L580.10,628.9 L580.10,620.8 L580.60,620.8 L580.60,618.1 L581.10,618.1 L581.10,634.2 L581.60,634.2 L581.60,628.9 L582.10,628.9 L582.10,620.8 L582.60,620.8 L582.60,628.9 L583.10,628.9 L583.10,612.8 L583.60,612.8 L583.60,612.8 L584.10,612.8 L584.10,634.2 L584.60,634.2 L584.60,564.4 L585.10,564.4 L585.10,634.2 L585.60,634.2 L585.60,634.2 L586.10,634.2 L586.10,612.8 L586.60,612.8 L586.60,634.2 L587.10,634.2 L587.10,612.8 L587.60,612.8 L587.60,634.2 L588.10,634.2 L588.10,623.5 L588.60,623.5 L588.60,628.9 L589.10,628.9 L589.10,628.9 L590.10,628.9 L590.10,634.2 L590.60,634.2 L590.60,639.6 L591.10,639.6 L591.10,628.9 L592.10,628.9 L592.10,628.9 L592.60,628.9 L592.60,634.2 L593.10,634.2 L593.10,628.9 L593.60,628.9 L593.60,634.2 L594.10,634.2 L594.10,628.9 L594.60,628.9 L594.60,618.1 L595.10,618.1 L595.10,628.9 L595.60,628.9 L595.60,639.6 L596.10,639.6 L596.10,623.5 L596.60,623.5 L596.60,623.5 L597.10,623.5 L597.10,634.2 L597.60,634.2 L597.60,639.6 L598.10,639.6 L598.10,628.9 L598.60,628.9 L598.60,623.5 L599.10,623.5 L599.10,623.5 L599.60,623.5 L599.60,628.9 L600.10,628.9 L600.10,634.2 L601.10,634.2 L601.10,634.2 L601.60,634.2 L601.60,628.9 L602.10,628.9 L602.10,628.9 L602.60,628.9 L602.60,634.2 L603.10,634.2 L603.10,628.9 L603.60,628.9 L603.60,628.9 L604.10,628.9 L604.10,628.9 L604.60,628.9 L604.60,628.9 L605.10,628.9 L605.10,628.9 L605.60,628.9 L605.60,618.1 L606.10,618.1 L606.10,634.2 L606.60,634.2 L606.60,634.2 L607.10,634.2 L607.10,618.1 L607.60,618.1 L607.60,634.2 L608.10,634.2 L608.10,634.2 L610.10,634.2 L610.10,639.6 L610.60,639.6 L610.60,634.2 L611.10,634.2 L611.10,634.2 L611.60,634.2 L611.60,628.9 L612.10,628.9 L612.10,639.6 L612.60,639.6 L612.60,628.9 L613.10,628.9 L613.10,618.1 L613.60,618.1 L613.60,628.9 L614.10,628.9 L614.10,634.2 L614.60,634.2 L614.60,628.9 L615.60,628.9 L615.60,639.6 L616.10,639.6 L616.10,639.6 L616.60,639.6 L616.60,628.9 L617.10,628.9 L617.10,628.9 L617.60,628.9 L617.60,628.9 L618.10,628.9 L618.10,639.6 L618.60,639.6 L618.60,628.9 L619.10,628.9 L619.10,628.9 L619.60,628.9 L619.60,634.2 L620.60,634.2 L620.60,634.2 L621.10,634.2 L621.10,634.2 L624.10,634.2 L624.10,639.6 L624.60,639.6 L624.60,639.6 L625.10,639.6 L625.10,623.5 L625.60,623.5 L625.60,634.2 L626.10,634.2 L626.10,634.2 L626.60,634.2 L626.60,634.2 L628.60,634.2 L628.60,634.2 L629.10,634.2 L629.10,634.2 L629.60,634.2 L629.60,634.2 L630.10,634.2 L630.10,639.6 L630.60,639.6 L630.60,639.6 L631.10,639.6 L631.10,634.2 L631.60,634.2 L631.60,639.6 L632.10,639.6 L632.10,634.2 L632.60,634.2 L632.60,639.6 L633.60,639.6 L633.60,623.5 L634.10,623.5 L634.10,634.2 L634.60,634.2 L634.60,639.6 L635.10,639.6 L635.10,628.9 L636.10,628.9 L636.10,634.2 L636.60,634.2 L636.60,628.9 L637.60,628.9 L637.60,628.9 L638.10,628.9 L638.10,628.9 L639.10,628.9 L639.10,639.6 L639.60,639.6 L639.60,634.2 L640.10,634.2 L640.10,628.9 L640.60,628.9 L640.60,628.9 L641.10,628.9 L641.10,618.1 L641.60,618.1 L641.60,628.9 L642.10,628.9 L642.10,634.2 L642.60,634.2 L642.60,623.5 L643.10,623.5 L643.10,623.5 L643.60,623.5 L643.60,618.1 L644.10,618.1 L644.10,628.9 L644.60,628.9 L644.60,623.5 L645.10,623.5 L645.10,628.9 L645.60,628.9 L645.60,634.2 L646.10,634.2 L646.10,634.2 L646.60,634.2 L646.60,634.2 L647.10,634.2 L647.10,639.6 L649.10,639.6 L649.10,639.6 L649.60,639.6 L649.60,634.2 L651.60,634.2 L651.60,628.9 L652.10,628.9 L652.10,634.2 L652.60,634.2 L652.60,634.2 L654.60,634.2 L654.60,634.2 L655.10,634.2 L655.10,639.6 L655.60,639.6 L655.60,634.2 L656.10,634.2 L656.10,634.2 L656.60,634.2 L656.60,634.2 L657.10,634.2 L657.10,639.6 L657.60,639.6 L657.60,628.9 L660.60,628.9 L660.60,634.2 L661.10,634.2 L661.10,623.5 L661.60,623.5 L661.60,628.9 L662.10,628.9 L662.10,618.1 L662.60,618.1 L662.60,628.9 L663.10,628.9 L663.10,623.5 L663.60,623.5 L663.60,628.9 L664.10,628.9 L664.10,618.1 L664.60,618.1 L664.60,618.1 L665.10,618.1 L665.10,612.8 L665.60,612.8 L665.60,623.5 L666.10,623.5 L666.10,618.1 L666.60,618.1 L666.60,623.5 L667.10,623.5 L667.10,623.5 L667.60,623.5 L667.60,628.9 L668.10,628.9 L668.10,607.4 L668.60,607.4 L668.60,623.5 L669.10,623.5 L669.10,628.9 L669.60,628.9 L669.60,618.1 L670.10,618.1 L670.10,623.5 L670.60,623.5 L670.60,618.1 L671.10,618.1 L671.10,623.5 L671.60,623.5 L671.60,612.8 L672.10,612.8 L672.10,634.2 L672.60,634.2 L672.60,618.1 L673.10,618.1 L673.10,628.9 L673.60,628.9 L673.60,623.5 L674.10,623.5 L674.10,628.9 L674.60,628.9 L674.60,628.9 L675.10,628.9 L675.10,634.2 L676.10,634.2 L676.10,618.1 L676.60,618.1 L676.60,612.8 L677.10,612.8 L677.10,628.9 L677.60,628.9 L677.60,612.8 L678.10,612.8 L678.10,628.9 L678.60,628.9 L678.60,628.9 L679.10,628.9 L679.10,628.9 L679.60,628.9 L679.60,639.6 L680.10,639.6 L680.10,634.2 L680.60,634.2 L680.60,628.9 L681.10,628.9 L681.10,623.5 L681.60,623.5 L681.60,618.1 L682.10,618.1 L682.10,628.9 L682.60,628.9 L682.60,634.2 L683.10,634.2 L683.10,628.9 L683.60,628.9 L683.60,623.5 L684.10,623.5 L684.10,639.6 L684.60,639.6 L684.60,639.6 L685.10,639.6 L685.10,618.1 L685.60,618.1 L685.60,634.2 L686.60,634.2 L686.60,634.2 L687.10,634.2 L687.10,628.9 L688.10,628.9 L688.10,618.1 L688.60,618.1 L688.60,623.5 L689.10,623.5 L689.10,623.5 L689.60,623.5 L689.60,634.2 L690.10,634.2 L690.10,628.9 L691.10,628.9 L691.10,639.6 L691.60,639.6 L691.60,623.5 L692.10,623.5 L692.10,634.2 L692.60,634.2 L692.60,623.5 L693.10,623.5 L693.10,639.6 L693.60,639.6 L693.60,639.6 L694.10,639.6 L694.10,634.2 L694.60,634.2 L694.60,628.9 L695.10,628.9 L695.10,628.9 L695.60,628.9 L695.60,639.6 L696.10,639.6 L696.10,634.2 L696.60,634.2 L696.60,623.5 L697.10,623.5 L697.10,618.1 L697.60,618.1 L697.60,608.5 L698.10,608.5 L698.10,634.2 L698.60,634.2 L698.60,618.1 L699.10,618.1 L699.10,639.6 L699.60,639.6 L699.60,639.6 L700.10,639.6 L700.10,618.1 L700.60,618.1 L700.60,628.9 L701.10,628.9 L701.10,628.9 L701.60,628.9 L701.60,628.9 L702.10,628.9 L702.10,628.9 L702.60,628.9 L702.60,623.5 L703.10,623.5 L703.10,623.5 L703.60,623.5 L703.60,612.8 L704.10,612.8 L704.10,639.6 L704.60,639.6 L704.60,639.6 L705.10,639.6 L705.10,623.5 L705.60,623.5 L705.60,623.5 L706.10,623.5 L706.10,634.2 L708.10,634.2 L708.10,628.9 L708.60,628.9 L708.60,634.2 L709.10,634.2 L709.10,618.1 L709.60,618.1 L709.60,628.9 L710.60,628.9 L710.60,634.2 L711.10,634.2 L711.10,628.9 L711.60,628.9 L711.60,623.5 L712.10,623.5 L712.10,634.2 L712.60,634.2 L712.60,634.2 L713.10,634.2 L713.10,639.6 L713.60,639.6 L713.60,628.9 L714.10,628.9 L714.10,634.2 L716.10,634.2 L716.10,628.9 L716.60,628.9 L716.60,623.5 L717.10,623.5 L717.10,628.9 L717.60,628.9 L717.60,634.2 L718.10,634.2 L718.10,623.5 L718.60,623.5 L718.60,634.2 L719.10,634.2 L719.10,628.9 L719.60,628.9 L719.60,628.9 L720.10,628.9 L720.10,628.9 L720.60,628.9 L720.60,634.2 L721.10,634.2 L721.10,634.2 L721.60,634.2 L721.60,628.9 L722.10,628.9 L722.10,634.2 L722.60,634.2 L722.60,634.2 L723.10,634.2 L723.10,623.5 L723.60,623.5 L723.60,639.6 L724.10,639.6 L724.10,639.6 L724.60,639.6 L724.60,634.2 L725.10,634.2 L725.10,623.5 L725.60,623.5 L725.60,634.2 L726.10,634.2 L726.10,628.9 L726.60,628.9 L726.60,628.9 L727.10,628.9 L727.10,623.5 L727.60,623.5 L727.60,639.6 L729.60,639.6 L729.60,634.2 L730.10,634.2 L730.10,634.2 L730.60,634.2 L730.60,634.2 L731.60,634.2 L731.60,634.2 L732.10,634.2 L732.10,634.2 L732.60,634.2 L732.60,618.1 L733.10,618.1 L733.10,623.5 L733.60,623.5 L733.60,628.9 L736.60,628.9 L736.60,608.5 L737.10,608.5 L737.10,612.8 L737.60,612.8 L737.60,634.2 L738.10,634.2 L738.10,623.5 L738.60,623.5 L738.60,623.5 L739.10,623.5 L739.10,628.9 L739.60,628.9 L739.60,618.1 L740.10,618.1 L740.10,628.9 L742.10,628.9 L742.10,623.5 L742.60,623.5 L742.60,628.9 L743.10,628.9 L743.10,623.5 L743.60,623.5 L743.60,623.5 L744.10,623.5 L744.10,634.2 L744.60,634.2 L744.60,628.9 L745.10,628.9 L745.10,618.1 L745.60,618.1 L745.60,623.5 L746.10,623.5 L746.10,628.9 L746.60,628.9 L746.60,628.9 L747.10,628.9 L747.10,623.5 L747.60,623.5 L747.60,628.9 L750.60,628.9 L750.60,639.6 L751.10,639.6 L751.10,634.2 L751.60,634.2 L751.60,628.9 L752.60,628.9 L752.60,628.9 L753.10,628.9 L753.10,639.6 L753.60,639.6 L753.60,639.6 L756.60,639.6 L756.60,639.6 L757.10,639.6 L757.10,639.6 L760.10,639.6 L760.10,628.9 L760.60,628.9 L760.60,628.9 L761.10,628.9 L761.10,623.5 L761.60,623.5 L761.60,623.5 L762.10,623.5 L762.10,618.1 L762.60,618.1 L762.60,639.6 L765.60,639.6 L765.60,628.9 L766.10,628.9 L766.10,623.5 L766.60,623.5 L766.60,623.5 L767.10,623.5 L767.10,628.9 L767.60,628.9 L767.60,628.9 L768.10,628.9 L768.10,618.1 L768.60,618.1 L768.60,639.6 L769.10,639.6 L769.10,634.2 L769.60,634.2 L769.60,628.9 L770.10,628.9 L770.10,634.2 L771.10,634.2 L771.10,639.6 L773.10,639.6 L773.10,623.5 L773.60,623.5 L773.60,612.8 L774.10,612.8 L774.10,628.9 L774.60,628.9 L774.60,618.1 L775.10,618.1 L775.10,618.1 L775.60,618.1 L775.60,602.0 L776.10,602.0 L776.10,612.8 L776.60,612.8 L776.60,618.1 L777.10,618.1 L777.10,634.2 L777.60,634.2 L777.60,634.2 L778.10,634.2 L778.10,628.9 L780.10,628.9 L780.10,623.5 L780.60,623.5 L780.60,623.5 L781.10,623.5 L781.10,634.2 L782.10,634.2 L782.10,612.8 L782.60,612.8 L782.60,634.2 L783.10,634.2 L783.10,623.5 L783.60,623.5 L783.60,628.9 L784.10,628.9 L784.10,628.9" stroke="#000" stroke-width="0.55" fill="none"/>
</svg>
</body></html>
